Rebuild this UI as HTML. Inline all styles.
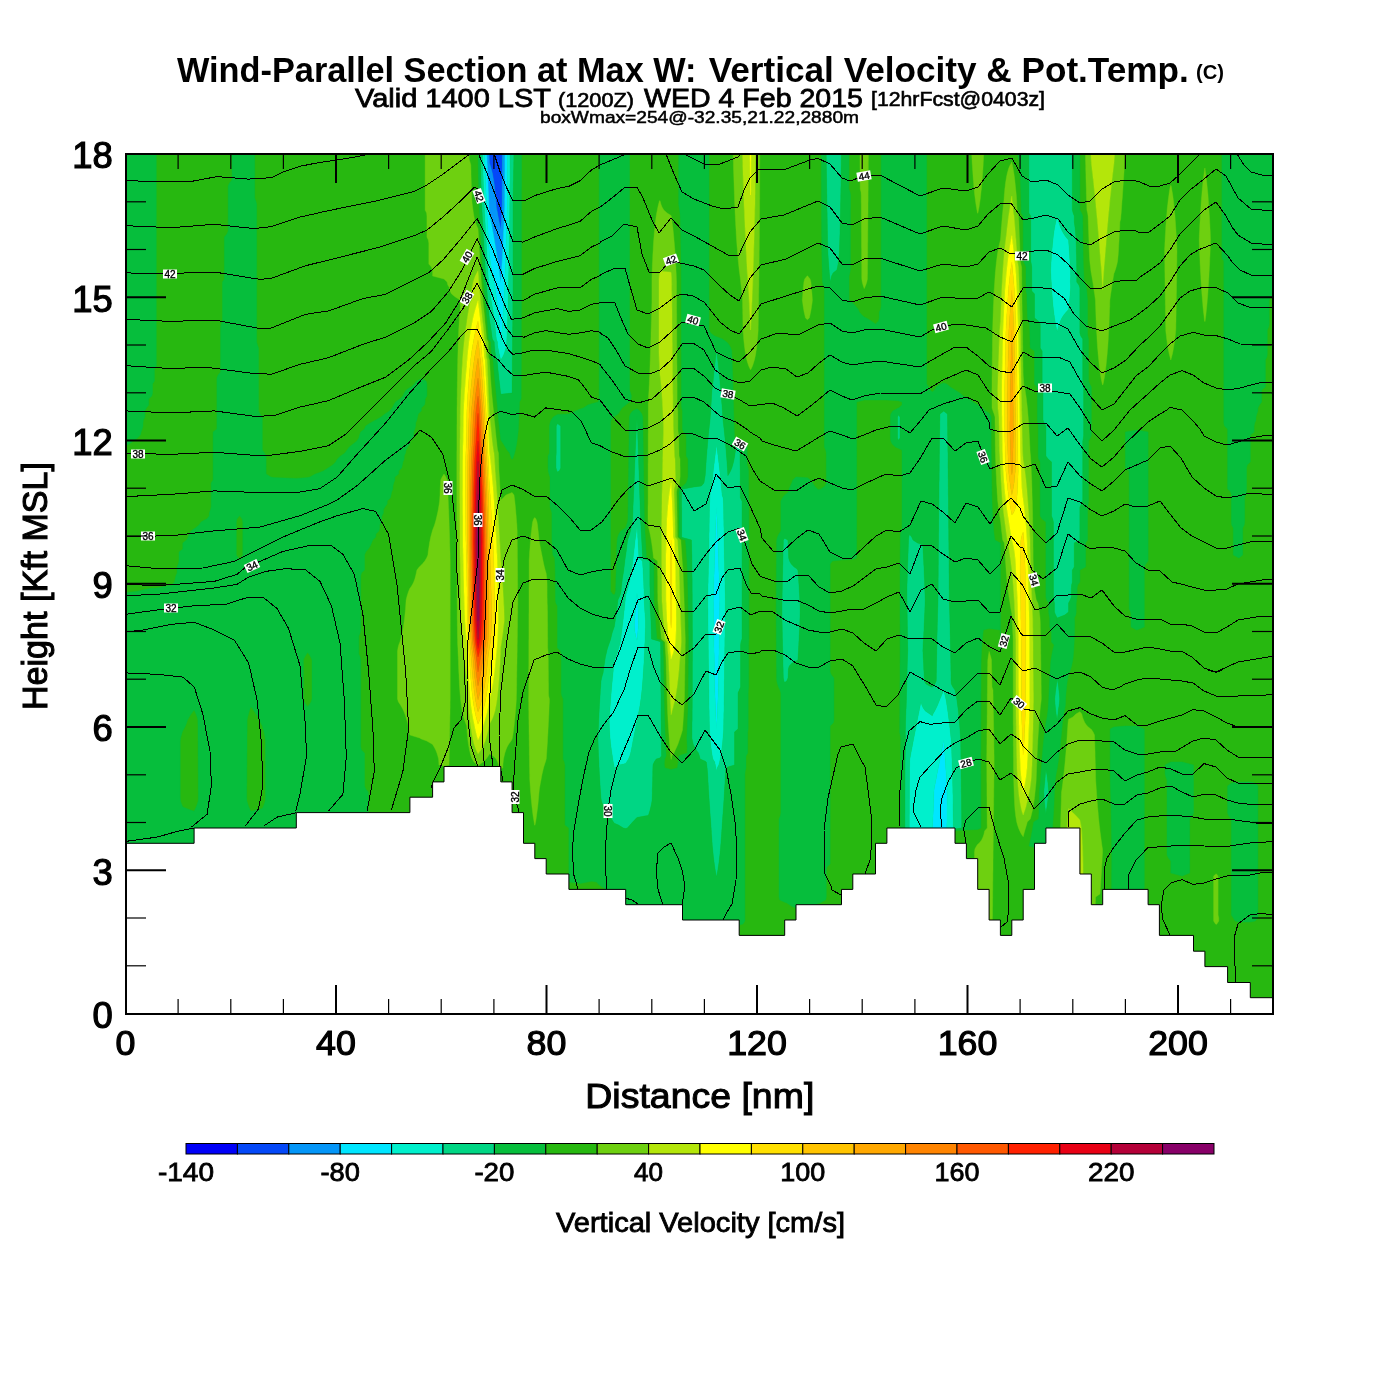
<!DOCTYPE html>
<html><head><meta charset="utf-8"><title>Wind-Parallel Section</title>
<style>html,body{margin:0;padding:0;background:#fff}svg{display:block}text{font-family:"Liberation Sans",sans-serif;fill:#000}</style>
</head><body>
<svg width="1400" height="1400" viewBox="0 0 1400 1400">
<rect width="1400" height="1400" fill="#fff"/>
<rect x="125" y="153" width="1148" height="861" fill="#27b810"/>
<clipPath id="pc"><rect x="125" y="154" width="1148" height="860"/></clipPath>
<g clip-path="url(#pc)">
<path fill="#0448f8" stroke="#0448f8" stroke-width="0.4" fill-rule="evenodd" d="M488.9,150 489.4,150 500.8,150 502.3,150 502.3,153 502.3,156 502.3,159 502.3,162 502.3,165 502.3,168 502.3,171 502.3,174 502.3,177 502.2,180 502.2,183 502.2,186 502.2,189 502.2,192 502.2,195 502.2,198 502.2,201 502.2,204 502.2,207 502,210 501.8,213 501.7,216 501.5,219 501.3,222 501.1,225 500.9,228 500.8,230.2 500.4,228 499.8,225 499.2,222 498.6,219 498,216 497.5,213 496.9,210 496.3,207 496.1,204 495.9,201 495.6,198 495.4,195 495.1,192 494.7,189 494.4,186 494,183 493.5,180 493,177 492.5,174 491.8,171 491,168 490.1,165 489.4,163 489.4,162 489.2,159 489.1,156 489,153 488.9,150Z"/>
<path fill="#0496f8" stroke="#0496f8" stroke-width="0.4" fill-rule="evenodd" d="M486.7,150 488.9,150 489,153 489.1,156 489.2,159 489.4,162 489.4,163 490.1,165 491,168 491.8,171 492.5,174 493,177 493.5,180 494,183 494.4,186 494.7,189 495.1,192 495.4,195 495.6,198 495.9,201 496.1,204 496.3,207 496.9,210 497.5,213 498,216 498.6,219 499.2,222 499.8,225 500.4,228 500.8,230.2 500.9,228 501.1,225 501.3,222 501.5,219 501.7,216 501.8,213 502,210 502.2,207 502.2,204 502.2,201 502.2,198 502.2,195 502.2,192 502.2,189 502.2,186 502.2,183 502.2,180 502.3,177 502.3,174 502.3,171 502.3,168 502.3,165 502.3,162 502.3,159 502.3,156 502.3,153 502.3,150 504.9,150 504.9,153 504.9,156 504.9,159 504.9,162 504.9,165 504.9,168 504.9,171 504.8,174 504.8,177 504.8,180 504.8,183 504.8,186 504.8,189 504.8,192 504.8,195 504.8,198 504.7,201 504.7,204 504.7,207 504.6,210 504.5,213 504.3,216 504.2,219 504.1,222 503.9,225 503.8,228 503.6,231 503.5,234 503.4,237 503.2,240 503.1,243 503,246 502.8,249 502.7,252 502.5,255 502.4,258 502.2,261 502,264 501.8,267 501.6,270 501.5,273 501.3,276 501.1,279 500.8,282 500.8,283.1 500.6,282 500.2,279 499.8,276 499.4,273 499,270 498.5,267 498.1,264 497.7,261 497.2,258 496.7,255 496.3,252 495.8,249 495.3,246 494.8,243 494.3,240 493.8,237 493.3,234 492.7,231 492.2,228 491.6,225 491,222 490.5,219 489.9,216 489.4,213.5 489.4,213 489.2,210 489,207 488.9,204 488.8,201 488.6,198 488.5,195 488.4,192 488.2,189 488.1,186 488,183 487.9,180 487.7,177 487.6,174 487.5,171 487.4,168 487.3,165 487.1,162 487,159 486.9,156 486.8,153 486.7,150Z"/>
<path fill="#00e6ff" stroke="#00e6ff" stroke-width="0.4" fill-rule="evenodd" d="M484.5,150 486.7,150 486.8,153 486.9,156 487,159 487.1,162 487.3,165 487.4,168 487.5,171 487.6,174 487.7,177 487.9,180 488,183 488.1,186 488.2,189 488.4,192 488.5,195 488.6,198 488.8,201 488.9,204 489,207 489.2,210 489.4,213 489.4,213.5 489.9,216 490.5,219 491,222 491.6,225 492.2,228 492.7,231 493.3,234 493.8,237 494.3,240 494.8,243 495.3,246 495.8,249 496.3,252 496.7,255 497.2,258 497.7,261 498.1,264 498.5,267 499,270 499.4,273 499.8,276 500.2,279 500.6,282 500.8,283.1 500.8,282 501.1,279 501.3,276 501.5,273 501.6,270 501.8,267 502,264 502.2,261 502.4,258 502.5,255 502.7,252 502.8,249 503,246 503.1,243 503.2,240 503.4,237 503.5,234 503.6,231 503.8,228 503.9,225 504.1,222 504.2,219 504.3,216 504.5,213 504.6,210 504.7,207 504.7,204 504.7,201 504.8,198 504.8,195 504.8,192 504.8,189 504.8,186 504.8,183 504.8,180 504.8,177 504.8,174 504.9,171 504.9,168 504.9,165 504.9,162 504.9,159 504.9,156 504.9,153 504.9,150 507.6,150 507.5,153 507.5,156 507.5,159 507.5,162 507.5,165 507.5,168 507.4,171 507.4,174 507.4,177 507.4,180 507.4,183 507.4,186 507.4,189 507.3,192 507.3,195 507.3,198 507.3,201 507.3,204 507.3,207 507.2,210 507.1,213 507,216 506.9,219 506.8,222 506.8,225 506.7,228 506.6,231 506.5,234 506.4,237 506.3,240 506.2,243 506.1,246 506,249 505.9,252 505.8,255 505.7,258 505.6,261 505.5,264 505.4,267 505.3,270 505.1,273 505,276 504.9,279 504.7,282 504.6,285 504.5,288 504.3,291 504.2,294 504.1,297 503.9,300 503.7,303 503.6,306 503.4,309 503.2,312 503.1,315 502.9,318 502.7,321 502.5,324 502.2,327 502,330 501.8,333 501.6,336 501.3,339 501,342 500.8,345 500.8,345 500.8,345 500.6,342 500.4,339 500.2,336 499.9,333 499.7,330 499.5,327 499.2,324 499,321 498.7,318 498.4,315 498.1,312 497.8,309 497.4,306 497.1,303 496.7,300 496.3,297 495.9,294 495.4,291 494.9,288 494.4,285 493.8,282 493.2,279 492.7,276 492.2,273 491.7,270 491.2,267 490.7,264 490.2,261 489.7,258 489.4,256.5 489.3,255 489.2,252 489,249 488.8,246 488.6,243 488.5,240 488.3,237 488.1,234 488,231 487.8,228 487.6,225 487.4,222 487.3,219 487.1,216 486.9,213 486.8,210 486.6,207 486.5,204 486.3,201 486.2,198 486.1,195 486,192 485.9,189 485.8,186 485.6,183 485.5,180 485.4,177 485.3,174 485.2,171 485.1,168 485,165 484.9,162 484.8,159 484.7,156 484.6,153 484.5,150ZM716.5,507 716.5,506.5 716.6,507 716.7,510 716.8,513 717,516 717.1,519 717.2,522 717.3,525 717.5,528 717.6,531 717.7,534 717.8,537 717.9,540 718,543 718.1,546 718.2,549 718.3,552 718.4,555 718.5,558 718.6,561 718.7,564 718.8,567 718.9,570 719,573 719.1,576 719.2,579 719.3,582 719.4,585 719.5,588 719.6,591 719.7,594 719.8,597 719.9,600 719.8,603 719.8,606 719.7,609 719.7,612 719.6,615 719.6,618 719.5,621 719.5,624 719.4,627 719.4,630 719.3,633 719.3,636 719.2,639 719.2,642 719.1,645 719.1,648 719,651 719,654 718.9,657 718.9,660 718.8,663 718.8,666 718.7,669 718.7,672 718.6,675 718.5,678 718.5,681 718.4,684 718.4,687 718.3,690 718.2,693 718.1,696 718,699 717.9,702 717.7,705 717.6,708 717.5,711 717.3,714 717.2,717 717,720 716.9,723 716.7,726 716.6,729 716.5,729.4 716.5,729 716.3,726 716.2,723 716,720 715.9,717 715.7,714 715.6,711 715.5,708 715.3,705 715.2,702 715.1,699 715,696 714.9,693 714.7,690 714.7,687 714.6,684 714.6,681 714.5,678 714.5,675 714.4,672 714.4,669 714.3,666 714.3,663 714.2,660 714.2,657 714.1,654 714,651 714,648 713.9,645 713.9,642 713.8,639 713.8,636 713.7,633 713.7,630 713.6,627 713.6,624 713.5,621 713.5,618 713.5,615 713.4,612 713.4,609 713.3,606 713.3,603 713.2,600 713.3,597 713.4,594 713.5,591 713.6,588 713.7,585 713.8,582 713.9,579 714,576 714.1,573 714.2,570 714.3,567 714.4,564 714.5,561 714.6,558 714.7,555 714.8,552 714.9,549 715,546 715.1,543 715.2,540 715.3,537 715.4,534 715.5,531 715.6,528 715.7,525 715.9,522 716,519 716.1,516 716.2,513 716.4,510 716.5,507ZM636.9,594 637,592.9 637.1,594 637.4,597 637.7,600 637.8,603 637.9,606 638,609 638.1,612 638.2,615 638.3,618 638.4,621 638.4,624 638.3,627 638,630 637.8,633 637.5,636 637.2,639 637,640.6 636.5,639 635.7,636 635.1,633 634.7,630 634.4,627 634.3,624 634.5,621 634.8,618 635,615 635.2,612 635.4,609 635.6,606 635.8,603 635.9,600 636.4,597 636.9,594ZM943.5,741 943.7,740.3 943.8,741 944,744 944.3,747 944.5,750 944.8,753 945,756 945.2,759 945.4,762 945.6,765 945.8,768 946,771 946.2,774 946.4,777 946.6,780 946.8,783 946.9,786 947.1,789 947.1,792 947.1,795 947.1,798 947.1,801 947.1,804 947,807 947,810 947,813 947,816 947,819 947,822 946.9,825 946.9,828 943.7,828.4 932.4,828 932.6,825 932.7,822 932.9,819 933,816 933.1,813 933.3,810 933.4,807 933.5,804 933.6,801 933.7,798 933.8,795 933.9,792 934.1,789 934.7,786 935.3,783 935.9,780 936.5,777 937,774 937.6,771 938.2,768 938.8,765 939.4,762 940,759 940.5,756 941.1,753 941.7,750 942.3,747 942.9,744 943.5,741Z"/>
<path fill="#00f0cc" stroke="#00f0cc" stroke-width="0.4" fill-rule="evenodd" d="M482.4,150 484.5,150 484.6,153 484.7,156 484.8,159 484.9,162 485,165 485.1,168 485.2,171 485.3,174 485.4,177 485.5,180 485.6,183 485.8,186 485.9,189 486,192 486.1,195 486.2,198 486.3,201 486.5,204 486.6,207 486.8,210 486.9,213 487.1,216 487.3,219 487.4,222 487.6,225 487.8,228 488,231 488.1,234 488.3,237 488.5,240 488.6,243 488.8,246 489,249 489.2,252 489.3,255 489.4,256.5 489.7,258 490.2,261 490.7,264 491.2,267 491.7,270 492.2,273 492.7,276 493.2,279 493.8,282 494.4,285 494.9,288 495.4,291 495.9,294 496.3,297 496.7,300 497.1,303 497.4,306 497.8,309 498.1,312 498.4,315 498.7,318 499,321 499.2,324 499.5,327 499.7,330 499.9,333 500.2,336 500.4,339 500.6,342 500.8,345 500.8,345 500.8,345 501,342 501.3,339 501.6,336 501.8,333 502,330 502.2,327 502.5,324 502.7,321 502.9,318 503.1,315 503.2,312 503.4,309 503.6,306 503.7,303 503.9,300 504.1,297 504.2,294 504.3,291 504.5,288 504.6,285 504.7,282 504.9,279 505,276 505.1,273 505.3,270 505.4,267 505.5,264 505.6,261 505.7,258 505.8,255 505.9,252 506,249 506.1,246 506.2,243 506.3,240 506.4,237 506.5,234 506.6,231 506.7,228 506.8,225 506.8,222 506.9,219 507,216 507.1,213 507.2,210 507.3,207 507.3,204 507.3,201 507.3,198 507.3,195 507.3,192 507.4,189 507.4,186 507.4,183 507.4,180 507.4,177 507.4,174 507.4,171 507.5,168 507.5,165 507.5,162 507.5,159 507.5,156 507.5,153 507.6,150 510.2,150 510.1,153 510.1,156 510.1,159 510.1,162 510.1,165 510.1,168 510,171 510,174 510,177 510,180 510,183 509.9,186 509.9,189 509.9,192 509.9,195 509.9,198 509.9,201 509.8,204 509.8,207 509.8,210 509.7,213 509.7,216 509.7,219 509.6,222 509.6,225 509.5,228 509.5,231 509.4,234 509.4,237 509.4,240 509.3,243 509.3,246 509.2,249 509.2,252 509.1,255 509.1,258 509,261 509,264 508.9,267 508.9,270 508.8,273 508.7,276 508.7,279 508.6,282 508.6,285 508.5,288 508.4,291 508.4,294 508.3,297 508.2,300 508.1,303 508.1,306 508,309 507.9,312 507.8,315 507.7,318 507.6,321 507.5,324 507.4,327 507.3,330 507.1,333 507,336 506.9,339 506.7,342 506.6,345 506,348 505.1,351 504.1,354 502.7,357 500.8,360 500.8,360 500.8,360 499.9,357 499.2,354 498.6,351 498,348 497.5,345 497.4,342 496.3,339 496,336 495.7,333 495.4,330 495.1,327 494.7,324 494.3,321 493.9,318 493.5,315 493.1,312 492.6,309 492.1,306 491.6,303 491.1,300 490.5,297 489.9,294 489.4,291.8 489.3,291 489.1,288 488.8,285 488.6,282 488.3,279 488.1,276 487.9,273 487.7,270 487.6,267 487.4,264 487.2,261 487.1,258 486.9,255 486.7,252 486.5,249 486.4,246 486.2,243 486,240 485.9,237 485.7,234 485.5,231 485.3,228 485.2,225 485,222 484.8,219 484.7,216 484.5,213 484.4,210 484.2,207 484.1,204 483.9,201 483.8,198 483.7,195 483.6,192 483.5,189 483.4,186 483.3,183 483.2,180 483.1,177 483,174 483,171 482.9,168 482.8,165 482.7,162 482.6,159 482.5,156 482.5,153 482.4,150ZM1057.2,216 1057.2,216 1057.2,216 1058,219 1058.8,222 1059.7,225 1060.8,228 1062.2,231 1063.9,234 1065.9,237 1068.6,240 1068.6,240 1068.8,243 1069,246 1069.2,249 1069.4,252 1069.6,255 1069.8,258 1070,261 1070.2,264 1070.3,267 1070.5,270 1070.6,273 1070.7,276 1070.5,279 1070.4,282 1070.6,285 1070.6,288 1070.4,291 1070.2,294 1069.9,297 1069.6,300 1069.3,303 1069,306 1068.7,309 1068.6,309.5 1066.3,312 1063.8,315 1061.9,318 1060.5,321 1059.4,324 1058.4,327 1057.7,330 1057.2,331.4 1056.7,330 1056.1,327 1055.5,324 1055,321 1054.5,318 1054.1,315 1053.7,312 1053.3,309 1053,306 1052.7,303 1052.5,300 1052.2,297 1052,294 1051.8,291 1051.6,288 1051.4,285 1051.2,282 1051,279 1050.9,276 1050.7,273 1050.6,270 1050.8,267 1050.9,264 1051.1,261 1051.3,258 1051.5,255 1051.7,252 1052,249 1052.3,246 1052.6,243 1052.9,240 1053.2,237 1053.6,234 1054,231 1054.5,228 1055.1,225 1055.7,222 1056.4,219 1057.2,216ZM716.2,447 716.5,445 716.8,447 717.3,450 717.7,453 718.1,456 718.4,459 718.8,462 719.2,465 719.5,468 719.8,471 720.2,474 720.5,477 720.8,480 721.1,483 721.3,486 721.6,489 721.9,492 722.1,495 723.2,498 723.4,501 723.5,504 723.6,507 723.7,510 723.7,513 723.8,516 723.8,519 723.9,522 723.9,525 724,528 724,531 724.1,534 724.1,537 724.1,540 724.2,543 724.2,546 724.3,549 724.3,552 724.4,555 724.4,558 724.5,561 724.6,564 724.6,567 724.7,570 724.8,573 724.9,576 724.9,579 725,582 725.1,585 725.1,588 725.2,591 725.3,594 725.3,597 725.4,600 725.4,603 725.3,606 725.3,609 725.3,612 725.2,615 725.2,618 725.2,621 725.1,624 725.1,627 725.1,630 725,633 725,636 724.9,639 724.9,642 724.9,645 724.8,648 724.8,651 724.8,654 724.7,657 724.7,660 724.7,663 724.6,666 724.6,669 724.5,672 724.5,675 724.5,678 724.4,681 724.4,684 724.3,687 724.3,690 724.3,693 724.2,696 724.2,699 724.1,702 724.1,705 724,708 724,711 723.9,714 723.9,717 723.8,720 723.8,723 723.7,726 723.7,729 723.5,732 723.3,735 723,738 722.8,741 722.5,744 722.1,747 721.8,750 721.3,753 720.8,756 720.3,759 719.6,762 718.8,765 717.2,768 716.5,771 716.5,771 716.5,771 715.9,768 715.3,765 714.7,762 712.8,759 712.2,756 711.7,753 711.3,750 710.9,747 710.6,744 710.3,741 710,738 709.8,735 709.6,732 709.4,729 709.4,726 709.3,723 709.2,720 709.2,717 709.1,714 709.1,711 709,708 709,705 708.9,702 708.9,699 708.9,696 708.8,693 708.8,690 708.7,687 708.7,684 708.6,681 708.6,678 708.6,675 708.5,672 708.5,669 708.5,666 708.4,663 708.4,660 708.3,657 708.3,654 708.3,651 708.2,648 708.2,645 708.2,642 708.1,639 708.1,636 708.1,633 708,630 708,627 707.9,624 707.9,621 707.9,618 707.8,615 707.8,612 707.8,609 707.7,606 707.7,603 707.7,600 707.7,597 707.8,594 707.9,591 707.9,588 708,585 708.1,582 708.1,579 708.2,576 708.3,573 708.3,570 708.4,567 708.5,564 708.6,561 708.6,558 708.7,555 708.8,552 708.8,549 708.9,546 708.9,543 708.9,540 709,537 709,534 709.1,531 709.1,528 709.1,525 709.2,522 709.2,519 709.3,516 709.3,513 709.4,510 709.4,507 709.5,504 709.7,501 709.8,498 710,495 710.2,492 711.5,489 711.7,486 712,483 712.3,480 712.6,477 712.9,474 713.2,471 713.6,468 713.9,465 714.3,462 714.6,459 715,456 715.4,453 715.8,450 716.2,447ZM716.5,506.5 716.5,507 716.4,510 716.2,513 716.1,516 716,519 715.9,522 715.7,525 715.6,528 715.5,531 715.4,534 715.3,537 715.2,540 715.1,543 715,546 714.9,549 714.8,552 714.7,555 714.6,558 714.5,561 714.4,564 714.3,567 714.2,570 714.1,573 714,576 713.9,579 713.8,582 713.7,585 713.6,588 713.5,591 713.4,594 713.3,597 713.2,600 713.3,603 713.3,606 713.4,609 713.4,612 713.5,615 713.5,618 713.5,621 713.6,624 713.6,627 713.7,630 713.7,633 713.8,636 713.8,639 713.9,642 713.9,645 714,648 714,651 714.1,654 714.2,657 714.2,660 714.3,663 714.3,666 714.4,669 714.4,672 714.5,675 714.5,678 714.6,681 714.6,684 714.7,687 714.7,690 714.9,693 715,696 715.1,699 715.2,702 715.3,705 715.5,708 715.6,711 715.7,714 715.9,717 716,720 716.2,723 716.3,726 716.5,729 716.5,729.4 716.6,729 716.7,726 716.9,723 717,720 717.2,717 717.3,714 717.5,711 717.6,708 717.7,705 717.9,702 718,699 718.1,696 718.2,693 718.3,690 718.4,687 718.4,684 718.5,681 718.5,678 718.6,675 718.7,672 718.7,669 718.8,666 718.8,663 718.9,660 718.9,657 719,654 719,651 719.1,648 719.1,645 719.2,642 719.2,639 719.3,636 719.3,633 719.4,630 719.4,627 719.5,624 719.5,621 719.6,618 719.6,615 719.7,612 719.7,609 719.8,606 719.8,603 719.9,600 719.8,597 719.7,594 719.6,591 719.5,588 719.4,585 719.3,582 719.2,579 719.1,576 719,573 718.9,570 718.8,567 718.7,564 718.6,561 718.5,558 718.4,555 718.3,552 718.2,549 718.1,546 718,543 717.9,540 717.8,537 717.7,534 717.6,531 717.5,528 717.3,525 717.2,522 717.1,519 717,516 716.8,513 716.7,510 716.6,507 716.5,506.5ZM636.8,525 637,522 637.2,525 637.4,528 637.5,531 637.7,534 637.8,537 638,540 638.1,543 638.3,546 638.5,549 638.6,552 638.8,555 638.9,558 642.5,561 642.7,564 642.9,567 643.1,570 643.2,573 643.4,576 643.5,579 643.7,582 643.8,585 643.9,588 644.1,591 644.2,594 644.3,597 644.4,600 644.4,603 644.5,606 644.7,609 644.9,612 645.1,615 645.4,618 645.5,621 645.5,624 645.5,627 645.4,630 645.3,633 645.2,636 645.1,639 645,642 644.8,645 644.7,648 644.6,651 644.4,654 644.3,657 644.1,660 644,663 643.8,666 643.6,669 643.4,672 643.2,675 643,678 642.8,681 642.5,684 642.3,687 642,690 641.7,693 641.3,696 641,699 640.5,702 640.1,705 639.6,708 639,711 638.4,714 637.8,717 637,720 637,720 636.5,723 635.9,726 635.4,729 634.8,732 634.2,735 633.6,738 633,741 632.5,744 631.9,747 631.3,750 630.7,753 629.8,756 628.5,759 626.7,762 625.7,763.5 619.5,765 614.3,768 614.3,768 614.3,768 613.8,765 613.2,762 612.7,759 612.3,756 611.8,753 611.4,750 611,747 610.6,744 610.3,741 610,738 609.8,735 609.6,732 609.5,729 609.3,726 609.2,723 609.1,720 609.3,717 609.5,714 609.7,711 609.9,708 610.2,705 610.4,702 610.6,699 610.9,696 611.1,693 611.4,690 611.6,687 611.9,684 612.2,681 612.5,678 612.8,675 613.1,672 613.4,669 613.7,666 614,663 614.3,660 614.3,660 615.8,657 616.9,654 617.8,651 618.7,648 619.5,645 620.2,642 620.7,639 621.1,636 621.5,633 621.9,630 622.2,627 622.6,624 622.9,621 623.3,618 623.6,615 623.9,612 624.3,609 624.6,606 624.9,603 625.2,600 625.5,597 625.7,595.6 626,594 626.9,591 627.8,588 628.5,585 629.3,582 629.9,579 630.5,576 631.1,573 631.7,570 632,567 632.4,564 632.7,561 633.1,558 633.4,555 633.8,552 634.1,549 634.5,546 634.8,543 635.1,540 635.6,537 636,534 636.3,531 636.6,528 636.8,525ZM637,592.9 636.9,594 636.4,597 635.9,600 635.8,603 635.6,606 635.4,609 635.2,612 635,615 634.8,618 634.5,621 634.3,624 634.4,627 634.7,630 635.1,633 635.7,636 636.5,639 637,640.6 637.2,639 637.5,636 637.8,633 638,630 638.3,627 638.4,624 638.4,621 638.3,618 638.2,615 638.1,612 638,609 637.9,606 637.8,603 637.7,600 637.4,597 637.1,594 637,592.9ZM943.7,690 943.7,690 943.7,690 944.5,693 945.2,696 945.9,699 946.5,702 946.9,705 947.4,708 947.8,711 948.2,714 948.6,717 949,720 949.4,723 949.7,726 950.1,729 950.4,732 950.7,735 951,738 951.3,741 951.4,744 951.5,747 951.7,750 951.8,753 951.9,756 952,759 952.1,762 952.2,765 952.3,768 952.4,771 952.5,774 952.6,777 952.7,780 952.7,783 952.8,786 952.9,789 952.9,792 953,795 953,798 953,801 953.1,804 953.1,807 953.1,810 953.2,813 953.2,816 953.3,819 953.3,822 953.3,825 953.4,828 943.7,829.2 932.3,828.9 921,828.7 909.6,828.1 909.2,828 909.2,825 909.2,822 909.2,819 909.2,816 909.3,813 909.3,810 909.3,807 909.3,804 909.3,801 909.4,798 909.4,795 909.4,792 909.4,789 909.4,786 909.4,783 909.5,780 909.5,777 909.5,774 909.5,771 909.5,768 909.6,765 909.6,762 909.6,761.2 909.8,759 910.4,756 910.9,753 911.5,750 912.1,747 912.7,744 913.2,741 913.8,738 914.4,735 915,732 915.6,729 916.2,726 916.7,723 917.3,720 917.9,717 918.5,714 919.1,711 919.7,708 920.3,705 921,702 921,702 921,702 921.9,705 923.2,708 925.4,711 929.8,714 932.3,715.7 932.9,714 934.7,711 936.2,708 937.6,705 938.8,702 940,699 941.3,696 942.5,693 943.7,690ZM943.7,740.3 943.5,741 942.9,744 942.3,747 941.7,750 941.1,753 940.5,756 940,759 939.4,762 938.8,765 938.2,768 937.6,771 937,774 936.5,777 935.9,780 935.3,783 934.7,786 934.1,789 933.9,792 933.8,795 933.7,798 933.6,801 933.5,804 933.4,807 933.3,810 933.1,813 933,816 932.9,819 932.7,822 932.6,825 932.4,828 943.7,828.4 946.9,828 946.9,825 947,822 947,819 947,816 947,813 947,810 947,807 947.1,804 947.1,801 947.1,798 947.1,795 947.1,792 947.1,789 946.9,786 946.8,783 946.6,780 946.4,777 946.2,774 946,771 945.8,768 945.6,765 945.4,762 945.2,759 945,756 944.8,753 944.5,750 944.3,747 944,744 943.8,741 943.7,740.3Z"/>
<path fill="#00d684" stroke="#00d684" stroke-width="0.4" fill-rule="evenodd" d="M480.2,150 482.4,150 482.5,153 482.5,156 482.6,159 482.7,162 482.8,165 482.9,168 483,171 483,174 483.1,177 483.2,180 483.3,183 483.4,186 483.5,189 483.6,192 483.7,195 483.8,198 483.9,201 484.1,204 484.2,207 484.4,210 484.5,213 484.7,216 484.8,219 485,222 485.2,225 485.3,228 485.5,231 485.7,234 485.9,237 486,240 486.2,243 486.4,246 486.5,249 486.7,252 486.9,255 487.1,258 487.2,261 487.4,264 487.6,267 487.7,270 487.9,273 488.1,276 488.3,279 488.6,282 488.8,285 489.1,288 489.3,291 489.4,291.8 489.9,294 490.5,297 491.1,300 491.6,303 492.1,306 492.6,309 493.1,312 493.5,315 493.9,318 494.3,321 494.7,324 495.1,327 495.4,330 495.7,333 496,336 496.3,339 497.4,342 497.5,345 498,348 498.6,351 499.2,354 499.9,357 500.8,360 500.8,360 500.8,360 502.7,357 504.1,354 505.1,351 506,348 506.6,345 506.7,342 506.9,339 507,336 507.1,333 507.3,330 507.4,327 507.5,324 507.6,321 507.7,318 507.8,315 507.9,312 508,309 508.1,306 508.1,303 508.2,300 508.3,297 508.4,294 508.4,291 508.5,288 508.6,285 508.6,282 508.7,279 508.7,276 508.8,273 508.9,270 508.9,267 509,264 509,261 509.1,258 509.1,255 509.2,252 509.2,249 509.3,246 509.3,243 509.4,240 509.4,237 509.4,234 509.5,231 509.5,228 509.6,225 509.6,222 509.7,219 509.7,216 509.7,213 509.8,210 509.8,207 509.8,204 509.9,201 509.9,198 509.9,195 509.9,192 509.9,189 509.9,186 510,183 510,180 510,177 510,174 510,171 510.1,168 510.1,165 510.1,162 510.1,159 510.1,156 510.1,153 510.2,150 512.1,150 514,150 514,153 513.9,156 513.9,159 513.8,162 513.8,165 513.7,168 513.6,171 513.6,174 513.5,177 513.5,180 513.4,183 513.4,186 513.3,189 513.3,192 513.2,195 513.1,198 513.1,201 513,204 513,207 513,210 513,213 513,216 513,219 513,222 513,225 513,228 513,231 513,234 513,237 513,240 513,243 513,246 513,249 513,252 513,255 513,258 513,261 513,264 513,267 513,270 513,273 513,276 513,279 513,282 513,285 513,288 513,291 513,294 513,297 513,300 512.9,303 512.9,306 512.9,309 512.9,312 512.8,315 512.8,318 512.8,321 512.8,324 512.7,327 512.7,330 512.7,333 512.7,336 512.6,339 512.6,342 512.6,345 512.5,348 512.5,351 512.5,354 512.5,357 512.4,360 512.4,363 512.4,366 512.4,369 512.3,372 512.3,375 512.3,378 512.2,381 512.2,384 512.2,387 512.2,390 512.1,393 512.1,393.1 500.8,394.3 500.6,393 500.2,390 499.9,387 499.5,384 499.2,381 498.8,378 498.5,375 498.2,372 497.9,369 497.6,366 497.3,363 497,360 495.7,357 495.3,354 494.9,351 494.6,348 494.3,345 494.2,342 492.3,339 491.9,336 491.5,333 491.1,330 490.6,327 490.2,324 489.7,321 489.4,319.3 489.3,318 489,315 488.8,312 488.5,309 488.2,306 488,303 487.7,300 487.4,297 487.2,294 486.9,291 486.7,288 486.4,285 486.1,282 485.9,279 485.7,276 485.5,273 485.3,270 485.1,267 485,264 484.8,261 484.6,258 484.4,255 484.3,252 484.1,249 483.9,246 483.8,243 483.6,240 483.4,237 483.2,234 483.1,231 482.9,228 482.7,225 482.6,222 482.4,219 482.2,216 482.1,213 481.9,210 481.8,207 481.6,204 481.5,201 481.4,198 481.3,195 481.2,192 481.1,189 481.1,186 481,183 480.9,180 480.8,177 480.8,174 480.7,171 480.6,168 480.6,165 480.5,162 480.4,159 480.3,156 480.3,153 480.2,150ZM826.1,150 830.1,150 841.5,150 841.5,150 841.5,150 841.4,153 841.4,156 841.3,159 841.3,162 841.3,165 841.2,168 841.2,171 841.1,174 841.1,177 841.1,180 841,183 841,186 840.9,189 840.9,192 840.8,195 840.8,198 840.7,201 840.6,204 840.6,207 840.5,210 840.5,213 840.4,216 840.3,219 840.3,222 840.2,225 840.1,228 840,231 840,234 839.9,237 839.8,240 839.7,243 839.6,246 839.5,249 839.4,252 839.1,255 838.8,258 838.5,261 838.1,264 837.6,267 836.9,270 833.1,273 831.6,276 830.9,279 830.1,282 830.1,282 830.1,282 829.8,279 829.6,276 829.3,273 829.1,270 828.8,267 828.6,264 828.4,261 828.2,258 828,255 827.8,252 827.7,249 827.6,246 827.6,243 827.5,240 827.5,237 827.4,234 827.4,231 827.3,228 827.3,225 827.2,222 827.2,219 827.1,216 827.1,213 827,210 827,207 826.9,204 826.9,201 826.8,198 826.8,195 826.7,192 826.7,189 826.6,186 826.6,183 826.6,180 826.5,177 826.5,174 826.4,171 826.4,168 826.3,165 826.3,162 826.3,159 826.2,156 826.2,153 826.1,150ZM1028.8,153 1034.5,151.5 1045.9,151.5 1057.2,151.5 1068.6,151.5 1072.4,153 1072.4,156 1072.4,159 1072.4,162 1072.4,165 1072.4,168 1072.4,171 1072.4,174 1072.4,177 1072.4,180 1072.4,183 1072.4,186 1072.4,189 1072.4,192 1072.4,195 1072.4,198 1072.4,201 1072.4,204 1072.4,207 1072.4,210 1073.1,213 1074.3,216 1074.3,219 1074.3,222 1074.7,225 1075.1,228 1075.4,231 1075.7,234 1075.9,237 1076.2,240 1076.2,243 1076.3,246 1076.4,249 1076.4,252 1076.5,255 1076.6,258 1076.6,261 1076.7,264 1076.7,267 1076.8,270 1076.8,273 1076.9,276 1076.8,279 1076.8,282 1078.9,285 1079.9,288 1079.9,288 1079.9,291 1079.9,294 1079.9,297 1079.9,300 1079.9,303 1079.9,306 1079.9,309 1079.9,312 1079.9,315 1079.9,318 1079.9,321 1079.9,324 1079.9,327 1079.9,330 1079.9,333 1080.8,336 1082.8,339 1082.8,342 1082.8,345 1082.8,348 1082.8,351 1082.8,354 1082.8,357 1082.8,360 1082.8,363 1082.8,366 1082.8,369 1082.8,372 1082.8,375 1082.8,378 1082.8,381 1083.2,384 1083.7,387 1083.7,390 1083.7,393 1083.7,396 1083.7,399 1083.7,402 1083.7,405 1083.7,408 1083.7,411 1083.7,414 1083.7,417 1083.7,420 1083.7,423 1083.7,426 1083.7,429 1083.7,432 1083.7,435 1083.4,438 1082.8,441 1082.8,444 1082.8,447 1082.8,450 1082.8,453 1082.8,456 1082.8,459 1082.8,462 1082.8,465 1082.8,468 1082.8,471 1082.8,474 1082.8,477 1082.8,480 1082.8,483 1082.8,486 1082.8,489 1082.8,492 1082.8,495 1082.8,498 1082.8,501 1081.6,504 1079.9,507 1079.9,510 1079.9,513 1079.9,516 1079.9,519 1079.9,522 1079.9,525 1079.9,528 1079.9,531 1079.9,534 1079.9,537 1079.9,540 1079.9,540 1074.3,543 1074.3,546 1074.3,549 1074.3,552 1074.3,555 1074.3,558 1074.3,561 1074.3,564 1074.3,567 1072.4,570 1072.4,573 1072.4,576 1072.4,579 1072.4,582 1071.6,585 1071.4,588 1071.4,591 1071.4,594 1071.4,597 1070.2,600 1068.6,603 1068.6,606 1068.6,609 1068.6,612 1068.6,612 1064.8,615 1057.2,618 1057.2,621 1057.2,624 1057.2,627 1057.2,627 1057.2,627 1057.2,624 1057.2,621 1057.2,618 1055.6,615 1054.4,612 1054.4,609 1054.4,606 1054.4,603 1053.7,600 1053.4,597 1053.4,594 1053.4,591 1053.4,588 1053.4,585 1053.4,582 1053.4,579 1053.4,576 1053.4,573 1053.4,570 1053.4,567 1053.4,564 1053.4,561 1053.4,558 1053.4,555 1053.4,552 1053.4,549 1053.4,546 1053.4,543 1053.4,540 1053.4,537 1053.4,534 1053.4,531 1053.4,528 1053.4,525 1053.4,522 1052.7,519 1051.5,516 1051.5,513 1051.5,510 1051.5,507 1051.5,504 1051.5,501 1051.5,498 1051.5,495 1051.5,492 1051.5,489 1051.5,486 1051.5,483 1051.5,480 1051.5,477 1051.5,474 1051.5,471 1051.5,468 1051.5,465 1051.5,462 1048.1,459 1045.9,456 1045.9,456 1045.9,453 1045.9,450 1045.9,447 1045.9,444 1045.9,441 1045.9,438 1045.9,435 1045.9,432 1045.9,429 1045.9,426 1044.2,423 1043,420 1043,417 1043,414 1043,411 1043,408 1043,405 1043,402 1043,399 1043,396 1043,393 1043,390 1042.8,387 1042.1,384 1042.1,381 1042.1,378 1042.1,375 1042.1,372 1042.1,369 1042.1,366 1042.1,363 1042.1,360 1042.1,357 1042.1,354 1042.1,351 1040.2,348 1040.2,345 1040.2,342 1040.2,339 1040.2,336 1040.2,333 1040.2,330 1040.2,327 1040.2,324 1038.3,321 1034.5,318 1034.5,318 1034.5,315 1034.5,312 1034.5,309 1034.5,306 1034.5,303 1034.5,300 1034.5,297 1034.5,294 1031.7,291 1031.7,288 1031.7,285 1031.7,282 1031.7,279 1031.7,276 1031.7,273 1031.7,270 1031.7,267 1031.3,264 1030.7,261 1030.7,258 1030.7,255 1030.7,252 1030.7,249 1030.7,246 1030.7,243 1030.7,240 1030.7,237 1030.7,234 1030.7,231 1030.7,228 1030.7,225 1030.7,222 1030.7,219 1030.7,216 1028.8,213 1028.8,210 1028.8,207 1028.8,204 1028.8,201 1028.8,198 1028.8,195 1028.8,192 1028.8,189 1028.8,186 1028.8,183 1028.8,180 1028.8,177 1028.8,174 1028.8,171 1028.8,168 1028.8,165 1028.8,162 1028.8,159 1028.8,156 1028.8,153ZM1057.2,216 1057.2,216 1056.4,219 1055.7,222 1055.1,225 1054.5,228 1054,231 1053.6,234 1053.2,237 1052.9,240 1052.6,243 1052.3,246 1052,249 1051.7,252 1051.5,255 1051.3,258 1051.1,261 1050.9,264 1050.8,267 1050.6,270 1050.7,273 1050.9,276 1051,279 1051.2,282 1051.4,285 1051.6,288 1051.8,291 1052,294 1052.2,297 1052.5,300 1052.7,303 1053,306 1053.3,309 1053.7,312 1054.1,315 1054.5,318 1055,321 1055.5,324 1056.1,327 1056.7,330 1057.2,331.4 1057.7,330 1058.4,327 1059.4,324 1060.5,321 1061.9,318 1063.8,315 1066.3,312 1068.6,309.5 1068.7,309 1069,306 1069.3,303 1069.6,300 1069.9,297 1070.2,294 1070.4,291 1070.6,288 1070.6,285 1070.4,282 1070.5,279 1070.7,276 1070.6,273 1070.5,270 1070.3,267 1070.2,264 1070,261 1069.8,258 1069.6,255 1069.4,252 1069.2,249 1069,246 1068.8,243 1068.6,240 1068.6,240 1065.9,237 1063.9,234 1062.2,231 1060.8,228 1059.7,225 1058.8,222 1058,219 1057.2,216 1057.2,216ZM716.4,351 716.5,350.8 716.7,351 717,354 717.4,357 717.8,360 718.1,363 718.4,366 718.8,369 719.1,372 719.4,375 719.7,378 720,381 720.2,384 720.5,387 720.8,390 721,393 721.3,396 721.5,399 721.7,402 722,405 722.2,408 722.4,411 722.6,414 722.8,417 723,420 723.4,423 723.7,426 724.1,429 724.4,432 724.7,435 725,438 725.3,441 725.5,444 725.8,447 726.1,450 726.3,453 726.5,456 726.8,459 727,462 727.2,465 727.4,468 727.6,471 727.8,474 727.9,475.6 728.9,474 730.5,471 731.8,468 732.7,465 733.5,462 734.1,459 734.7,456 735.1,453 735.5,450 735.8,447 739.2,446.4 740,447 740,450 740,453 740,456 740,459 740,462 740.1,465 740.2,468 740.3,471 740.3,474 740.3,477 740.3,480 740.3,483 740.4,486 740.4,489 740.4,492 740.4,495 740.4,498 742,501 742,504 742,507 742,510 742,513 742,516 742,519 742,522 742,525 742,528 742,531 742,534 742,537 742,540 742,543 742,546 742,549 742,552 742,555 742,558 742,561 742,564 742,567 742,570 742,573 742,576 742,579 742,582 742,585 742,588 742,591 742,594 742,597 742,600 742,603 742,606 742,609 742,612 742,615 742,618 742,621 742,624 742,627 742,630 742,633 742,636 742,639 741,642 740.6,645 740.6,648 740.6,651 740.6,654 740.6,657 740.6,660 740.6,663 740.6,666 740.6,669 740.6,672 740.6,675 740.6,678 740.6,681 740.6,684 740.6,687 739.3,690 739.2,690.3 738,693 738,696 738,699 738,702 738,705 738,708 738,711 738,714 738,717 738,720 738,723 738,726 738,729 734.6,732 734.6,735 734.6,738 734.6,741 734.6,744 734.6,747 734.6,750 734.6,753 734.6,756 734.6,759 734.6,762 734.6,765 727.9,767 726,768 725.6,771 725.5,774 725.3,777 725.1,780 725,783 724.8,786 724.6,789 724.4,792 724.3,795 724.1,798 723.9,801 723.7,804 723.5,807 723.3,810 723.1,813 722.8,816 722.6,819 722.4,822 722.2,825 722,828 721.8,831 721.6,834 721.4,837 721.2,840 721,843 720.7,846 720.5,849 720.2,852 719.9,855 719.5,858 719.2,861 718.8,864 718.3,867 717.9,870 717.3,873 716.7,876 716.5,876.2 716.3,876 715.7,873 715.2,870 714.7,867 714.3,864 713.9,861 713.5,858 713.2,855 712.9,852 712.6,849 712.3,846 712.1,843 711.9,840 711.7,837 711.4,834 711.3,831 711.1,828 710.9,825 710.7,822 710.5,819 710.2,816 710,813 709.8,810 709.6,807 709.4,804 709.2,801 709,798 708.8,795 708.6,792 708.4,789 708.3,786 708.1,783 707.9,780 707.8,777 707.6,774 707.4,771 707.1,768 706.7,765 706.3,762 705.2,761.2 700.1,759 699.4,756 698.4,753 696.2,750 695.1,747 693.8,746.1 693.1,744 692.5,741 691.8,738 691.9,735 691.9,732 691.9,729 692,726 692,723 692.1,720 692.1,717 692.1,714 692.1,711 692.2,708 692.2,705 692.2,702 692.3,699 692.3,696 692.3,693 692.3,690 692.3,687 692.3,684 692.3,681 692.3,678 692.3,675 692.3,672 692.3,669 692.3,666 692.3,663 692.4,660 692.4,657 692.4,654 692.4,651 692.4,648 692.4,645 692.4,642 692.4,639 692.4,636 692.4,633 692.4,630 692.3,627 692.3,624 692.3,621 692.3,618 692.3,615 692.3,612 692.2,609 692.2,606 692.2,603 692.2,600 692.2,597 692.2,594 692.1,591 692.1,588 692.1,585 692.1,582 692.1,579 692,576 692,573 692,570 692,567 691.9,564 691.9,561 691.8,558 691.8,555 691.7,552 691.6,549 691.6,546 691.5,543 691.4,540 682.5,537.6 681.6,537 681.6,534 681.6,531 681.6,528 681.6,525 681.6,522 681.6,519 681.6,516 681.6,513 681.6,510 681.5,507 681.5,504 681.5,501 681.5,498 681.5,495 681.5,492 682.5,489.1 682.8,489 693.8,486.9 701.3,486 703.9,483 704.4,480 704.9,477 705.2,475.6 705.3,474 705.5,471 705.7,468 705.9,465 706.1,462 706.3,459 706.5,456 706.8,453 707,450 707.3,447 707.5,444 707.8,441 708.1,438 708.4,435 708.7,432 709,429 709.3,426 709.7,423 710,420 710.2,417 710.5,414 710.7,411 710.9,408 711,405 711.2,402 711.4,399 711.5,396 711.7,393 711.9,390 712.6,387 712.8,384 713.1,381 713.4,378 713.7,375 714,372 714.3,369 714.6,366 715,363 715.3,360 715.7,357 716,354 716.4,351ZM716.5,445 716.2,447 715.8,450 715.4,453 715,456 714.6,459 714.3,462 713.9,465 713.6,468 713.2,471 712.9,474 712.6,477 712.3,480 712,483 711.7,486 711.5,489 710.2,492 710,495 709.8,498 709.7,501 709.5,504 709.4,507 709.4,510 709.3,513 709.3,516 709.2,519 709.2,522 709.1,525 709.1,528 709.1,531 709,534 709,537 708.9,540 708.9,543 708.9,546 708.8,549 708.8,552 708.7,555 708.6,558 708.6,561 708.5,564 708.4,567 708.3,570 708.3,573 708.2,576 708.1,579 708.1,582 708,585 707.9,588 707.9,591 707.8,594 707.7,597 707.7,600 707.7,603 707.7,606 707.8,609 707.8,612 707.8,615 707.9,618 707.9,621 707.9,624 708,627 708,630 708.1,633 708.1,636 708.1,639 708.2,642 708.2,645 708.2,648 708.3,651 708.3,654 708.3,657 708.4,660 708.4,663 708.5,666 708.5,669 708.5,672 708.6,675 708.6,678 708.6,681 708.7,684 708.7,687 708.8,690 708.8,693 708.9,696 708.9,699 708.9,702 709,705 709,708 709.1,711 709.1,714 709.2,717 709.2,720 709.3,723 709.4,726 709.4,729 709.6,732 709.8,735 710,738 710.3,741 710.6,744 710.9,747 711.3,750 711.7,753 712.2,756 712.8,759 714.7,762 715.3,765 715.9,768 716.5,771 716.5,771 716.5,771 717.2,768 718.8,765 719.6,762 720.3,759 720.8,756 721.3,753 721.8,750 722.1,747 722.5,744 722.8,741 723,738 723.3,735 723.5,732 723.7,729 723.7,726 723.8,723 723.8,720 723.9,717 723.9,714 724,711 724,708 724.1,705 724.1,702 724.2,699 724.2,696 724.3,693 724.3,690 724.3,687 724.4,684 724.4,681 724.5,678 724.5,675 724.5,672 724.6,669 724.6,666 724.7,663 724.7,660 724.7,657 724.8,654 724.8,651 724.8,648 724.9,645 724.9,642 724.9,639 725,636 725,633 725.1,630 725.1,627 725.1,624 725.2,621 725.2,618 725.2,615 725.3,612 725.3,609 725.3,606 725.4,603 725.4,600 725.3,597 725.3,594 725.2,591 725.1,588 725.1,585 725,582 724.9,579 724.9,576 724.8,573 724.7,570 724.6,567 724.6,564 724.5,561 724.4,558 724.4,555 724.3,552 724.3,549 724.2,546 724.2,543 724.1,540 724.1,537 724.1,534 724,531 724,528 723.9,525 723.9,522 723.8,519 723.8,516 723.7,513 723.7,510 723.6,507 723.5,504 723.4,501 723.2,498 722.1,495 721.9,492 721.6,489 721.3,486 721.1,483 720.8,480 720.5,477 720.2,474 719.8,471 719.5,468 719.2,465 718.8,462 718.4,459 718.1,456 717.7,453 717.3,450 716.8,447 716.5,445ZM943.7,411 943.7,411 943.7,411 947.5,414 947.5,417 947.6,420 947.6,423 947.6,426 947.7,429 947.7,432 947.7,435 947.8,438 947.8,441 947.9,444 947.9,447 947.9,450 948,453 948,456 948,459 948.1,462 948.1,465 948.1,468 948.2,471 948.2,474 948.2,477 948.3,480 948.3,483 948.3,486 948.4,489 948.4,492 948.4,495 948.5,498 948.5,501 948.5,504 948.5,507 948.6,510 948.6,513 948.6,516 948.7,519 948.7,522 948.7,525 948.7,528 948.8,531 948.8,534 948.8,537 948.8,540 948.9,543 948.9,546 948.9,549 949,552 949,555 949,558 949,561 949.1,564 949.1,567 949.1,570 949.1,573 949.2,576 949.2,579 949.2,582 949.2,585 949.2,588 949.3,591 949.3,594 949.3,597 949.3,600 949.4,603 949.5,606 949.6,609 949.7,612 949.8,615 949.9,618 949.9,621 950,624 950.1,627 950.2,630 950.2,633 950.3,636 950.4,639 950.4,642 950.5,645 950.5,648 950.6,651 950.7,654 950.7,657 950.8,660 950.8,663 950.9,666 950.9,669 951,672 951,675 951.1,678 951.1,681 951.4,684 952.9,687 955,690 955,690 955.7,693 956.2,696 956.8,699 957.2,702 957.6,705 958,708 958.4,711 958.7,714 959,717 959.3,720 959.5,723 959.8,726 960,729 960.2,732 960.4,735 960.6,738 960.7,741 960.8,744 960.8,747 960.9,750 960.9,753 960.9,756 961,759 961,762 961.1,765 961.1,768 961.1,771 961.2,774 961.2,777 961.3,780 961.3,783 961.3,786 961.4,789 961.4,792 961.5,795 961.5,798 961.5,801 961.6,804 961.6,807 961.6,810 961.7,813 961.7,816 961.7,819 961.8,822 961.8,825 961.8,828 955,829.1 943.7,830 932.3,829.8 921,829.7 909.6,829.4 904.8,828 904.8,825 904.8,822 904.8,819 904.8,816 904.9,813 904.9,810 904.9,807 904.9,804 904.9,801 904.9,798 904.9,795 904.9,792 904.9,789 905,786 905,783 905,780 905,777 905,774 905,771 905,768 905,765 905,762 905.1,759 905.1,756 905.2,753 905.3,750 905.4,747 905.4,744 905.5,741 905.6,738 905.4,735 905.3,732 905.4,729 905.5,726 905.5,723 905.6,720 905.7,717 905.8,714 905.9,711 906.1,708 906.2,705 906.3,702 906.4,699 906.4,696 906.5,693 906.6,690 906.7,687 906.7,684 906.8,681 906.9,678 907,675 907.1,672 907.1,669 907.2,666 907.3,663 907.4,660 907.5,657 907.6,654 907.7,651 907.7,648 907.6,645 907.6,642 907.5,639 907.5,636 907.4,633 907.4,630 907.4,627 907.3,624 907.3,621 907.2,618 907.2,615 907.1,612 907.1,609 907.1,606 907,603 907,600 906.9,597 906.9,594 906.9,591 906.9,588 907,585 907.1,582 907.2,579 907.3,576 907.4,573 907.5,570 907.5,567 907.6,564 907.8,561 907.9,558 908,555 908.1,552 908.2,549 908.3,546 908.4,543 908.5,540 908.7,537 909.6,534.2 911.7,537 913,540 917.6,543 921,544.1 922.9,546 923.1,549 923.2,552 923.4,555 923.5,558 923.7,561 923.8,564 924,567 924.1,570 924.2,573 924.3,576 924.5,579 924.6,582 924.7,585 924.8,588 924.9,591 925,594 925.1,597 925.2,600 925.1,603 925,606 924.9,609 924.8,612 924.6,615 924.5,618 924.4,621 924.2,624 924.1,627 924,630 923.8,633 923.7,636 923.5,639 923.3,642 923.1,645 923,648 922.9,651 923.1,654 923.2,657 923.4,660 923.6,663 923.7,666 923.8,669 924,672 924.1,675 924.3,678 924.4,681 926.1,684 931.7,687 932.3,687.1 932.4,687 934.8,684 936.2,681 936.3,678 936.3,675 936.4,672 936.4,669 936.5,666 936.5,663 936.6,660 936.6,657 936.7,654 936.7,651 936.8,648 936.8,645 936.9,642 937,639 937,636 937.1,633 937.2,630 937.2,627 937.3,624 937.4,621 937.5,618 937.5,615 937.6,612 937.7,609 937.8,606 937.9,603 938,600 938,597 938,594 938.1,591 938.1,588 938.1,585 938.1,582 938.1,579 938.2,576 938.2,573 938.2,570 938.2,567 938.3,564 938.3,561 938.3,558 938.3,555 938.4,552 938.4,549 938.4,546 938.5,543 938.5,540 938.5,537 938.5,534 938.6,531 938.6,528 938.6,525 938.6,522 938.7,519 938.7,516 938.7,513 938.8,510 938.8,507 938.8,504 938.8,501 938.9,498 938.9,495 938.9,492 939,489 939,486 939,483 939.1,480 939.1,477 939.1,474 939.2,471 939.2,468 939.2,465 939.3,462 939.3,459 939.3,456 939.4,453 939.4,450 939.4,447 939.5,444 939.5,441 939.5,438 939.6,435 939.6,432 939.7,429 939.7,426 939.7,423 939.8,420 939.8,417 939.9,414 943.7,411ZM943.7,690 943.7,690 942.5,693 941.3,696 940,699 938.8,702 937.6,705 936.2,708 934.7,711 932.9,714 932.3,715.7 929.8,714 925.4,711 923.2,708 921.9,705 921,702 921,702 921,702 920.3,705 919.7,708 919.1,711 918.5,714 917.9,717 917.3,720 916.7,723 916.2,726 915.6,729 915,732 914.4,735 913.8,738 913.2,741 912.7,744 912.1,747 911.5,750 910.9,753 910.4,756 909.8,759 909.6,761.2 909.6,762 909.6,765 909.5,768 909.5,771 909.5,774 909.5,777 909.5,780 909.4,783 909.4,786 909.4,789 909.4,792 909.4,795 909.4,798 909.3,801 909.3,804 909.3,807 909.3,810 909.3,813 909.2,816 909.2,819 909.2,822 909.2,825 909.2,828 909.6,828.1 921,828.7 932.3,828.9 943.7,829.2 953.4,828 953.3,825 953.3,822 953.3,819 953.2,816 953.2,813 953.1,810 953.1,807 953.1,804 953,801 953,798 953,795 952.9,792 952.9,789 952.8,786 952.7,783 952.7,780 952.6,777 952.5,774 952.4,771 952.3,768 952.2,765 952.1,762 952,759 951.9,756 951.8,753 951.7,750 951.5,747 951.4,744 951.3,741 951,738 950.7,735 950.4,732 950.1,729 949.7,726 949.4,723 949,720 948.6,717 948.2,714 947.8,711 947.4,708 946.9,705 946.5,702 945.9,699 945.2,696 944.5,693 943.7,690 943.7,690ZM637,417 637,416.9 637.1,417 637.2,420 637.3,423 637.5,426 637.6,429 637.7,432 637.8,435 637.9,438 638,441 638.1,444 638.2,447 638.3,450 638.4,453 638.5,456 638.6,459 638.7,462 638.8,465 638.9,468 639,471 639.1,474 639.2,477 639.3,480 639.4,483 639.5,486 639.6,489 639.7,492 639.8,495 639.9,498 640,501 640.1,504 640.2,507 640.3,510 640.4,513 640.5,516 640.6,519 640.7,522 640.9,525 641.1,528 641.2,531 641.4,534 641.5,537 641.7,540 641.9,543 642,546 642.2,549 642.4,552 642.5,555 642.7,558 648.4,560.4 649.9,561 649.9,564 649.9,567 649.9,570 649.9,573 649.9,576 649.9,579 649.9,582 649.9,585 650,588 650,591 650,594 650,597 650,600 650,603 650.1,606 650.3,609 650.5,612 650.7,615 650.9,618 651,621 651.1,624 651.2,627 651.3,630 651.3,633 651.4,636 651.5,639 659.8,641.4 660.6,642 660.6,645 660.7,648 660.7,651 660.7,654 660.8,657 660.8,660 660.8,663 660.8,666 660.8,669 660.8,672 660.9,675 660.9,678 660.9,681 660.9,684 660.9,687 660.9,690 661,693 661,696 661,699 661,702 661,705 661,708 661.1,711 661.1,714 661.1,717 661.1,720 661.2,723 661.2,726 661.2,729 661.3,732 661.3,735 661.3,738 661.4,741 661.4,744 661.4,747 661.5,750 661.5,753 661.6,756 659.8,758.1 656.3,759 654.2,762 653,765 652.9,768 652.8,771 652.8,774 652.7,777 652.7,780 652.6,783 652.5,786 652.4,789 652.4,792 652.3,795 652.2,798 652,801 651.5,804 650.8,807 650.1,810 649.2,813 648.4,815.4 644.8,816 637,817.5 635.6,819 632.7,822 630,825 627.4,828 625.7,828.6 623.3,828 618.4,825 614.3,823.3 613.4,822 611.5,819 609.6,816 607.7,813 605.9,810 604.1,807 603,805 602.5,804 601.4,801 600.9,798 600.7,795 600.5,792 600.3,789 600.1,786 599.9,783 599.7,780 599.6,777 599.4,774 599.2,771 599.1,768 598.9,765 598.8,762 598.7,759 598.5,756 598.4,753 598.3,750 598.2,747 598.1,744 598,741 598,738 598.1,735 598.2,732 598.3,729 598.5,726 598.6,723 598.7,720 598.8,717 599,714 599.1,711 599.3,708 599.4,705 599.6,702 599.8,699 600,696 600.2,693 600.3,690 600.6,687 600.8,684 601,681 601.6,678 602.4,675 603,673.3 603.2,672 603.6,669 604,666 604.5,663 604.9,660 605.4,657 606.1,654 606.8,651 607.6,648 608.6,645 609.7,642 610.7,639 611.4,636 612.1,633 613.1,630 614.2,627 614.3,626.7 614.7,624 615.2,621 615.6,618 616,615 616.4,612 616.8,609 617.2,606 617.6,603 617.9,600 619.3,597 620.4,594 621,591 621.3,588 621.6,585 622,582 622.3,579 622.8,576 623.3,573 623.8,570 624.1,567 624.5,564 624.8,561 625.2,558 625.7,555 625.7,555 626.1,552 626.5,549 626.8,546 627.2,543 627.6,540 628.7,537 629.6,534 630.4,531 631.1,528 631.7,525 632.3,522 632.6,519 632.7,516 632.8,513 632.9,510 633,507 633.1,504 633.3,501 633.4,498 633.5,495 633.6,492 633.8,489 633.9,486 634.1,483 634.2,480 634.3,477 634.4,474 634.5,471 634.6,468 634.7,465 634.8,462 635,459 635.1,456 635.2,453 635.3,450 635.5,447 635.6,444 635.7,441 635.9,438 636,435 636.2,432 636.3,429 636.5,426 636.6,423 636.8,420 637,417ZM637,522 636.8,525 636.6,528 636.3,531 636,534 635.6,537 635.1,540 634.8,543 634.5,546 634.1,549 633.8,552 633.4,555 633.1,558 632.7,561 632.4,564 632,567 631.7,570 631.1,573 630.5,576 629.9,579 629.3,582 628.5,585 627.8,588 626.9,591 626,594 625.7,595.6 625.5,597 625.2,600 624.9,603 624.6,606 624.3,609 623.9,612 623.6,615 623.3,618 622.9,621 622.6,624 622.2,627 621.9,630 621.5,633 621.1,636 620.7,639 620.2,642 619.5,645 618.7,648 617.8,651 616.9,654 615.8,657 614.3,660 614.3,660 614,663 613.7,666 613.4,669 613.1,672 612.8,675 612.5,678 612.2,681 611.9,684 611.6,687 611.4,690 611.1,693 610.9,696 610.6,699 610.4,702 610.2,705 609.9,708 609.7,711 609.5,714 609.3,717 609.1,720 609.2,723 609.3,726 609.5,729 609.6,732 609.8,735 610,738 610.3,741 610.6,744 611,747 611.4,750 611.8,753 612.3,756 612.7,759 613.2,762 613.8,765 614.3,768 614.3,768 614.3,768 619.5,765 625.7,763.5 626.7,762 628.5,759 629.8,756 630.7,753 631.3,750 631.9,747 632.5,744 633,741 633.6,738 634.2,735 634.8,732 635.4,729 635.9,726 636.5,723 637,720 637,720 637.8,717 638.4,714 639,711 639.6,708 640.1,705 640.5,702 641,699 641.3,696 641.7,693 642,690 642.3,687 642.5,684 642.8,681 643,678 643.2,675 643.4,672 643.6,669 643.8,666 644,663 644.1,660 644.3,657 644.4,654 644.6,651 644.7,648 644.8,645 645,642 645.1,639 645.2,636 645.3,633 645.4,630 645.5,627 645.5,624 645.5,621 645.4,618 645.1,615 644.9,612 644.7,609 644.5,606 644.4,603 644.4,600 644.3,597 644.2,594 644.1,591 643.9,588 643.8,585 643.7,582 643.5,579 643.4,576 643.2,573 643.1,570 642.9,567 642.7,564 642.5,561 638.9,558 638.8,555 638.6,552 638.5,549 638.3,546 638.1,543 638,540 637.8,537 637.7,534 637.5,531 637.4,528 637.2,525 637,522ZM897.5,417 898.2,415.1 900.1,417 900.1,420 900.1,423 900.1,426 900.1,429 900.1,432 900.1,435 900.1,438 898.2,440.2 897.5,438 897.5,435 897.5,432 897.5,429 897.5,426 897.5,423 897.5,420 897.5,417ZM556.2,426 557.5,423.4 560.8,426 560.8,429 560.8,432 560.8,435 560.8,438 560.8,441 560.8,444 560.8,447 560.8,450 560.8,453 560.8,456 560.8,459 560.8,462 560.8,465 560.8,468 559.3,471 557.5,471.9 556.8,471 556,468 556,465 556,462 556,459 556,456 556.2,453 556.2,450 556.2,447 556.2,444 556.2,441 556.2,438 556.2,435 556.2,432 556.2,429 556.2,426ZM783.3,540 784.7,538.2 787.9,540 788.1,543 788.2,546 788.3,549 788.5,552 788.6,555 788.7,558 789.6,561 791.3,564 794.2,567 796,568.1 797.9,570 798.2,573 798.4,576 798.6,579 798.8,582 799,585 799.2,588 799.3,591 799.5,594 799.7,597 799.8,600 800,603 800.1,606 800.2,609 800.2,612 800.1,615 800,618 799.9,621 799.8,624 799.6,627 799.5,630 799.4,633 799.2,636 799.1,639 798.9,642 798.8,645 798.6,648 798.5,651 798.3,654 798.1,657 797.9,660 796,661.2 792.2,663 789.3,666 788.4,669 788.3,672 788.2,675 788,678 786.8,681 784.7,682.4 783.9,681 783.3,678 783.2,675 783.1,672 783.1,669 783,666 782.9,663 782.9,660 782.8,657 782.7,654 782.7,651 782.6,648 782.5,645 782.5,642 782.4,639 782.3,636 782.3,633 782.2,630 782.2,627 782.1,624 782,621 782,618 781.9,615 781.9,612 781.9,609 781.9,606 782,603 782,600 782.1,597 782.1,594 782.2,591 782.3,588 782.3,585 782.4,582 782.4,579 782.5,576 782.6,573 782.6,570 782.7,567 782.8,564 782.8,561 782.9,558 783,555 783,552 783.1,549 783.2,546 783.3,543 783.3,540ZM1056.9,681 1057.2,679 1057.6,681 1058.2,684 1058.6,687 1058.9,690 1059.3,693 1059.5,696 1059.7,699 1059.5,702 1059.2,705 1058.7,708 1058.3,711 1058,714 1057.6,717 1057.3,720 1057.2,720.2 1057.2,720 1056.6,717 1056.1,714 1055.7,711 1055.4,708 1055.1,705 1054.9,702 1054.7,699 1055,696 1055.3,693 1055.7,690 1056.1,687 1056.5,684 1056.9,681ZM1045.7,771 1045.9,769.5 1046.2,771 1046.8,774 1047.3,777 1047.6,780 1048,783 1048.2,786 1048.5,789 1048.7,792 1048.4,795 1048.1,798 1047.8,801 1047.4,804 1047,807 1046.5,810 1046.1,813 1045.9,814.1 1045.7,813 1045.3,810 1044.9,807 1044.6,804 1044.3,801 1044.1,798 1043.9,795 1043.7,792 1044,789 1044.3,786 1044.6,783 1044.9,780 1045.1,777 1045.4,774 1045.7,771Z"/>
<path fill="#06be3c" stroke="#06be3c" stroke-width="0.4" fill-rule="evenodd" d="M125,150 137.4,150 148.7,150 156.3,150 156.3,153 156.3,156 156.3,159 156.3,162 156.3,165 156.3,168 156.3,171 156.3,174 156.3,177 156.3,180 156.3,183 156.3,186 156.3,189 156.3,192 156.3,195 156.3,198 156.3,201 156.3,204 156.3,207 156.3,210 156.3,213 156.3,216 156.3,219 156.3,222 156.3,225 156.3,228 156.3,231 156.3,234 156.3,237 156.3,240 156.3,243 156.3,246 156.3,249 156.3,252 156.3,255 156.3,258 156.3,261 156.3,264 156.3,267 156.3,270 156.3,273 156.3,276 156.3,279 156.3,282 156.3,285 156.3,288 156.3,291 156.3,294 156.3,297 156.3,300 156.3,303 156.3,306 156.3,309 156.3,312 156.3,315 156.3,318 156.3,321 156.3,324 156.3,327 156.3,330 156.3,333 156.3,336 156.3,339 156.3,342 156.3,345 156.3,348 156.3,351 156.3,354 156.3,357 156.3,360 156.3,363 156.3,366 154.4,369 154.4,372 154.4,375 154.4,378 154.4,381 152.5,384 152.5,387 152.5,390 152.5,393 151.8,396 148.7,399 148.7,402 148.7,405 148.7,405 146.4,408 144.9,411 144.9,414 144.9,417 143.4,420 143,423 143,426 142.2,429 141.1,432 140.5,435 137.4,438 137.4,438 133.2,441 129.1,444 125,445.5 125,444 125,441 125,438 125,435 125,432 125,429 125,426 125,423 125,420 125,417 125,414 125,411 125,408 125,405 125,402 125,399 125,396 125,393 125,390 125,387 125,384 125,381 125,378 125,375 125,372 125,369 125,366 125,363 125,360 125,357 125,354 125,351 125,348 125,345 125,342 125,339 125,336 125,333 125,330 125,327 125,324 125,321 125,318 125,315 125,312 125,309 125,306 125,303 125,300 125,297 125,294 125,291 125,288 125,285 125,282 125,279 125,276 125,273 125,270 125,267 125,264 125,261 125,258 125,255 125,252 125,249 125,246 125,243 125,240 125,237 125,234 125,231 125,228 125,225 125,222 125,219 125,216 125,213 125,210 125,207 125,204 125,201 125,198 125,195 125,192 125,189 125,186 125,183 125,180 125,177 125,174 125,171 125,168 125,165 125,162 125,159 125,156 125,153 125,150ZM232,150 239.6,150 250.9,150 254.7,150 254.7,153 254.7,156 254.7,159 254.7,162 254.7,165 254.7,168 254.7,171 254.7,174 254.7,177 254.7,180 254.7,183 254.7,186 254.7,189 254.7,192 254.7,195 254.7,198 255.8,201 256.6,204 256.6,207 256.6,210 256.6,213 256.6,216 256.6,219 256.6,222 256.6,225 256.6,228 256.6,231 256.6,234 256.6,237 256.6,240 256.6,243 256.6,246 256.6,249 256.6,252 256.6,255 256.6,258 256.6,261 256.6,264 256.6,267 256.6,270 256.6,273 256.6,276 256.6,279 256.6,282 256.6,285 256.6,288 256.6,291 256.6,294 256.6,297 256.6,300 256.6,303 256.6,306 256.6,309 256.6,312 256.6,315 256.6,318 256.6,321 256.6,324 256.6,327 256.6,330 256.6,333 256.6,336 256.6,339 256.6,342 257.4,345 258.5,348 258.5,351 258.5,354 258.5,357 258.5,360 258.5,363 258.5,366 258.5,369 258.5,372 258.5,375 258.5,378 258.5,381 258.5,384 258.5,387 258.5,390 258.5,393 258.5,396 258.5,399 258.5,402 258.5,405 258.5,408 258.5,411 260,414 262.3,417 262.3,417 262.3,420 262.3,423 262.3,426 262.3,429 262.3,432 262.3,435 262.3,438 262.3,441 262.3,444 262.3,447 262.3,450 264.5,453 266.1,456 266.1,459 266.1,462 266.1,465 266.1,468 266.1,471 266.1,474 270.8,477 273.6,477.6 285,478 296.3,478.4 307.7,477.6 310,477 315.3,474 319.1,472.7 323.4,471 328.1,468 330.4,466.5 332.7,465 335.7,462 337.4,459 340.5,456 341.8,455.2 344.9,453 347.1,450 349.3,447 353.1,444 353.1,444 356.9,441 358.8,438 359.6,435 360.7,432 364.5,429 364.5,429 365.7,426 370.2,423 375.8,420 375.8,420 381.1,417 384.9,414 387.2,412.5 389.5,411 392.1,408 393.7,405 395.5,402 398.6,399.8 399.8,399 402.9,396 404.2,393 406.1,390 409.9,387.6 411.2,387 414.3,384 416.4,381 421.3,378.8 426.1,381 426.9,384 426.9,387 426.9,390 426.9,393 426.9,396 425.1,399 425.1,402 424.4,405 421.3,408 421.3,411 421.3,411 418.2,414 417.5,417 416.9,420 415.6,423 415.6,426 414.8,429 413.7,432 413.7,435 413,438 409.9,441 409.9,444 409.9,444 407.6,447 406.1,450 405.5,453 404.2,456 404.2,459 402.9,462 402.3,465 401.7,468 398.6,471 398.6,474 398.6,474 394.8,477 394.8,480 393.7,483 392.9,486 392.9,489 391.6,492 391,495 390.3,498 387.2,501 387.2,504 387.2,504 384.9,507 383.4,510 383.4,513 381.9,516 381.5,519 381.5,522 379.6,525 379.6,528 378.9,531 375.8,534 375.8,537 375.8,537 372.7,540 371.5,543 370.2,546 368.3,549 365.7,552 364.5,555 364.5,558 364.5,561 364.5,564 364.5,567 364.5,570 364.5,570 361.4,573 360.7,576 360.7,579 360.7,582 360.7,585 360.7,588 360.7,591 360.7,594 360.7,597 360.7,600 360.7,603 360.7,606 360.7,609 360.7,612 360.7,615 360.7,618 360.7,621 360.7,624 360.7,627 360.7,630 360.1,633 358.8,636 358.8,639 358.8,642 358.8,645 358.8,648 358.8,651 358.8,654 360.1,657 360.7,660 360.7,663 360.7,666 360.7,669 360.7,672 360.7,675 360.7,678 360.7,681 360.7,684 360.7,687 360.7,690 360.7,693 360.7,696 360.7,699 360.7,702 360.7,705 360.7,708 360.7,711 360.7,714 360.7,717 360.7,720 360.7,723 360.7,726 360.7,729 360.7,732 360.7,735 360.7,738 360.7,741 360.7,744 360.7,747 361.4,750 364.5,753 364.5,753 364.5,756 364.5,759 364.5,762 364.5,765 364.5,768 364.5,771 364.5,774 364.5,777 364.5,780 364.5,783 364.5,786 365.7,789 368.3,792 368.3,795 368.3,798 368.3,801 368.3,804 368.3,807 368.3,810 368.3,813 368.3,816 368.3,819 368.3,822 368.3,825 368.3,828 368.3,831 368.3,834 368.3,837 368.3,840 368.3,843 368.3,846 368.3,849 368.3,852 368.3,855 364.5,856.3 353.1,857 341.8,857 330.4,857 319.1,857 307.7,857 296.3,857 285,857 273.6,857 262.3,857 250.9,857 239.6,857 228.2,857 216.9,857 205.5,857 194.1,857 182.8,857 171.4,857 160.1,857 148.7,857 137.4,857 125,857 125,855 125,852 125,849 125,846 125,843 125,840 125,837 125,834 125,831 125,828 125,825 125,822 125,819 125,816 125,813 125,810 125,807 125,804 125,801 125,798 125,795 125,792 125,789 125,786 125,783 125,780 125,777 125,774 125,771 125,768 125,765 125,762 125,759 125,756 125,753 125,750 125,747 125,744 125,741 125,738 125,735 125,732 125,729 125,726 125,723 125,720 125,717 125,714 125,711 125,708 125,705 125,702 125,699 125,696 125,693 125,690 125,687 125,684 125,681 125,678 125,675 125,672 125,669 125,666 125,663 125,660 125,657 125,654 125,651 125,648 125,645 125,642 125,639 125,636 125,633 125,630 125,627 125,624 125,621 125,618 125,615 125,612 125,609 125,606 125,603 125,600 125,597 125,594 125,592.8 137.4,591.3 138.6,591 148.7,588.6 156.3,588 160.1,587.6 171.4,585 171.4,585 174.5,582 175.2,579 175.8,576 177.1,573 177.1,570 177.1,567 178.4,564 179,561 179,558 179,555 179,552 182.8,549 182.8,546 182.8,543 182.8,543 186.6,540 188.1,537 189.3,534 191,531 194.1,528.8 195.4,528 199,525 201.1,522 205.5,519.5 206.8,519 209.3,516 209.3,513 210.4,510 211.2,507 211.2,504 211.2,501 211.2,498 211.2,495 211.2,492 211.2,489 211.2,486 211.2,483 213.1,480 213.1,477 213.1,474 213.1,471 213.1,468 213.1,465 213.1,462 213.1,459 213.1,456 213.1,453 213.1,450 213.1,447 213.1,444 213.1,441 213.1,438 213.1,435 213.1,432 216.9,429 216.9,426 216.9,423 216.9,420 216.9,417 216.9,414 216.9,411 216.9,408 216.9,405 216.9,402 216.9,399 216.9,396 216.9,393 216.9,390 216.9,387 216.9,384 216.9,381 216.9,378 216.9,378 218.1,375 220.6,372 220.6,369 220.6,366 220.6,363 220.6,360 220.6,357 220.6,354 220.6,351 220.6,348 220.6,345 220.6,342 220.6,339 220.6,336 220.6,333 220.6,330 220.6,327 221.2,324 222.5,321 222.5,318 222.5,315 222.5,312 222.5,309 222.5,306 222.5,303 222.5,300 222.5,297 222.5,294 222.5,291 222.5,288 222.5,285 222.5,282 224.4,279 224.4,276 224.4,273 224.4,270 224.4,267 224.4,264 224.4,261 224.4,258 224.4,255 224.4,252 224.4,249 224.4,246 224.4,243 224.4,240 224.4,237 226.9,234 228.2,231 228.2,228 228.2,225 228.2,222 228.2,219 228.2,216 228.2,213 228.2,210 228.2,207 228.2,204 228.2,201 228.2,198 228.2,195 228.2,192 228.2,189 228.2,186 228.2,186 229.5,183 232,180 232,177 232,174 232,171 232,168 232,165 232,162 232,159 232,156 232,153 232,150ZM239.6,515.7 239.3,516 236.9,519 236.3,522 236.3,525 236.3,528 236.3,531 236.3,534 236.3,537 236.3,540 236.3,543 236.3,546 236.3,549 236.3,552 236.3,555 238.3,558 239.6,559.3 240.8,558 242.8,555 242.8,552 242.8,549 242.8,546 242.8,543 242.8,540 242.8,537 242.8,534 242.8,531 242.8,528 242.8,525 242.8,522 242.2,519 239.9,516 239.6,515.7ZM250.9,706.7 250.4,708 249.3,711 248.5,714 247.7,717 247.1,720 247.1,723 247.1,726 247.1,729 247.1,732 247,735 247,738 247,741 247,744 247,747 247,750 246.9,753 246.9,756 246.9,759 246.9,762 246.9,765 246.8,768 246.8,771 246.8,774 246.8,777 246.8,780 246.8,783 246.7,786 246.7,789 246.7,792 246.7,795 246.7,798 246.9,801 247.8,804 248.8,807 250.2,810 250.9,811.2 256.6,810 262.3,808.6 263.1,807 264.3,804 265.2,801 265.5,798 265.5,795 265.5,792 265.5,789 265.5,786 265.5,783 265.5,780 265.5,777 265.5,774 265.5,771 265.5,768 265.5,765 265.5,762 265.5,759 265.5,756 265.5,753 265.5,750 265.5,747 265.5,744 265.5,741 265.2,738 264.6,735 264,732 263.2,729 262.4,726 262.3,725.7 260.8,723 259.5,720 257.9,717 256.1,714 254.1,711 252,708 250.9,706.7ZM307.7,652.5 306.5,654 304.7,657 303.4,660 303.4,663 303.4,666 303.4,669 303.4,672 303.4,675 303.4,678 303.4,681 303.4,684 303.4,687 303.4,690 303.4,693 303.4,696 303.4,699 304.3,702 306.2,705 307.7,706.8 309.2,705 311.1,702 312,699 312,696 312,693 312,690 312,687 312,684 312,681 312,678 312,675 312,672 312,669 312,666 312,663 312,660 310.7,657 308.9,654 307.7,652.5ZM194.1,710 193.3,711 191.1,714 189.2,717 187.5,720 186.6,723 185.4,726 183.9,729 182.8,730.8 182.3,732 181.4,735 180.6,738 180.2,741 180.2,744 180.2,747 180.2,750 180.2,753 180.2,756 180.2,759 180.2,762 180.2,765 180.2,768 180.2,771 180.2,774 180.2,777 180.2,780 180.2,783 180.2,786 180.2,789 180.2,792 180.2,795 180.2,798 180.5,801 181.5,804 182.8,806.9 182.9,807 190.4,810 194.1,811.2 194.8,810 196.2,807 197.3,804 198.2,801 198.4,798 198.4,795 198.4,792 198.3,789 198.3,786 198.3,783 198.3,780 198.3,777 198.3,774 198.2,771 198.2,768 198.2,765 198.2,762 198.2,759 198.1,756 198.1,753 198.1,750 198.1,747 198.1,744 198.1,741 198,738 198,735 198,732 198,729 198,726 197.9,723 197.9,720 197.1,717 196,714 194.7,711 194.1,710ZM478,150 478,150 480.2,150 480.3,153 480.3,156 480.4,159 480.5,162 480.6,165 480.6,168 480.7,171 480.8,174 480.8,177 480.9,180 481,183 481.1,186 481.1,189 481.2,192 481.3,195 481.4,198 481.5,201 481.6,204 481.8,207 481.9,210 482.1,213 482.2,216 482.4,219 482.6,222 482.7,225 482.9,228 483.1,231 483.2,234 483.4,237 483.6,240 483.8,243 483.9,246 484.1,249 484.3,252 484.4,255 484.6,258 484.8,261 485,264 485.1,267 485.3,270 485.5,273 485.7,276 485.9,279 486.1,282 486.4,285 486.7,288 486.9,291 487.2,294 487.4,297 487.7,300 488,303 488.2,306 488.5,309 488.8,312 489,315 489.3,318 489.4,319.3 489.7,321 490.2,324 490.6,327 491.1,330 491.5,333 491.9,336 492.3,339 494.2,342 494.3,345 494.6,348 494.9,351 495.3,354 495.7,357 497,360 497.3,363 497.6,366 497.9,369 498.2,372 498.5,375 498.8,378 499.2,381 499.5,384 499.9,387 500.2,390 500.6,393 500.8,394.3 512.1,393.1 512.1,393 512.2,390 512.2,387 512.2,384 512.2,381 512.3,378 512.3,375 512.3,372 512.4,369 512.4,366 512.4,363 512.4,360 512.5,357 512.5,354 512.5,351 512.5,348 512.6,345 512.6,342 512.6,339 512.7,336 512.7,333 512.7,330 512.7,327 512.8,324 512.8,321 512.8,318 512.8,315 512.9,312 512.9,309 512.9,306 512.9,303 513,300 513,297 513,294 513,291 513,288 513,285 513,282 513,279 513,276 513,273 513,270 513,267 513,264 513,261 513,258 513,255 513,252 513,249 513,246 513,243 513,240 513,237 513,234 513,231 513,228 513,225 513,222 513,219 513,216 513,213 513,210 513,207 513,204 513.1,201 513.1,198 513.2,195 513.3,192 513.3,189 513.4,186 513.4,183 513.5,180 513.5,177 513.6,174 513.6,171 513.7,168 513.8,165 513.8,162 513.9,159 513.9,156 514,153 514,150 521.6,150 521.6,153 521.6,156 521.6,159 521.5,162 521.5,165 521.5,168 521.5,171 521.5,174 521.5,177 521.5,180 521.5,183 521.5,186 521.4,189 521.4,192 521.4,195 521.4,198 521.4,201 521.4,204 521.4,207 521.4,210 521.4,213 521.4,216 521.4,219 521.4,222 521.4,225 521.4,228 521.4,231 521.4,234 521.4,237 521.4,240 521.4,243 521.4,246 521.4,249 521.4,252 521.4,255 521.4,258 521.4,261 521.4,264 521.4,267 521.4,270 521.4,273 521.4,276 521.4,279 521.4,282 521.4,285 521.4,288 521.4,291 521.4,294 521.4,297 521.4,300 521.4,303 521.4,306 521.4,309 521.4,312 521.3,315 521.3,318 521.3,321 521.3,324 521.3,327 521.3,330 521.3,333 521.3,336 521.3,339 521.3,342 521.3,345 521.3,348 521.3,351 521.3,354 521.3,357 521.3,360 521.3,363 521.3,366 521.3,369 521.2,372 521.2,375 521.2,378 521.2,381 521.2,384 521.2,387 521.2,390 521.2,393 521.2,396 521.1,399 519.5,402 519.4,405 519.3,408 519.1,411 519,414 518.9,417 518.8,420 518.7,423 518.5,426 518.4,429 518.1,432 517.8,435 517.4,438 517,441 516.6,444 516,447 515.4,450 514.6,453 513.7,456 512.6,459 512.1,459.1 511.7,459 510.6,456 509.6,453 507.1,450 505.3,447 503.5,444 501.5,441 500.8,440 500.5,438 500.2,435 499.9,432 499.6,429 499.3,426 498.9,423 498.6,420 498.4,417 498.1,414 497.8,411 497.6,408 497.3,405 497,402 496.7,399 496.5,396 496.2,393 495.9,390 495.6,387 495.3,384 495,381 494.7,378 494.4,375 494.2,372 493.9,369 493.7,366 493.5,363 493.2,360 491.5,357 491.4,354 491.2,351 491.1,348 491,345 491,342 489.4,340.1 488.8,339 488.5,336 488.3,333 488,330 487.8,327 487.5,324 487.2,321 487,318 486.7,315 486.4,312 486.1,309 485.8,306 485.6,303 485.3,300 485,297 484.8,294 484.5,291 484.2,288 484,285 483.7,282 483.5,279 483.3,276 483.1,273 482.9,270 482.7,267 482.5,264 482.3,261 482.2,258 482,255 481.8,252 481.7,249 481.5,246 481.3,243 481.1,240 481,237 480.8,234 480.6,231 480.5,228 480.3,225 480.1,222 479.9,219 479.8,216 479.6,213 479.5,210 479.3,207 479.2,204 479.1,201 479,198 478.9,195 478.8,192 478.8,189 478.7,186 478.7,183 478.6,180 478.5,177 478.5,174 478.4,171 478.4,168 478.3,165 478.3,162 478.2,159 478.2,156 478.1,153 478,150 478,150ZM599.2,153 603,151 614.3,150 614.3,150 614.3,150 625.7,151 629.5,153 629.5,156 629.5,159 629.5,162 629.5,165 629.5,168 629.5,171 629.5,174 629.5,177 629.5,180 629.5,183 629.5,186 629.5,189 629.5,192 629.5,195 629.5,198 629.5,201 629.5,204 629.5,207 629.5,210 629.5,213 629.5,216 629.5,219 629.5,222 629.5,225 629.5,228 629.5,231 629.5,234 629.5,237 629.5,240 629.5,243 629.5,246 629.5,249 629.5,252 629.5,255 629.5,258 629.5,261 629.5,264 629.5,267 629.5,270 629.5,273 629.5,276 629.5,279 629.5,282 629.5,285 629.5,288 629.5,291 629.5,294 629.5,297 629.5,300 629.5,303 629.5,306 629.5,309 629.5,312 629.5,315 629.5,318 629.5,321 629.5,324 629.5,327 629.5,330 629.5,333 629.5,336 629.5,339 629.5,342 629.5,345 629.5,348 629.5,351 629.5,354 629.5,357 629.5,360 629.5,363 629.5,366 629.5,369 629.5,372 629.5,375 629.5,378 629.5,381 629.5,384 629.5,387 629.5,390 630.6,393 631.4,396 631,399 629.5,402 625.7,405 625.7,405 621.9,408 620,411 618.1,414 614.3,416.5 613.4,417 611,420 610.5,423 610.5,426 610.5,429 610.5,432 610.5,435 610.5,438 610.5,441 610.5,444 610.5,447 610.5,450 610.5,453 610.5,456 610.5,459 610.5,462 610.5,465 610.5,468 610.5,471 610.5,474 610.5,477 610.5,480 610.5,483 610.5,486 610.5,489 610.5,492 610.5,495 610.5,498 610.5,501 610.5,504 610.5,507 610.5,510 610.5,513 610.5,516 610.5,519 610.5,522 610.5,525 610.5,528 610.5,531 610.5,534 610.5,537 610.5,540 610.5,543 610.5,546 610.5,549 610.5,552 610.5,555 610.5,558 610.5,561 610.5,564 610.5,567 610.5,570 610.5,573 610.5,576 610.5,579 610.5,582 610.5,585 610.5,588 610.5,591 612.4,594 614.3,595 614.9,594 615.7,591 615.7,588 615.8,585 615.9,582 615.9,579 616,576 616.1,573 616.2,570 616.3,567 616.4,564 616.4,561 616.5,558 616.6,555 616.7,552 616.8,549 616.9,546 617,543 617.2,540 617.8,537 618.9,534 620.8,531 625.7,528 625.7,528 626.6,525 627.5,522 628,519 628,516 628.1,513 628.1,510 628.1,507 628.2,504 628.2,501 628.2,498 628.3,495 628.3,492 628.4,489 628.4,486 628.5,483 628.5,480 628.6,477 628.6,474 628.6,471 628.7,468 628.7,465 628.7,462 628.8,459 628.8,456 628.9,453 628.9,450 628.9,447 629,444 629,441 629.1,438 629.1,435 629.2,432 629.2,429 629.3,426 629.3,423 629.4,420 629.4,417 630.3,414 632.6,411 637,408.7 639.8,411 641.8,414 642.7,417 642.8,420 642.8,423 642.9,426 642.9,429 643,432 643,435 643.1,438 643.1,441 643.2,444 643.2,447 643.3,450 643.3,453 643.4,456 643.4,459 643.4,462 643.5,465 643.5,468 643.6,471 643.6,474 643.6,477 643.7,480 643.7,483 643.8,486 643.8,489 643.9,492 644,495 644,498 644.1,501 644.1,504 644.1,507 644.2,510 644.2,513 644.3,516 644.3,519 644.4,522 644.6,525 644.8,528 644.9,531 645.1,534 645.3,537 645.4,540 645.6,543 645.8,546 645.9,549 646.1,552 646.2,555 646.4,558 648.4,558.8 653.8,561 653.8,564 653.8,567 653.8,570 653.8,573 653.8,576 653.8,579 653.8,582 653.8,585 653.8,588 653.8,591 653.9,594 653.9,597 653.9,600 654,603 654.2,606 654.4,609 654.7,612 654.9,615 655.2,618 655.5,621 655.7,624 655.9,627 656.1,630 656.4,633 656.6,636 656.9,639 659.8,639.8 662.8,642 662.9,645 663,648 663.1,651 663.2,654 663.3,657 663.4,660 663.4,663 663.5,666 663.5,669 663.6,672 663.6,675 663.7,678 663.7,681 663.8,684 663.8,687 663.9,690 664,693 664,696 664.1,699 664.1,702 664.2,705 664.3,708 664.3,711 664.4,714 664.5,717 664.6,720 664.7,723 664.8,726 664.9,729 665,732 665.1,735 665.3,738 665.4,741 665.5,744 665.7,747 665.8,750 666,753 666.1,756 664.8,759 664.4,762 664.3,765 664.9,768 671.1,769.6 677.3,768 677.9,765 678.4,762 678.7,759 678.9,756 682.5,754.6 687.4,753 687.1,750 687.3,747 687.1,744 687,741 686.8,738 687,735 687.1,732 687.2,729 687.4,726 687.5,723 687.6,720 687.7,717 687.9,714 688,711 688.1,708 688.2,705 688.3,702 688.3,699 688.4,696 688.4,693 688.4,690 688.5,687 688.5,684 688.5,681 688.5,678 688.6,675 688.6,672 688.6,669 688.6,666 688.7,663 688.7,660 688.7,657 688.7,654 688.8,651 688.8,648 688.8,645 688.8,642 688.8,639 688.8,636 688.7,633 688.7,630 688.6,627 688.6,624 688.5,621 688.5,618 688.4,615 688.4,612 688.3,609 688.3,606 688.2,603 688.1,600 688.1,597 688,594 688,591 687.9,588 687.8,585 687.8,582 687.7,579 687.6,576 687.5,573 687.5,570 687.3,567 687.1,564 687,561 686.8,558 686.6,555 686.4,552 686.2,549 686,546 685.7,543 685.5,540 682.5,539.2 679.5,537 679.5,534 679.5,531 679.5,528 679.4,525 679.4,522 679.4,519 679.4,516 679.3,513 679.3,510 679.2,507 679.2,504 679.1,501 679.1,498 679.1,495 679,492 679.7,489 682.5,486.1 683,486 686.3,483 687.3,480 688.1,477 688.1,474 688.1,471 688.1,468 688.1,465 688.1,462 688.1,459 686.3,456 686.3,453 686.3,450 686.3,447 686.3,444 686.3,441 686.3,438 686.3,435 683.7,432 682.5,429 682.5,429 682.5,426 682.5,423 682.5,420 682.5,417 682.5,414 682.5,411 681.7,408 681.4,405 681.4,402 681.4,399 681.4,396 681.4,393 681.4,390 681.4,387 681.4,384 681.4,381 681.4,378 681.4,375 681.4,372 681.4,369 681.4,366 681.4,363 681.4,360 681.4,357 681.4,354 681.3,351 681.3,348 681.3,345 681.3,342 681.3,339 681.3,336 681.3,333 681.3,330 681.3,327 681.3,324 681.3,321 681.3,318 681.3,315 681.3,312 681.3,309 681.3,306 681.3,303 681.3,300 681.3,297 681.3,294 681.3,291 681.3,288 681.3,285 681.3,282 681.3,279 681.2,276 681.2,273 681.2,270 681.1,267 681.1,264 681.1,261 681,258 681,255 681,252 680.9,249 680.9,246 680.8,243 680.8,240 680.7,237 680.7,234 680.6,231 680.5,228 680.5,225 680.4,222 680.3,219 680.2,216 680,213 679.6,210 679.1,207 678.7,204 678.7,201 678.7,198 678.7,195 678.7,192 678.7,189 678.7,186 678.7,183 678.7,180 678.7,177 678.7,174 678.7,171 678.7,168 678.7,165 678.7,162 678.7,159 678.7,156 678.7,153 682.5,151 693.8,150 693.8,150 693.8,150 705.2,151 709,153 709,156 709,159 709,162 709,165 709,168 709,171 709,174 709,177 709,180 709,183 709,186 709,189 709,192 709,195 709,198 709,201 709,204 709,207 709,210 709,213 709,216 709,219 709,222 709,225 709,228 709,231 709,234 709,237 709,240 709,243 709,246 709,249 709,252 709,255 709,258 709,261 709,264 709,267 709,270 709,273 709,276 709,279 709,282 709,285 709,288 709,291 709,294 709,297 709,300 709,303 709,306 709,309 709,312 709,315 709,318 709,321 709,324 709,327 709,330 710.6,333 714.6,336 716.5,336.7 722.4,339 726.6,342 727.9,343.3 729.2,345 730.8,348 731.7,351 731.8,354 732,357 732.1,360 732.2,363 732.3,366 732.4,369 732.5,372 732.6,375 732.7,378 732.8,381 732.9,384 733,387 733.1,390 733.2,393 733.3,396 733.3,399 733.4,402 733.5,405 733.6,408 733.6,411 733.7,414 733.8,417 733.8,420 734,423 734.1,426 734.2,429 734.3,432 734.4,435 734.5,438 736.5,441 739.2,441.9 745.3,444 747.1,447 747.1,450 747.1,453 747.1,456 747.1,459 747.1,462 747.1,465 748.1,468 748.5,471 748.5,474 748.5,477 748.5,480 748.6,483 748.6,486 748.6,489 748.6,492 748.6,495 748.6,498 748.9,501 748.9,504 748.9,507 748.9,510 748.9,513 748.9,516 748.9,519 748.9,522 748.9,525 748.9,528 748.9,531 748.9,534 748.9,537 748.9,540 748.9,543 748.9,546 748.9,549 748.9,552 748.9,555 748.9,558 748.9,561 748.9,564 748.9,567 748.9,570 748.9,573 748.9,576 748.9,579 748.9,582 748.9,585 748.9,588 748.9,591 748.9,594 748.9,597 748.9,600 748.9,603 748.9,606 748.9,609 748.9,612 748.9,615 748.9,618 748.9,621 748.9,624 748.9,627 748.9,630 748.9,633 748.9,636 748.9,639 748.7,642 748.6,645 748.6,648 748.6,651 748.6,654 748.6,657 748.6,660 748.6,663 748.6,666 748.6,669 748.6,672 748.6,675 748.6,678 748.6,681 748.6,684 748.6,687 748.3,690 748.2,693 748.2,696 748.2,699 748.2,702 748.2,705 748.2,708 748.2,711 748.2,714 748.2,717 748.2,720 748.2,723 748.2,726 748.2,729 747.7,732 747.7,735 747.7,738 747.7,741 747.7,744 747.7,747 747.7,750 747.7,753 746,756 746,759 746,762 746,765 746,768 745.2,771 744.9,774 744.9,777 744.9,780 744.9,783 744.9,786 744.9,789 744.9,792 744.9,795 744.9,798 744.9,801 744.9,804 744.9,807 744.9,810 744.9,813 744.9,816 744.9,819 744.9,822 744.9,825 744.9,828 744.9,831 744.9,834 744.9,837 744.9,840 744.9,843 744.9,846 744.9,849 744.9,852 744.9,855 744.9,858 744.9,861 744.9,864 744.9,867 744.9,870 744.9,873 744.9,876 744.9,879 744.9,882 744.9,885 744.9,888 744.9,891 744.9,894 744.9,897 744.9,900 744.9,903 744.9,906 744.9,909 744.9,912 744.9,915 744.9,918 744.9,921 743,924 739.2,925 727.9,925 716.5,925 705.2,925 693.8,925 688.8,924 682.5,922.6 677.2,921 671.1,919.2 666.4,918 659.8,915.9 656.7,915 648.4,912.6 646.1,912 639.3,909 637,908.4 628.8,906 625.7,904.9 621.3,903 619.2,900 615.6,897 614.3,896.5 610,894 607.8,891 604.2,888 603,887.4 599.2,885 596.5,882 591.6,881.2 587.8,882 580.3,883.4 568.9,882 568.9,882 568.9,879 568.9,876 568.9,873 568.9,870 568.9,867 568.9,864 568.9,861 568.9,858 568.9,855 568.9,852 568.9,849 568.9,846 568.9,843 568.9,840 568.9,837 568.9,834 568.9,831 568.9,828 565.1,825 565.1,822 565.1,819 565.1,816 565.1,813 565.1,810 565.1,807 565.1,804 565.1,801 565.1,798 565.1,795 565.1,792 565.1,789 565.1,786 565.1,783 565.1,780 565.1,777 565.1,774 565.1,771 565.1,768 565.1,765 564.5,762 563.2,759 563.2,756 563.2,753 563.2,750 563.2,747 563.2,744 563.2,741 563.2,738 563.2,735 563.2,732 563.2,729 563.2,726 563.2,723 563.2,720 563.2,717 563.2,714 563.2,711 563.2,708 563.2,705 563.2,702 563.2,699 561.9,696 561.3,693 561.3,690 561.3,687 561.3,684 561.3,681 561.3,678 561.3,675 561.3,672 561.3,669 561.3,666 561.3,663 561.3,660 561.3,657 561.3,654 560.6,651 557.5,648 557.5,648 557.5,645 557.5,642 557.5,639 557.5,636 557.5,633 557.5,630 557.5,627 557.5,624 557.5,621 557.5,618 557.5,615 557.5,612 557.5,609 557.5,606 555.9,603 555.5,600 555.5,597 555.5,594 555.5,591 555.5,588 555.4,585 555.4,582 555.4,579 555.3,576 555.3,573 555.2,570 555.1,567 555,564 554.9,561 554.8,558 552.9,555 552.7,552 552.5,549 552.3,546 552.1,543 551.9,540 551.9,537 551.9,534 551.9,531 551.9,528 551.9,525 551.9,522 551.9,519 551.9,516 551.9,513 551.1,510 550,507 550,504 550,501 550,498 550,495 550,492 550,489 550,486 550,483 550,480 550,477 549,474 548.3,471 548.1,468 548.1,465 548.1,462 548.1,459 548.1,456 549.5,453 549.5,450 549.5,447 549.5,444 549.5,441 549.5,438 549.5,435 549.5,432 549.5,429 549.5,426 550,423 551.2,420 553.3,417 557.5,414.4 568.9,414 568.9,414 575.4,411 580.3,409 583.4,408 587.8,405 591.6,403.8 598.1,402 599.2,399 599.2,396 599.2,393 599.2,390 599.2,387 599.2,384 599.2,381 599.2,378 599.2,375 599.2,372 599.2,369 599.2,366 599.2,363 599.2,360 599.2,357 599.2,354 599.2,351 599.2,348 599.2,345 599.2,342 599.2,339 599.2,336 599.2,333 599.2,330 599.2,327 599.2,324 599.2,321 599.2,318 599.2,315 599.2,312 599.2,309 599.2,306 599.2,303 599.2,300 599.2,297 599.2,294 599.2,291 599.2,288 599.2,285 599.2,282 599.2,279 599.2,276 599.2,273 599.2,270 599.2,267 599.2,264 599.2,261 599.2,258 599.2,255 599.2,252 599.2,249 599.2,246 599.2,243 599.2,240 599.2,237 599.2,234 599.2,231 599.2,228 599.2,225 599.2,222 599.2,219 599.2,216 599.2,213 599.2,210 599.2,207 599.2,204 599.2,201 599.2,198 599.2,195 599.2,192 599.2,189 599.2,186 599.2,183 599.2,180 599.2,177 599.2,174 599.2,171 599.2,168 599.2,165 599.2,162 599.2,159 599.2,156 599.2,153ZM637,416.9 637,417 636.8,420 636.6,423 636.5,426 636.3,429 636.2,432 636,435 635.9,438 635.7,441 635.6,444 635.5,447 635.3,450 635.2,453 635.1,456 635,459 634.8,462 634.7,465 634.6,468 634.5,471 634.4,474 634.3,477 634.2,480 634.1,483 633.9,486 633.8,489 633.6,492 633.5,495 633.4,498 633.3,501 633.1,504 633,507 632.9,510 632.8,513 632.7,516 632.6,519 632.3,522 631.7,525 631.1,528 630.4,531 629.6,534 628.7,537 627.6,540 627.2,543 626.8,546 626.5,549 626.1,552 625.7,555 625.7,555 625.2,558 624.8,561 624.5,564 624.1,567 623.8,570 623.3,573 622.8,576 622.3,579 622,582 621.6,585 621.3,588 621,591 620.4,594 619.3,597 617.9,600 617.6,603 617.2,606 616.8,609 616.4,612 616,615 615.6,618 615.2,621 614.7,624 614.3,626.7 614.2,627 613.1,630 612.1,633 611.4,636 610.7,639 609.7,642 608.6,645 607.6,648 606.8,651 606.1,654 605.4,657 604.9,660 604.5,663 604,666 603.6,669 603.2,672 603,673.3 602.4,675 601.6,678 601,681 600.8,684 600.6,687 600.3,690 600.2,693 600,696 599.8,699 599.6,702 599.4,705 599.3,708 599.1,711 599,714 598.8,717 598.7,720 598.6,723 598.5,726 598.3,729 598.2,732 598.1,735 598,738 598,741 598.1,744 598.2,747 598.3,750 598.4,753 598.5,756 598.7,759 598.8,762 598.9,765 599.1,768 599.2,771 599.4,774 599.6,777 599.7,780 599.9,783 600.1,786 600.3,789 600.5,792 600.7,795 600.9,798 601.4,801 602.5,804 603,805 604.1,807 605.9,810 607.7,813 609.6,816 611.5,819 613.4,822 614.3,823.3 618.4,825 623.3,828 625.7,828.6 627.4,828 630,825 632.7,822 635.6,819 637,817.5 644.8,816 648.4,815.4 649.2,813 650.1,810 650.8,807 651.5,804 652,801 652.2,798 652.3,795 652.4,792 652.4,789 652.5,786 652.6,783 652.7,780 652.7,777 652.8,774 652.8,771 652.9,768 653,765 654.2,762 656.3,759 659.8,758.1 661.6,756 661.5,753 661.5,750 661.4,747 661.4,744 661.4,741 661.3,738 661.3,735 661.3,732 661.2,729 661.2,726 661.2,723 661.1,720 661.1,717 661.1,714 661.1,711 661,708 661,705 661,702 661,699 661,696 661,693 660.9,690 660.9,687 660.9,684 660.9,681 660.9,678 660.9,675 660.8,672 660.8,669 660.8,666 660.8,663 660.8,660 660.8,657 660.7,654 660.7,651 660.7,648 660.6,645 660.6,642 659.8,641.4 651.5,639 651.4,636 651.3,633 651.3,630 651.2,627 651.1,624 651,621 650.9,618 650.7,615 650.5,612 650.3,609 650.1,606 650,603 650,600 650,597 650,594 650,591 650,588 649.9,585 649.9,582 649.9,579 649.9,576 649.9,573 649.9,570 649.9,567 649.9,564 649.9,561 648.4,560.4 642.7,558 642.5,555 642.4,552 642.2,549 642,546 641.9,543 641.7,540 641.5,537 641.4,534 641.2,531 641.1,528 640.9,525 640.7,522 640.6,519 640.5,516 640.4,513 640.3,510 640.2,507 640.1,504 640,501 639.9,498 639.8,495 639.7,492 639.6,489 639.5,486 639.4,483 639.3,480 639.2,477 639.1,474 639,471 638.9,468 638.8,465 638.7,462 638.6,459 638.5,456 638.4,453 638.3,450 638.2,447 638.1,444 638,441 637.9,438 637.8,435 637.7,432 637.6,429 637.5,426 637.3,423 637.2,420 637.1,417 637,416.9ZM716.5,350.8 716.4,351 716,354 715.7,357 715.3,360 715,363 714.6,366 714.3,369 714,372 713.7,375 713.4,378 713.1,381 712.8,384 712.6,387 711.9,390 711.7,393 711.5,396 711.4,399 711.2,402 711,405 710.9,408 710.7,411 710.5,414 710.2,417 710,420 709.7,423 709.3,426 709,429 708.7,432 708.4,435 708.1,438 707.8,441 707.5,444 707.3,447 707,450 706.8,453 706.5,456 706.3,459 706.1,462 705.9,465 705.7,468 705.5,471 705.3,474 705.2,475.6 704.9,477 704.4,480 703.9,483 701.3,486 693.8,486.9 682.8,489 682.5,489.1 681.5,492 681.5,495 681.5,498 681.5,501 681.5,504 681.5,507 681.6,510 681.6,513 681.6,516 681.6,519 681.6,522 681.6,525 681.6,528 681.6,531 681.6,534 681.6,537 682.5,537.6 691.4,540 691.5,543 691.6,546 691.6,549 691.7,552 691.8,555 691.8,558 691.9,561 691.9,564 692,567 692,570 692,573 692,576 692.1,579 692.1,582 692.1,585 692.1,588 692.1,591 692.2,594 692.2,597 692.2,600 692.2,603 692.2,606 692.2,609 692.3,612 692.3,615 692.3,618 692.3,621 692.3,624 692.3,627 692.4,630 692.4,633 692.4,636 692.4,639 692.4,642 692.4,645 692.4,648 692.4,651 692.4,654 692.4,657 692.4,660 692.3,663 692.3,666 692.3,669 692.3,672 692.3,675 692.3,678 692.3,681 692.3,684 692.3,687 692.3,690 692.3,693 692.3,696 692.3,699 692.2,702 692.2,705 692.2,708 692.1,711 692.1,714 692.1,717 692.1,720 692,723 692,726 691.9,729 691.9,732 691.9,735 691.8,738 692.5,741 693.1,744 693.8,746.1 695.1,747 696.2,750 698.4,753 699.4,756 700.1,759 705.2,761.2 706.3,762 706.7,765 707.1,768 707.4,771 707.6,774 707.8,777 707.9,780 708.1,783 708.3,786 708.4,789 708.6,792 708.8,795 709,798 709.2,801 709.4,804 709.6,807 709.8,810 710,813 710.2,816 710.5,819 710.7,822 710.9,825 711.1,828 711.3,831 711.4,834 711.7,837 711.9,840 712.1,843 712.3,846 712.6,849 712.9,852 713.2,855 713.5,858 713.9,861 714.3,864 714.7,867 715.2,870 715.7,873 716.3,876 716.5,876.2 716.7,876 717.3,873 717.9,870 718.3,867 718.8,864 719.2,861 719.5,858 719.9,855 720.2,852 720.5,849 720.7,846 721,843 721.2,840 721.4,837 721.6,834 721.8,831 722,828 722.2,825 722.4,822 722.6,819 722.8,816 723.1,813 723.3,810 723.5,807 723.7,804 723.9,801 724.1,798 724.3,795 724.4,792 724.6,789 724.8,786 725,783 725.1,780 725.3,777 725.5,774 725.6,771 726,768 727.9,767 734.6,765 734.6,762 734.6,759 734.6,756 734.6,753 734.6,750 734.6,747 734.6,744 734.6,741 734.6,738 734.6,735 734.6,732 738,729 738,726 738,723 738,720 738,717 738,714 738,711 738,708 738,705 738,702 738,699 738,696 738,693 739.2,690.3 739.3,690 740.6,687 740.6,684 740.6,681 740.6,678 740.6,675 740.6,672 740.6,669 740.6,666 740.6,663 740.6,660 740.6,657 740.6,654 740.6,651 740.6,648 740.6,645 741,642 742,639 742,636 742,633 742,630 742,627 742,624 742,621 742,618 742,615 742,612 742,609 742,606 742,603 742,600 742,597 742,594 742,591 742,588 742,585 742,582 742,579 742,576 742,573 742,570 742,567 742,564 742,561 742,558 742,555 742,552 742,549 742,546 742,543 742,540 742,537 742,534 742,531 742,528 742,525 742,522 742,519 742,516 742,513 742,510 742,507 742,504 742,501 740.4,498 740.4,495 740.4,492 740.4,489 740.4,486 740.3,483 740.3,480 740.3,477 740.3,474 740.3,471 740.2,468 740.1,465 740,462 740,459 740,456 740,453 740,450 740,447 739.2,446.4 735.8,447 735.5,450 735.1,453 734.7,456 734.1,459 733.5,462 732.7,465 731.8,468 730.5,471 728.9,474 727.9,475.6 727.8,474 727.6,471 727.4,468 727.2,465 727,462 726.8,459 726.5,456 726.3,453 726.1,450 725.8,447 725.5,444 725.3,441 725,438 724.7,435 724.4,432 724.1,429 723.7,426 723.4,423 723,420 722.8,417 722.6,414 722.4,411 722.2,408 722,405 721.7,402 721.5,399 721.3,396 721,393 720.8,390 720.5,387 720.2,384 720,381 719.7,378 719.4,375 719.1,372 718.8,369 718.4,366 718.1,363 717.8,360 717.4,357 717,354 716.7,351 716.5,350.8ZM557.5,423.4 556.2,426 556.2,429 556.2,432 556.2,435 556.2,438 556.2,441 556.2,444 556.2,447 556.2,450 556.2,453 556,456 556,459 556,462 556,465 556,468 556.8,471 557.5,471.9 559.3,471 560.8,468 560.8,465 560.8,462 560.8,459 560.8,456 560.8,453 560.8,450 560.8,447 560.8,444 560.8,441 560.8,438 560.8,435 560.8,432 560.8,429 560.8,426 557.5,423.4ZM821.2,150 826.1,150 826.2,153 826.2,156 826.3,159 826.3,162 826.3,165 826.4,168 826.4,171 826.5,174 826.5,177 826.6,180 826.6,183 826.6,186 826.7,189 826.7,192 826.8,195 826.8,198 826.9,201 826.9,204 827,207 827,210 827.1,213 827.1,216 827.2,219 827.2,222 827.3,225 827.3,228 827.4,231 827.4,234 827.5,237 827.5,240 827.6,243 827.6,246 827.7,249 827.8,252 828,255 828.2,258 828.4,261 828.6,264 828.8,267 829.1,270 829.3,273 829.6,276 829.8,279 830.1,282 830.1,282 830.1,282 830.9,279 831.6,276 833.1,273 836.9,270 837.6,267 838.1,264 838.5,261 838.8,258 839.1,255 839.4,252 839.5,249 839.6,246 839.7,243 839.8,240 839.9,237 840,234 840,231 840.1,228 840.2,225 840.3,222 840.3,219 840.4,216 840.5,213 840.5,210 840.6,207 840.6,204 840.7,201 840.8,198 840.8,195 840.9,192 840.9,189 841,186 841,183 841.1,180 841.1,177 841.1,174 841.2,171 841.2,168 841.3,165 841.3,162 841.3,159 841.4,156 841.4,153 841.5,150 841.5,150 850.5,150 849,153 849,156 849,159 849,162 849,165 849,168 849,171 849,174 849,177 849,180 849,183 848.9,186 848.9,189 850,192 850.5,195 850.5,198 850.5,201 850.5,204 850.5,207 850.4,210 850.4,213 850.4,216 850.4,219 850.4,222 850.4,225 850.4,228 850.4,231 850.4,234 850.4,237 850.4,240 850.4,243 850.4,246 850.4,249 850.4,252 850.4,255 850.4,258 850.4,261 850.4,264 850.3,267 850.3,270 849.8,273 849,276 849,279 849,282 849,285 849,288 849,291 849,294 849,297 849,300 852.8,303 852.8,303 855.5,306 858,309 859.3,312 861.9,315 864.2,317 866.4,318 871.3,321 875.5,324 878.6,321 879.3,318 879.3,315 879.3,312 880.8,309 881.2,306 881.2,303 881.2,300 881.2,297 881.2,294 881.2,291 881.2,288 881.2,285 881.2,282 881.2,279 881.2,276 881.2,273 881.2,270 881.2,267 881.2,264 881.2,261 881.2,258 881.2,255 881.2,252 881.2,249 881.2,246 881.2,243 881.2,240 881.2,237 881.2,234 881.2,231 881.2,228 881.2,225 881.2,222 881.2,219 881.2,216 881.2,213 881.2,210 881.2,207 881.2,204 881.2,201 881.2,198 881.2,195 881.2,192 881.2,189 881.2,186 881.2,183 881.2,180 881.2,177 881.2,174 881.2,171 881.2,168 881.2,165 881.2,162 881.2,159 881.2,156 881.2,153 886.9,150 886.9,150 898.2,150 909.6,150 921,150 921,150 926.6,153 926.6,156 926.6,159 926.6,162 926.6,165 926.6,168 926.6,171 926.6,174 926.6,177 926.6,180 926.6,183 926.6,186 926.6,189 926.6,192 926.6,195 926.6,198 926.6,201 926.6,204 926.6,207 926.6,210 926.6,213 926.6,216 926.6,219 926.6,222 926.6,225 926.6,228 926.6,231 926.6,234 926.6,237 926.6,240 926.6,243 926.6,246 926.6,249 926.6,252 926.6,255 926.6,258 926.6,261 926.6,264 926.6,267 926.6,270 926.6,273 926.6,276 926.6,279 926.6,282 926.6,285 926.6,288 926.6,291 926.6,294 926.6,297 926.6,300 926.6,303 926.6,306 926.6,309 926.6,312 926.6,315 926.6,318 926.6,321 926.6,324 926.6,327 926.6,330 926.6,333 926.6,336 926.6,339 926.6,342 926.6,345 926.6,348 926.6,351 926.6,354 926.6,357 926.6,360 926.6,363 926.6,366 926.6,369 926.6,372 926.6,375 926.6,378 926.6,381 926.6,384 928.5,387 930,390 932.3,392 934.6,390 936.1,387 940.6,384 943.7,382.9 946.8,384 950.2,387 955,390 955,390 959.9,393 963.3,396 966.4,397.5 969.5,399 972.9,402 977.7,405 977.7,405 982.6,408 985.3,411 989.1,413 989.7,414 991.1,417 991.1,420 991.1,423 991.1,426 991.1,429 991.1,432 991.1,435 991.1,438 991.1,441 991.1,444 991.1,447 991.2,450 991.2,453 991.2,456 991.3,459 991.3,462 991.3,465 991.4,468 991.4,471 991.5,474 991.5,477 991.6,480 991.6,483 991.7,486 991.7,489 991.8,492 991.8,495 991.9,498 992,501 992.1,504 992.2,507 992.3,510 992.5,513 992.6,516 992.8,519 993,522 993.2,525 993.5,528 993.7,531 994,534 994.4,537 994.8,540 1000.4,543 1000.4,543 1000.4,546 1000.4,549 1000.4,552 1000.4,555 1000.4,558 1000.4,561 1000.4,564 1000.4,567 1000.4,570 1000.4,573 1000.4,576 1000.4,579 1000.4,582 1000.4,585 1000.4,588 1000.4,591 1000.4,594 1000.4,597 1000.4,600 1000.4,603 1000.4,606 1000.4,609 1000.4,612 1000.4,615 1000.4,618 1000.4,621 1000.4,624 1000.4,627 1000.4,630 1000.4,633 1000.4,636 1000.4,639 1000.4,642 1000.4,645 1000.4,648 1000.4,651 1000.4,651 1000.4,651 1000.4,648 1000.4,645 1000.4,642 1000.4,639 1000.4,636 1000.4,633 1000.4,630 989.1,628.5 983.4,630 983,633 982.7,636 982.4,639 982.2,642 981.9,645 981.7,648 981.5,651 981.4,654 981.2,657 981.1,660 981.1,663 981,666 981,669 981,672 981,675 981,678 981,681 981,684 981,687 981,690 980.9,693 980.9,696 980.9,699 980.9,702 980.9,705 980.9,708 980.9,711 980.9,714 980.9,717 980.9,720 980.8,723 980.8,726 980.8,729 980.8,732 980.8,735 980.8,738 980.8,741 980.8,744 980.8,747 980.8,750 980.7,753 980.7,756 980.7,759 980.7,762 980.7,765 980.7,768 980.7,771 980.8,774 980.8,777 980.8,780 980.8,783 980.8,786 980.8,789 980.8,792 980.8,795 980.8,798 980.8,801 980.8,804 980.8,807 980.8,810 980.8,813 980.9,816 980.9,819 980.9,822 980.9,825 980.9,828 977.7,829.4 966.4,830 955,830.6 943.7,830.8 932.3,830.8 921,830.7 909.6,830.7 900.4,828 900.4,825 900.4,822 900.4,819 900.4,816 900.4,813 900.4,810 900.4,807 900.5,804 900.5,801 900.5,798 900.5,795 900.5,792 900.5,789 900.5,786 900.5,783 900.5,780 900.5,777 900.5,774 900.5,771 900.5,768 900.5,765 900.5,762 900.5,759 900.5,756 900.6,753 900.6,750 900.6,747 900.6,744 900.7,741 900.7,738 900.2,735 899.6,732 899.7,729 899.7,726 899.7,723 899.7,720 899.7,717 899.8,714 899.8,711 899.8,708 899.8,705 899.8,702 899.9,699 899.9,696 899.9,693 899.9,690 899.9,687 899.9,684 900,681 900,678 900,675 900,672 900,669 900,666 900.1,663 900.1,660 900.1,657 900.1,654 900.1,651 900.1,648 900.1,645 900.1,642 900.1,639 900.1,636 900.1,633 900.1,630 900.1,627 900.1,624 900,621 900,618 900,615 900,612 900,609 900,606 900,603 900,600 900,597 900,594 900,591 900,588 900,585 900,582 900,579 900,576 900.1,573 900.1,570 900.1,567 900.1,564 900.1,561 900.2,558 900.2,555 900.2,552 900.2,549 900.3,546 900.3,543 900.3,540 900.3,537 900.5,534 901.3,531 902,528 902,525 902,522 902,519 902,516 902,513 902,510 902,507 902,504 902,501 902,498 902,495 902,492 902,489 902,486 902,483 902,480 902,477 902,474 902,471 902,468 902,465 902,462 902,459 902,456 902,453 901.9,450 898.2,448.2 895.4,447 892.2,444 890.8,441 890.4,438 890.4,435 890.4,432 890.4,429 890.4,426 890.4,423 890.4,420 890.4,417 890.8,414 892.8,411 898.2,408.1 898.7,408 902,405 902,402 898.2,400.7 886.9,400 875.5,400 864.2,400 856.6,402 856.6,405 856.6,408 856.6,411 856.6,414 856.6,417 856.6,420 856.6,423 856.6,426 856.6,429 856.6,432 856.6,435 856.6,438 856.6,441 856.6,444 856.6,447 856.6,450 856.6,453 856.6,456 856.6,459 856.6,462 856.6,465 856.6,468 856.6,471 856.6,474 856.6,477 856.6,480 856.6,483 856.6,486 856.6,489 856.6,492 856.6,495 856.6,498 856.6,501 856.6,504 856.6,507 856.6,510 856.6,513 856.6,516 856.6,519 856.6,522 856.6,525 856.6,528 856.6,531 856.6,534 856.6,537 856.6,540 856.6,543 856.6,546 856.6,549 856.6,552 856.6,555 856.6,558 852.8,559.3 841.5,560 832.4,561 830.1,564 830.1,567 830.1,570 830.1,573 830.1,576 830.1,579 830.1,582 830.1,585 830.1,588 830.1,591 830.1,594 830.1,597 830.1,600 830.1,603 830.1,606 830.1,609 830.1,612 830.1,615 830.1,618 830.1,621 830.1,624 830.1,627 830.1,630 830.1,633 830.1,636 830.1,639 830.1,642 830.1,645 830.1,648 830.1,651 830.1,654 830.1,657 830.1,660 830.1,663 830.1,666 830.1,669 830.1,672 831.4,675 833.9,678 833.9,681 833.9,684 833.9,687 833.9,690 833.9,693 833.9,696 833.9,699 833.9,702 833.9,705 833.9,708 833.9,711 833.9,714 833.9,717 833.9,720 833.2,723 830.1,726 830.1,729 830.1,732 830.1,735 830.1,738 830.1,741 830.1,744 830.1,747 830.1,750 830.1,753 830.1,756 830.1,759 830.1,762 830.1,765 830.1,768 830.1,771 830.1,774 830.1,777 830.1,780 830.1,783 830.1,786 830.1,789 830.1,792 830.1,795 830.1,798 830.1,801 830.1,804 830.1,807 830.1,810 830.1,813 830.1,816 830.1,819 830.1,822 830.1,825 830.1,828 830.1,831 830.1,834 830.1,837 830.1,840 830.1,843 830.1,846 830.1,849 830.1,852 830.1,855 830.1,858 830.1,861 830.1,864 830.1,864 827,867 826.3,870 826.3,873 826.3,876 826.3,879 826.3,882 826.3,885 826.3,888 826.3,891 826.3,894 826.3,897 825.7,900 820,903 818.7,903.3 811.8,906 807.4,907.4 796,908 791.2,906 786.9,903 784.7,902.2 779.8,900 779,897 779,894 779,891 779,888 779,885 779,882 779,879 779,876 779,873 779,870 779,867 779,864 779,861 779,858 779,855 779,852 779,849 779,846 779,843 779,840 779,837 779,834 779,831 779,828 779,825 779,822 779,819 780.3,816 780.9,813 780.9,810 780.9,807 780.9,804 780.9,801 780.9,798 780.9,795 780.9,792 780.9,789 780.9,786 780.9,783 780.9,780 780.9,777 780.9,774 780.9,771 780.9,768 780.9,765 780.9,762 780.9,759 780.9,756 780.9,753 780.9,750 780.9,747 780.9,744 780.9,741 780.9,738 780.9,735 780.9,732 780.9,729 780.9,726 780.9,723 780.9,720 780.9,717 780.9,714 780.9,711 780.9,708 780.9,705 780.9,702 780.9,699 780.9,696 780.9,693 780,690 778.5,687 777.5,684 776.8,681 776.6,678 776.6,675 776.6,672 776.6,669 776.5,666 776.5,663 776.5,660 776.5,657 776.5,654 776.4,651 776.4,648 776.4,645 776.4,642 776.3,639 776.3,636 776.3,633 776.3,630 776.3,627 776.2,624 776.2,621 776.2,618 776.2,615 776.2,612 776.2,609 776.2,606 776.2,603 776.2,600 776.2,597 776.3,594 776.3,591 776.3,588 776.3,585 776.3,582 776.4,579 776.4,576 776.4,573 776.4,570 776.4,567 776.5,564 776.5,561 776.5,558 776.5,555 776.6,552 776.6,549 776.6,546 776.6,543 776.7,540 777.5,537 778.9,534 780.9,531 780.9,528 780.9,525 780.9,522 780.9,519 780.9,516 780.9,513 780.9,510 780.9,507 780.9,504 780.9,501 782.4,498 784.7,495 784.7,495 788.5,492 789,489 790.4,486 791.7,483 792.9,480 796,477 796,477 796,477 807.4,477.8 810.5,480 812.7,483 814.4,486 817.5,489 818.7,489.8 821,489 825.1,486 826.3,483 826.3,480 826.3,477 826.3,474 826.3,471 826.3,468 826.3,465 826.3,462 826.3,459 826.3,456 826.3,453 825.7,450 824.4,447 824.4,444 824.4,441 824.4,438 824.4,435 824.4,432 824.4,429 824.4,426 824.4,423 824.4,420 824.4,417 824.4,414 824.4,411 824.4,408 824.4,405 824.4,402 824.4,399 824.4,396 824.4,393 824.4,390 824.4,387 824.4,384 824.4,381 824.4,378 824.4,375 824.4,372 824.4,369 824.4,366 824.4,363 824.4,360 824.4,357 824.4,354 824.4,351 824.4,348 824.4,345 824.4,342 824.4,339 824.4,336 824.4,333 824.4,330 824.4,327 824.4,324 824.4,321 824.4,318 824.4,315 824.4,312 824.4,309 824.4,306 824.4,303 824.4,300 824.4,297 824.4,294 824.4,291 824.4,288 823.3,285 822.5,282 822.4,279 822.3,276 822.3,273 822.2,270 822.1,267 822,264 822,261 821.9,258 821.8,255 821.8,252 821.7,249 821.7,246 821.7,243 821.7,240 821.7,237 821.6,234 821.6,231 821.6,228 821.6,225 821.6,222 821.5,219 821.5,216 821.5,213 821.5,210 821.5,207 821.5,204 821.5,201 821.4,198 821.4,195 821.4,192 821.4,189 821.4,186 821.4,183 821.3,180 821.3,177 821.3,174 821.3,171 821.3,168 821.3,165 821.3,162 821.3,159 821.2,156 821.2,153 821.2,150ZM943.7,411 943.7,411 939.9,414 939.8,417 939.8,420 939.7,423 939.7,426 939.7,429 939.6,432 939.6,435 939.5,438 939.5,441 939.5,444 939.4,447 939.4,450 939.4,453 939.3,456 939.3,459 939.3,462 939.2,465 939.2,468 939.2,471 939.1,474 939.1,477 939.1,480 939,483 939,486 939,489 938.9,492 938.9,495 938.9,498 938.8,501 938.8,504 938.8,507 938.8,510 938.7,513 938.7,516 938.7,519 938.6,522 938.6,525 938.6,528 938.6,531 938.5,534 938.5,537 938.5,540 938.5,543 938.4,546 938.4,549 938.4,552 938.3,555 938.3,558 938.3,561 938.3,564 938.2,567 938.2,570 938.2,573 938.2,576 938.1,579 938.1,582 938.1,585 938.1,588 938.1,591 938,594 938,597 938,600 937.9,603 937.8,606 937.7,609 937.6,612 937.5,615 937.5,618 937.4,621 937.3,624 937.2,627 937.2,630 937.1,633 937,636 937,639 936.9,642 936.8,645 936.8,648 936.7,651 936.7,654 936.6,657 936.6,660 936.5,663 936.5,666 936.4,669 936.4,672 936.3,675 936.3,678 936.2,681 934.8,684 932.4,687 932.3,687.1 931.7,687 926.1,684 924.4,681 924.3,678 924.1,675 924,672 923.8,669 923.7,666 923.6,663 923.4,660 923.2,657 923.1,654 922.9,651 923,648 923.1,645 923.3,642 923.5,639 923.7,636 923.8,633 924,630 924.1,627 924.2,624 924.4,621 924.5,618 924.6,615 924.8,612 924.9,609 925,606 925.1,603 925.2,600 925.1,597 925,594 924.9,591 924.8,588 924.7,585 924.6,582 924.5,579 924.3,576 924.2,573 924.1,570 924,567 923.8,564 923.7,561 923.5,558 923.4,555 923.2,552 923.1,549 922.9,546 921,544.1 917.6,543 913,540 911.7,537 909.6,534.2 908.7,537 908.5,540 908.4,543 908.3,546 908.2,549 908.1,552 908,555 907.9,558 907.8,561 907.6,564 907.5,567 907.5,570 907.4,573 907.3,576 907.2,579 907.1,582 907,585 906.9,588 906.9,591 906.9,594 906.9,597 907,600 907,603 907.1,606 907.1,609 907.1,612 907.2,615 907.2,618 907.3,621 907.3,624 907.4,627 907.4,630 907.4,633 907.5,636 907.5,639 907.6,642 907.6,645 907.7,648 907.7,651 907.6,654 907.5,657 907.4,660 907.3,663 907.2,666 907.1,669 907.1,672 907,675 906.9,678 906.8,681 906.7,684 906.7,687 906.6,690 906.5,693 906.4,696 906.4,699 906.3,702 906.2,705 906.1,708 905.9,711 905.8,714 905.7,717 905.6,720 905.5,723 905.5,726 905.4,729 905.3,732 905.4,735 905.6,738 905.5,741 905.4,744 905.4,747 905.3,750 905.2,753 905.1,756 905.1,759 905,762 905,765 905,768 905,771 905,774 905,777 905,780 905,783 905,786 904.9,789 904.9,792 904.9,795 904.9,798 904.9,801 904.9,804 904.9,807 904.9,810 904.9,813 904.8,816 904.8,819 904.8,822 904.8,825 904.8,828 909.6,829.4 921,829.7 932.3,829.8 943.7,830 955,829.1 961.8,828 961.8,825 961.8,822 961.7,819 961.7,816 961.7,813 961.6,810 961.6,807 961.6,804 961.5,801 961.5,798 961.5,795 961.4,792 961.4,789 961.3,786 961.3,783 961.3,780 961.2,777 961.2,774 961.1,771 961.1,768 961.1,765 961,762 961,759 960.9,756 960.9,753 960.9,750 960.8,747 960.8,744 960.7,741 960.6,738 960.4,735 960.2,732 960,729 959.8,726 959.5,723 959.3,720 959,717 958.7,714 958.4,711 958,708 957.6,705 957.2,702 956.8,699 956.2,696 955.7,693 955,690 955,690 952.9,687 951.4,684 951.1,681 951.1,678 951,675 951,672 950.9,669 950.9,666 950.8,663 950.8,660 950.7,657 950.7,654 950.6,651 950.5,648 950.5,645 950.4,642 950.4,639 950.3,636 950.2,633 950.2,630 950.1,627 950,624 949.9,621 949.9,618 949.8,615 949.7,612 949.6,609 949.5,606 949.4,603 949.3,600 949.3,597 949.3,594 949.3,591 949.2,588 949.2,585 949.2,582 949.2,579 949.2,576 949.1,573 949.1,570 949.1,567 949.1,564 949,561 949,558 949,555 949,552 948.9,549 948.9,546 948.9,543 948.8,540 948.8,537 948.8,534 948.8,531 948.7,528 948.7,525 948.7,522 948.7,519 948.6,516 948.6,513 948.6,510 948.5,507 948.5,504 948.5,501 948.5,498 948.4,495 948.4,492 948.4,489 948.3,486 948.3,483 948.3,480 948.2,477 948.2,474 948.2,471 948.1,468 948.1,465 948.1,462 948,459 948,456 948,453 947.9,450 947.9,447 947.9,444 947.8,441 947.8,438 947.7,435 947.7,432 947.7,429 947.6,426 947.6,423 947.6,420 947.5,417 947.5,414 943.7,411 943.7,411ZM898.2,415.1 897.5,417 897.5,420 897.5,423 897.5,426 897.5,429 897.5,432 897.5,435 897.5,438 898.2,440.2 900.1,438 900.1,435 900.1,432 900.1,429 900.1,426 900.1,423 900.1,420 900.1,417 898.2,415.1ZM784.7,538.2 783.3,540 783.3,543 783.2,546 783.1,549 783,552 783,555 782.9,558 782.8,561 782.8,564 782.7,567 782.6,570 782.6,573 782.5,576 782.4,579 782.4,582 782.3,585 782.3,588 782.2,591 782.1,594 782.1,597 782,600 782,603 781.9,606 781.9,609 781.9,612 781.9,615 782,618 782,621 782.1,624 782.2,627 782.2,630 782.3,633 782.3,636 782.4,639 782.5,642 782.5,645 782.6,648 782.7,651 782.7,654 782.8,657 782.9,660 782.9,663 783,666 783.1,669 783.1,672 783.2,675 783.3,678 783.9,681 784.7,682.4 786.8,681 788,678 788.2,675 788.3,672 788.4,669 789.3,666 792.2,663 796,661.2 797.9,660 798.1,657 798.3,654 798.5,651 798.6,648 798.8,645 798.9,642 799.1,639 799.2,636 799.4,633 799.5,630 799.6,627 799.8,624 799.9,621 800,618 800.1,615 800.2,612 800.2,609 800.1,606 800,603 799.8,600 799.7,597 799.5,594 799.3,591 799.2,588 799,585 798.8,582 798.6,579 798.4,576 798.2,573 797.9,570 796,568.1 794.2,567 791.3,564 789.6,561 788.7,558 788.6,555 788.5,552 788.3,549 788.2,546 788.1,543 787.9,540 784.7,538.2ZM1023.2,150 1023.2,150 1034.5,150 1045.9,150 1057.2,150 1068.6,150 1076.2,150 1079.9,153 1079.9,153 1079.9,156 1079.9,159 1079.9,162 1079.9,165 1079.9,168 1079.9,171 1079.9,174 1079.9,177 1079.9,180 1079.9,183 1079.9,186 1079.9,189 1079.9,192 1079.9,195 1079.9,198 1079.9,201 1079.9,204 1079.9,207 1079.9,210 1081.5,213 1082.7,216 1082.7,219 1082.7,222 1082.8,225 1082.8,228 1082.8,231 1082.9,234 1082.9,237 1082.9,240 1083,243 1083,246 1083,249 1083.1,252 1083.1,255 1083.2,258 1083.2,261 1083.3,264 1083.4,267 1083.6,270 1083.7,273 1083.9,276 1084,279 1084.2,282 1085.9,285 1086.5,288 1086.7,291 1087,294 1087.2,297 1087.5,300 1087.5,303 1087.5,306 1087.5,309 1087.5,312 1087.5,315 1087.5,318 1087.5,321 1087.5,324 1087.5,327 1087.5,330 1087.5,333 1087.8,336 1088.5,339 1088.5,342 1088.5,345 1088.5,348 1088.5,351 1088.5,354 1088.5,357 1088.5,360 1088.5,363 1088.5,366 1088.5,369 1088.5,372 1088.5,375 1088.5,378 1088.5,381 1089.7,384 1091.3,387 1091.3,387 1091.3,390 1091.3,393 1091.3,396 1091.3,399 1091.3,402 1091.3,405 1091.3,408 1091.3,411 1091.3,414 1091.3,417 1091.3,420 1091.3,423 1091.3,426 1091.3,429 1091.3,432 1091.3,435 1091.3,435 1090.4,438 1088.5,441 1088.5,444 1088.5,447 1088.5,450 1088.5,453 1088.5,456 1088.5,459 1088.5,462 1088.5,465 1088.5,468 1088.5,471 1088.5,474 1088.5,477 1088.5,480 1088.5,483 1088.5,486 1088.5,489 1088.5,492 1088.5,495 1088.5,498 1088.5,501 1088.1,504 1087.5,507 1087.5,510 1087.5,513 1087.5,516 1087.5,519 1087.5,522 1087.5,525 1087.5,528 1087.5,531 1087.5,534 1087.5,537 1087.5,540 1085.6,543 1085.6,546 1085.6,549 1085.6,552 1085.6,555 1085.6,558 1085.6,561 1085.6,564 1085.6,567 1079.9,570 1079.9,573 1079.9,576 1079.9,579 1079.9,582 1079.9,582 1077.7,585 1077.1,588 1077.1,591 1077.1,594 1077.1,597 1076.7,600 1076.2,603 1076.2,606 1076.2,609 1076.2,612 1075.8,615 1074.3,618 1074.6,621 1074.6,624 1074.6,627 1074.5,630 1074.5,633 1074.4,636 1074.3,639 1074.2,642 1074,645 1073.9,648 1073.7,651 1073.4,654 1073.2,657 1072.8,660 1072.2,663 1071.6,666 1070.7,669 1069.7,672 1068.6,674.7 1068.5,675 1067.9,678 1067.3,681 1066.9,684 1066.6,687 1066.3,690 1066,693 1065.8,696 1065.6,699 1065.5,702 1065.4,705 1064.9,708 1064.3,711 1063.8,714 1063.3,717 1062.8,720 1062.4,723 1062.2,726 1061.9,729 1061.6,732 1061.3,735 1061,738 1060.7,741 1060.4,744 1060.1,747 1059.7,750 1059.3,753 1059,756 1058.6,759 1058.2,762 1057.7,765 1057.3,768 1057.2,768.5 1056.7,771 1056.1,774 1055.7,777 1055.3,780 1055,783 1054.8,786 1054.6,789 1054.4,792 1054.3,795 1054.2,798 1054.1,801 1054,804 1053.8,807 1053.7,810 1053.5,813 1053.3,816 1053.1,819 1052.9,822 1052.7,825 1052.4,828 1052.2,831 1051.8,834 1051.5,837 1051.1,840 1050.6,843 1050.1,846 1045.9,847.1 1034.5,847.6 1029,846 1029.8,843 1030.4,840 1031.1,837 1031.6,834 1032.2,831 1032.7,828 1033.2,825 1033.7,822 1034.5,821.4 1038.7,819 1038.8,816 1039,813 1039,810 1039.1,807 1039.2,804 1039.2,801 1039.3,798 1039.4,795 1039.4,792 1039.7,789 1040,786 1040.3,783 1040.6,780 1040.7,777 1040.9,774 1041.1,771 1041.3,768 1041.5,765 1041.8,762 1042,759 1042.2,756 1042.5,753 1042.8,750 1043,747 1043.3,744 1043.6,741 1044,738 1044.3,735 1044.7,732 1045,729 1045.4,726 1045.9,723 1045.9,722.9 1046.5,720 1047.1,717 1047.5,714 1047.9,711 1048.2,708 1048.4,705 1048.6,702 1048.8,699 1048.9,696 1049,693 1049.1,690 1049.3,687 1049.4,684 1049.6,681 1049.7,678 1049.9,675 1050.1,672 1050.3,669 1050.5,666 1050.7,663 1051,660 1051.5,657 1052,654 1052.6,651 1053.3,648 1054.1,645 1051.5,642 1051.5,639 1051.5,636 1051.5,633 1050.9,630 1049.7,627 1049.7,624 1049.7,621 1049.7,618 1049.1,615 1048.7,612 1048.7,609 1048.7,606 1048.7,603 1046.7,600 1045.9,597 1045.9,597 1045.9,594 1045.9,591 1045.9,588 1045.9,585 1045.9,582 1045.9,579 1045.9,576 1045.9,573 1045.9,570 1045.9,567 1045.9,564 1045.9,561 1045.9,558 1045.9,555 1045.9,552 1045.9,549 1045.9,546 1045.9,543 1045.9,540 1045.9,537 1045.9,534 1045.9,531 1045.9,528 1045.9,525 1045.9,522 1042.1,519 1040.2,516 1040.2,513 1040.2,510 1040.2,507 1040.2,504 1040.2,501 1040.2,498 1040.2,495 1040.2,492 1040.2,489 1040.2,486 1040.2,483 1040.2,480 1040.2,477 1040.2,474 1040.2,471 1040.2,468 1040.2,465 1040.2,462 1038.6,459 1038.3,456 1038.3,453 1038.3,450 1038.3,447 1038.3,444 1038.3,441 1038.3,438 1038.3,435 1038.3,432 1038.3,429 1038.3,426 1037.8,423 1037.4,420 1037.4,417 1037.4,414 1037.4,411 1037.4,408 1037.4,405 1037.4,402 1037.4,399 1037.4,396 1037.4,393 1037.4,390 1036.8,387 1034.5,384 1034.5,384 1034.5,381 1034.5,378 1034.5,375 1034.5,372 1034.5,369 1034.5,366 1034.5,363 1034.5,360 1034.5,357 1034.5,354 1034.5,351 1030.2,348 1030.1,345 1030.1,342 1030,339 1029.9,336 1029.9,333 1029.8,330 1029.7,327 1029.6,324 1028.4,321 1027.5,318 1027.4,315 1027.3,312 1027.2,309 1027.1,306 1027,303 1026.9,300 1026.9,297 1026.9,294 1026,291 1026,288 1026,285 1026,282 1026,279 1026,276 1026,273 1026,270 1026,267 1024.8,264 1023.2,261 1023.2,261 1023.2,258 1023.2,255 1023.2,252 1023.2,249 1023.2,246 1023.2,243 1023.2,240 1023.2,237 1023.2,234 1023.2,231 1023.2,228 1023.2,225 1023.2,222 1023.2,219 1023.2,216 1021.2,213 1021.2,210 1021.1,207 1021.1,204 1021,201 1020.9,198 1020.9,195 1020.8,192 1020.7,189 1020.6,186 1020.5,183 1020.4,180 1020.2,177 1020.1,174 1019.9,171 1019.8,168 1019.6,165 1019.4,162 1018.7,159 1017.9,156 1017.5,153 1023.2,150ZM1034.5,151.5 1028.8,153 1028.8,156 1028.8,159 1028.8,162 1028.8,165 1028.8,168 1028.8,171 1028.8,174 1028.8,177 1028.8,180 1028.8,183 1028.8,186 1028.8,189 1028.8,192 1028.8,195 1028.8,198 1028.8,201 1028.8,204 1028.8,207 1028.8,210 1028.8,213 1030.7,216 1030.7,219 1030.7,222 1030.7,225 1030.7,228 1030.7,231 1030.7,234 1030.7,237 1030.7,240 1030.7,243 1030.7,246 1030.7,249 1030.7,252 1030.7,255 1030.7,258 1030.7,261 1031.3,264 1031.7,267 1031.7,270 1031.7,273 1031.7,276 1031.7,279 1031.7,282 1031.7,285 1031.7,288 1031.7,291 1034.5,294 1034.5,297 1034.5,300 1034.5,303 1034.5,306 1034.5,309 1034.5,312 1034.5,315 1034.5,318 1034.5,318 1038.3,321 1040.2,324 1040.2,327 1040.2,330 1040.2,333 1040.2,336 1040.2,339 1040.2,342 1040.2,345 1040.2,348 1042.1,351 1042.1,354 1042.1,357 1042.1,360 1042.1,363 1042.1,366 1042.1,369 1042.1,372 1042.1,375 1042.1,378 1042.1,381 1042.1,384 1042.8,387 1043,390 1043,393 1043,396 1043,399 1043,402 1043,405 1043,408 1043,411 1043,414 1043,417 1043,420 1044.2,423 1045.9,426 1045.9,429 1045.9,432 1045.9,435 1045.9,438 1045.9,441 1045.9,444 1045.9,447 1045.9,450 1045.9,453 1045.9,456 1045.9,456 1048.1,459 1051.5,462 1051.5,465 1051.5,468 1051.5,471 1051.5,474 1051.5,477 1051.5,480 1051.5,483 1051.5,486 1051.5,489 1051.5,492 1051.5,495 1051.5,498 1051.5,501 1051.5,504 1051.5,507 1051.5,510 1051.5,513 1051.5,516 1052.7,519 1053.4,522 1053.4,525 1053.4,528 1053.4,531 1053.4,534 1053.4,537 1053.4,540 1053.4,543 1053.4,546 1053.4,549 1053.4,552 1053.4,555 1053.4,558 1053.4,561 1053.4,564 1053.4,567 1053.4,570 1053.4,573 1053.4,576 1053.4,579 1053.4,582 1053.4,585 1053.4,588 1053.4,591 1053.4,594 1053.4,597 1053.7,600 1054.4,603 1054.4,606 1054.4,609 1054.4,612 1055.6,615 1057.2,618 1057.2,621 1057.2,624 1057.2,627 1057.2,627 1057.2,627 1057.2,624 1057.2,621 1057.2,618 1064.8,615 1068.6,612 1068.6,612 1068.6,609 1068.6,606 1068.6,603 1070.2,600 1071.4,597 1071.4,594 1071.4,591 1071.4,588 1071.6,585 1072.4,582 1072.4,579 1072.4,576 1072.4,573 1072.4,570 1074.3,567 1074.3,564 1074.3,561 1074.3,558 1074.3,555 1074.3,552 1074.3,549 1074.3,546 1074.3,543 1079.9,540 1079.9,540 1079.9,537 1079.9,534 1079.9,531 1079.9,528 1079.9,525 1079.9,522 1079.9,519 1079.9,516 1079.9,513 1079.9,510 1079.9,507 1081.6,504 1082.8,501 1082.8,498 1082.8,495 1082.8,492 1082.8,489 1082.8,486 1082.8,483 1082.8,480 1082.8,477 1082.8,474 1082.8,471 1082.8,468 1082.8,465 1082.8,462 1082.8,459 1082.8,456 1082.8,453 1082.8,450 1082.8,447 1082.8,444 1082.8,441 1083.4,438 1083.7,435 1083.7,432 1083.7,429 1083.7,426 1083.7,423 1083.7,420 1083.7,417 1083.7,414 1083.7,411 1083.7,408 1083.7,405 1083.7,402 1083.7,399 1083.7,396 1083.7,393 1083.7,390 1083.7,387 1083.2,384 1082.8,381 1082.8,378 1082.8,375 1082.8,372 1082.8,369 1082.8,366 1082.8,363 1082.8,360 1082.8,357 1082.8,354 1082.8,351 1082.8,348 1082.8,345 1082.8,342 1082.8,339 1080.8,336 1079.9,333 1079.9,330 1079.9,327 1079.9,324 1079.9,321 1079.9,318 1079.9,315 1079.9,312 1079.9,309 1079.9,306 1079.9,303 1079.9,300 1079.9,297 1079.9,294 1079.9,291 1079.9,288 1079.9,288 1078.9,285 1076.8,282 1076.8,279 1076.9,276 1076.8,273 1076.8,270 1076.7,267 1076.7,264 1076.6,261 1076.6,258 1076.5,255 1076.4,252 1076.4,249 1076.3,246 1076.2,243 1076.2,240 1075.9,237 1075.7,234 1075.4,231 1075.1,228 1074.7,225 1074.3,222 1074.3,219 1074.3,216 1073.1,213 1072.4,210 1072.4,207 1072.4,204 1072.4,201 1072.4,198 1072.4,195 1072.4,192 1072.4,189 1072.4,186 1072.4,183 1072.4,180 1072.4,177 1072.4,174 1072.4,171 1072.4,168 1072.4,165 1072.4,162 1072.4,159 1072.4,156 1072.4,153 1068.6,151.5 1057.2,151.5 1045.9,151.5 1034.5,151.5ZM1045.9,769.5 1045.7,771 1045.4,774 1045.1,777 1044.9,780 1044.6,783 1044.3,786 1044,789 1043.7,792 1043.9,795 1044.1,798 1044.3,801 1044.6,804 1044.9,807 1045.3,810 1045.7,813 1045.9,814.1 1046.1,813 1046.5,810 1047,807 1047.4,804 1047.8,801 1048.1,798 1048.4,795 1048.7,792 1048.5,789 1048.2,786 1048,783 1047.6,780 1047.3,777 1046.8,774 1046.2,771 1045.9,769.5ZM1057.2,679 1056.9,681 1056.5,684 1056.1,687 1055.7,690 1055.3,693 1055,696 1054.7,699 1054.9,702 1055.1,705 1055.4,708 1055.7,711 1056.1,714 1056.6,717 1057.2,720 1057.2,720.2 1057.3,720 1057.6,717 1058,714 1058.3,711 1058.7,708 1059.2,705 1059.5,702 1059.7,699 1059.5,696 1059.3,693 1058.9,690 1058.6,687 1058.2,684 1057.6,681 1057.2,679ZM1227.6,150 1227.6,150 1238.9,150 1250.3,150 1261.6,150 1261.6,150 1273,151 1273,153 1273,156 1273,159 1273,162 1273,165 1273,168 1273,171 1273,174 1273,177 1273,180 1273,183 1273,186 1273,189 1273,192 1273,195 1273,198 1273,201 1273,204 1273,207 1273,210 1273,213 1273,216 1273,219 1273,222 1273,225 1273,228 1273,231 1273,234 1273,237 1273,240 1273,243 1273,246 1273,249 1273,252 1273,255 1273,258 1273,261 1273,264 1273,267 1273,270 1273,273 1273,276 1273,279 1273,282 1273,285 1273,288 1273,291 1273,294 1273,294 1270.7,297 1269.2,300 1269.2,303 1269.2,306 1269.2,309 1269.2,312 1269.2,315 1269.2,318 1269.2,321 1269.2,324 1268.6,327 1267.3,330 1267.3,333 1267.3,336 1267.3,339 1267.3,342 1267.3,345 1267.3,348 1267.3,351 1267.3,354 1266.9,357 1265.4,360 1265.4,363 1265.4,366 1265.4,369 1265.4,372 1265.4,375 1265.4,378 1265.4,381 1265.4,384 1265.4,387 1261.6,390 1261.6,393 1261.6,396 1261.6,399 1261.6,402 1261.6,402 1259.4,405 1257.9,408 1257.9,411 1256.8,414 1256,417 1256,420 1254.7,423 1254.1,426 1254.1,429 1254.1,432 1250.3,435 1250.3,438 1250.3,441 1250.3,444 1250.3,447 1250.3,450 1250.3,453 1250.3,456 1250.3,459 1250.3,462 1250.3,462 1247.2,465 1246.5,468 1246.5,471 1246.5,474 1246.5,477 1246.5,480 1246.5,483 1246.5,486 1246.5,489 1246.5,492 1245.4,495 1244.6,498 1244.6,501 1244.6,504 1244.6,507 1244.6,510 1244.6,513 1244.6,516 1244.6,519 1244.6,522 1244.2,525 1242.7,528 1242.7,531 1242.7,534 1242.7,537 1242.7,540 1242.7,543 1242.7,546 1242.7,549 1242.7,552 1242.7,555 1238.9,558 1238.9,558 1238.9,558 1233.3,555 1233.3,552 1233.3,549 1233.3,546 1233.3,543 1233.3,540 1233.3,537 1233.3,534 1233.3,531 1233.3,528 1231.7,525 1231.4,522 1231.4,519 1231.4,516 1231.4,513 1231.4,510 1231.4,507 1231.4,504 1231.4,501 1231.4,498 1231.4,495 1230.7,492 1227.6,489 1227.6,489 1227.6,486 1227.6,483 1227.6,480 1227.6,477 1227.6,474 1227.6,471 1227.6,468 1227.6,465 1227.6,462 1227.6,459 1227.6,456 1227.6,453 1227.6,450 1227.6,447 1227.6,444 1227.6,441 1227.6,438 1227.6,435 1227.6,432 1227.6,429 1224.5,426 1223.8,423 1223.8,420 1223.8,417 1223.8,414 1223.8,411 1223.8,408 1223.8,405 1223.8,402 1223.8,399 1223.8,396 1223.8,393 1223.8,390 1223.8,387 1223.8,384 1223.8,381 1223.8,378 1223.8,375 1223.8,372 1223.8,369 1223.8,366 1223.8,363 1223.8,360 1223.8,357 1223.8,354 1223.8,351 1223.8,348 1223.8,345 1223.8,342 1223.8,339 1223.8,336 1223.8,333 1223.8,330 1223.8,327 1223.8,324 1223.8,321 1223.8,318 1223.8,315 1223.8,312 1223.8,309 1223.8,306 1223.8,303 1223.8,300 1223.8,297 1223.8,294 1223.8,291 1223.8,288 1223.8,285 1223.8,282 1223.8,279 1223.8,276 1223.8,273 1223.8,270 1223.8,267 1223.8,264 1223.8,261 1221.9,258 1221.9,255 1221.9,252 1221.9,249 1221.9,246 1221.9,243 1221.9,240 1221.9,237 1221.9,234 1221.9,231 1221.9,228 1221.9,225 1221.9,222 1221.9,219 1221.9,216 1221.9,213 1221.9,210 1221.9,207 1221.9,204 1221.9,201 1221.9,198 1221.9,195 1221.9,192 1221.9,189 1221.9,186 1221.9,183 1221.9,180 1221.9,177 1221.9,174 1221.9,171 1221.9,168 1221.9,165 1221.9,162 1221.9,159 1221.9,156 1221.9,153 1227.6,150ZM1125.4,432 1125.4,432 1136.7,430 1148.1,432 1148.1,432 1148.1,435 1148.1,438 1148.1,441 1148.1,444 1148.1,447 1148.1,450 1148.1,453 1148.1,456 1148.1,459 1148.1,462 1148.1,465 1148.1,468 1148.1,471 1148.1,474 1148.1,477 1148.1,480 1148.1,483 1148.1,486 1148.1,489 1148.1,492 1148.1,495 1148.1,498 1148.1,501 1148.1,504 1148.1,507 1148.1,510 1148.1,513 1148.1,516 1148.1,519 1148.1,522 1148.1,525 1148.1,528 1148.1,531 1148.1,534 1148.1,537 1148.1,540 1148.1,543 1148.1,546 1148.1,549 1148.1,552 1148.1,555 1148.1,558 1148.1,561 1148.1,561 1145.8,564 1144.3,567 1144.3,570 1144.3,573 1144.3,576 1144.3,579 1144.3,582 1144.3,585 1144.3,588 1144.3,591 1144.3,594 1144.3,597 1144.3,600 1144.3,603 1144.3,606 1144.3,609 1144.3,612 1144.3,615 1144.3,618 1144.3,621 1144.3,624 1144.3,627 1136.7,630 1136.7,630 1136.7,630 1131,627 1131,624 1131,621 1131,618 1131,615 1130.7,612 1129.2,609 1129.2,606 1129.2,603 1129.2,600 1129.2,597 1129.2,594 1129.2,591 1129.2,588 1129.2,585 1129.2,582 1129.2,579 1129.2,576 1129.2,573 1129.2,570 1129.2,567 1129.2,564 1129.2,561 1129.2,558 1129.2,555 1129.2,552 1129.2,549 1129.2,546 1129.2,543 1129.2,540 1129.2,537 1129.2,534 1129.2,531 1129.2,528 1129.2,525 1129.2,522 1129.2,519 1129.2,516 1129.2,513 1129.2,510 1129.2,507 1129.2,504 1129.2,501 1129.2,498 1129.2,495 1129.2,492 1129.2,489 1129.2,486 1129.2,483 1129.2,480 1129.2,477 1129.2,474 1129.2,471 1125.4,468 1125.4,468 1125.4,465 1125.4,462 1125.4,459 1125.4,456 1125.4,453 1125.4,450 1125.4,447 1125.4,444 1125.4,441 1125.4,438 1125.4,435 1125.4,432ZM1125.4,726 1125.4,726 1136.7,726 1136.7,726 1144.3,729 1144.3,732 1144.3,735 1144.3,738 1144.3,741 1144.3,744 1144.3,747 1144.3,750 1144.3,753 1144.3,756 1144.3,759 1144.3,762 1144.3,765 1144.3,768 1144.3,771 1144.3,774 1144.3,777 1144.3,780 1144.3,783 1144.3,786 1144.3,789 1144.3,792 1144.3,795 1144.3,798 1144.3,801 1144.3,804 1144.3,807 1144.3,810 1144.3,813 1144.3,816 1144.3,819 1144.3,822 1144.3,825 1144.3,828 1144.3,831 1144.3,834 1144.3,837 1144.3,840 1144.3,843 1144.3,846 1144.3,849 1144.3,852 1144.3,855 1144.3,858 1144.3,861 1144.3,864 1144.3,867 1144.3,870 1144.3,873 1144.3,876 1144.3,879 1144.3,882 1144.3,885 1144.3,888 1141.8,891 1136.7,892 1125.4,892 1114,891.3 1113.3,891 1111.6,888 1111.6,885 1111.6,882 1111.6,879 1111.6,876 1111.6,873 1111.7,870 1111.7,867 1111.7,864 1111.7,861 1111.7,858 1111.7,855 1111.7,852 1111.7,849 1111.7,846 1111.6,843 1111.6,840 1111.6,837 1111.5,834 1111.5,831 1111.4,828 1111.4,825 1111.3,822 1111.2,819 1111.2,816 1111.1,813 1111.1,810 1111,807 1110.9,804 1110.9,801 1110.8,798 1110.7,795 1110.6,792 1110.5,789 1110.4,786 1110.3,783 1110.2,780 1110.2,777 1110.2,774 1110.2,771 1110.2,768 1110.2,765 1110.2,762 1110.2,759 1110.2,756 1110.2,753 1110.2,750 1110.2,747 1110.2,744 1110.2,741 1110.2,738 1110.2,735 1110.2,732 1110.2,729 1114,727 1125.4,726ZM1170.8,762 1170.8,762 1182.1,762 1182.1,762 1193.5,765 1193.5,765 1193.5,768 1193.5,771 1193.5,774 1193.5,777 1193.5,780 1193.5,783 1193.5,786 1193.5,789 1193.5,792 1193.5,795 1193.5,798 1193.5,801 1193.5,804 1193.5,807 1193.5,810 1193.5,813 1193.5,813 1192.2,816 1189.7,819 1189.7,822 1189.7,825 1189.7,828 1189.7,831 1189.7,834 1189.7,837 1189.7,840 1189.7,843 1189.7,846 1189.7,849 1189.7,852 1189.7,855 1189.7,858 1189.7,861 1189.7,864 1189.7,867 1189.7,870 1189.7,873 1182.1,876 1182.1,876 1182.1,876 1170.8,873 1170.8,873 1170.8,870 1170.8,867 1170.8,864 1170.8,861 1168.5,858 1167,855 1167,852 1167,849 1167,846 1167,843 1167,840 1167,837 1167,834 1167,831 1167,828 1167,825 1167,822 1167,819 1167,816 1167,813 1167,810 1167,807 1167,804 1167,801 1167,798 1167,795 1167,792 1167,789 1167,786 1167,783 1167,780 1165.9,777 1165.1,774 1165.1,771 1165.1,768 1165.1,765 1170.8,762ZM1231.4,783 1238.9,782 1250.3,782 1255.3,783 1257.9,786 1257.9,789 1257.9,792 1257.9,795 1257.9,798 1257.9,801 1257.9,804 1257.9,807 1257.9,810 1257.9,813 1257.9,816 1257.9,819 1257.9,822 1257.9,825 1257.9,828 1257.9,831 1257.9,834 1257.9,837 1257.9,840 1257.9,843 1257.9,846 1257.9,849 1257.9,852 1257.9,855 1257.9,858 1257.9,861 1257.9,864 1257.9,867 1257.9,870 1257.9,873 1257.9,876 1257.9,879 1257.9,882 1257.9,885 1257.9,888 1257.9,891 1257.9,894 1257.9,897 1257.9,900 1257.9,903 1257.9,906 1257.9,909 1257.9,912 1257.9,915 1257.9,918 1255.3,921 1250.3,922 1238.9,922 1235.1,921 1233.3,918 1231.4,915 1231.4,912 1231.4,909 1231.4,906 1231.4,903 1231.4,900 1231.4,897 1231.4,894 1231.4,891 1231.4,888 1231.4,885 1231.4,882 1231.4,879 1231.4,876 1231.4,873 1231.4,870 1231.4,867 1231.4,864 1231.4,861 1231.4,858 1231.4,855 1231.4,852 1231.4,849 1231.4,846 1231.4,843 1231.4,840 1231.4,837 1231.4,834 1231.4,831 1231.4,828 1231.4,825 1231.4,822 1231.4,819 1228.8,816 1227.6,813 1227.6,813 1227.6,810 1227.6,807 1227.6,804 1227.6,801 1227.6,798 1227.6,795 1227.6,792 1227.6,789 1227.6,786 1227.6,786 1231.4,783Z"/>
<path fill="#6ed010" stroke="#6ed010" stroke-width="0.4" fill-rule="evenodd" d="M425.1,153 432.6,150 444,150 455.3,150 466.7,151 469,153 469.1,156 469.1,159 470,162 470.8,165 470.9,168 471,171 471,174 471.1,177 471.2,180 471.3,183 471.4,186 471.5,189 471.6,192 471.7,195 471.8,198 471.9,201 472.2,204 472.6,207 473,210 473.4,213 473.9,216 474.5,219 475.4,222 476.4,225 477.7,228 478,228.6 478.2,231 478.4,234 478.5,237 478.7,240 478.9,243 479.1,246 479.2,249 479.4,252 479.6,255 479.7,258 479.9,261 480.1,264 480.3,267 480.4,270 480.6,273 480.9,276 481.1,279 481.3,282 481.6,285 481.8,288 482.1,291 482.3,294 482.6,297 482.8,300 483.1,303 483.4,306 483.8,309 484.1,312 484.4,315 484.7,318 484.9,321 485.2,324 485.5,327 485.8,330 486.1,333 486.3,336 486.6,339 488.2,342 488.2,345 488.3,348 488.3,351 488.3,354 488.4,357 489.4,359.9 489.5,360 489.6,363 489.8,366 490,369 490.2,372 490.3,375 490.5,378 490.8,381 491,384 491.2,387 491.5,390 491.7,393 492,396 492.3,399 492.6,402 492.9,405 493.2,408 493.5,411 493.8,414 494.1,417 494.3,420 494.7,423 495,426 495.3,429 495.6,432 495.9,435 496.2,438 496.6,441 496.9,444 497.2,447 497.6,450 498.5,453 498.6,456 498.7,459 498.7,462 498.8,465 498.9,468 499,471 499.2,474 499.4,477 499.6,480 499.7,483 499.9,486 500.1,489 500.3,492 500.5,495 500.6,498 500.8,500 503.1,498 505.9,495 512.1,492.5 514,495 514.4,498 514.8,501 515.1,504 515.4,507 515.7,510 515.9,513 516.2,516 516.4,519 516.6,522 516.9,525 517,528 517.2,531 517.2,534 517.2,537 517.3,540 517.3,543 517.3,546 517.4,549 517.4,552 517.4,555 517.4,558 517.5,561 517.5,564 517.5,567 517.5,570 517.6,573 517.6,576 517.6,579 517.6,582 517.7,585 517.7,588 517.7,591 517.7,594 517.8,597 517.8,600 517.8,603 517.7,606 517.7,609 517.7,612 517.6,615 517.6,618 517.5,621 517.5,624 517.5,627 517.4,630 517.4,633 517.4,636 517.3,639 517.3,642 517.2,645 517.2,648 517.2,651 517.1,654 517.1,657 517,660 517,663 516.9,666 516.9,669 516.8,672 516.8,675 516.7,678 516.7,681 516.7,684 516.6,687 516.6,690 516.5,693 516.4,696 516.4,699 516.2,702 516,705 515.8,708 515.6,711 515.3,714 515,717 514.7,720 514.4,723 514.1,726 513.7,729 513.3,732 512.9,735 512.4,738 512.1,739.1 511.1,741 508.8,744 507.1,747 505.9,750 504.9,753 504.2,756 503.5,759 503.2,762 502.9,765 502.7,768 500.8,768.5 498.9,768 498.5,765 497.7,762 496.2,759 493.3,756 489.4,753.9 488.3,756 486.1,759 483,762 479,765 478,765.7 477.2,765 474,762 472.1,759 471,756 470.2,753 469.5,750 468.9,747 468.4,744 468,741 467.7,738 467.4,735 467.1,732 466.9,729 466.7,726 466.7,725.9 465.6,723 464.5,720 463.6,717 462.9,714 462.3,711 461.7,708 461.3,705 460.9,702 460.5,699 460.3,696 460,693 459.8,690 459.6,687 459.4,684 459.3,681 459.1,678 459,675 458.8,672 458.7,669 458.6,666 458.5,663 458.4,660 458.3,657 458.1,654 458,651 457.9,648 457.7,645 457.6,642 457.6,639 457.5,636 457.4,633 457.4,630 457.4,627 457.3,624 457.3,621 457.2,618 457.2,615 457.2,612 457.2,609 457.2,606 457.1,603 457.1,600 457.1,597 457.1,594 457.1,591 457.1,588 457,585 457,582 457,579 457,576 457,573 457,570 457,567 456.9,564 456.9,561 456.9,558 456.9,555 456.9,552 456.9,549 456.9,546 456.9,543 456.8,540 456.8,537 456.8,534 456.8,531 456.8,528 456.8,525 456.8,522 456.8,519 456.8,516 456.8,513 456.8,510 456.8,507 456.8,504 456.8,501 456.8,498 456.8,495 456.8,492 456.8,489 456.8,486 456.8,483 456.8,480 456.8,477 456.8,474 456.8,471 456.8,468 456.8,465 456.8,462 456.8,459 456.8,456 456.8,453 456.9,450 456.9,447 456.9,444 456.9,441 456.9,438 456.9,435 456.9,432 456.9,429 456.9,426 457,423 457,420 457,417 457,414 457,411 457,408 457.1,405 457.1,402 457.1,399 457.2,396 457.2,393 457.2,390 457.3,387 457.3,384 457.4,381 457.4,378 457.5,375 457.5,372 457.6,369 457.6,366 457.7,363 457.7,360 457.8,357 457.9,354 458,351 458.1,348 458.1,345 458.3,342 458.4,339 458.5,336 458.6,333 458.7,330 458.9,327 459.1,324 459.2,321 459.4,318 459.6,315 459.9,312 460.1,309 460.4,306 460,303 460.2,300 455.3,297 455.3,297 451.6,294 450,291 449.7,288 447.8,285 447.1,282 444,279 444,279 432.6,276 432.6,273 432.6,270 432.6,270 431.4,267 428.8,264 428.8,261 428.8,258 428.8,255 428.8,252 428.8,249 428.8,246 428.8,243 428.3,240 426.9,237 426.9,234 426.9,231 426.9,228 426.9,225 426.9,222 426.9,219 426.9,216 426.6,213 425.1,210 425.1,207 425.1,204 425.1,201 425.1,198 425.1,195 425.1,192 425.1,189 425.1,186 425.1,183 425.1,180 425.1,177 425.1,174 425.1,171 425.1,168 425.1,165 425.1,162 425.1,159 425.1,156 425.1,153ZM478,270.8 476.7,273 475.2,276 474.1,279 473.2,282 472.6,285 472,288 471.6,291 471.2,294 471.7,297 471.7,300 470,303 469.4,306 468.8,309 468.3,312 467.8,315 467.3,318 466.9,321 466.7,322.8 466.5,324 466,327 465.6,330 465.1,333 464.8,336 464.4,339 464.1,342 463.8,345 463.5,348 463.2,351 463,354 462.7,357 462.5,360 462.4,363 462.2,366 462,369 461.9,372 461.7,375 461.6,378 461.4,381 461.3,384 461.2,387 461,390 460.9,393 460.8,396 460.7,399 460.6,402 460.5,405 460.4,408 460.3,411 460.3,414 460.2,417 460.2,420 460.2,423 460.2,426 460.1,429 460.1,432 460.1,435 460.1,438 460,441 460,444 459.9,447 459.9,450 459.9,453 459.8,456 459.8,459 459.8,462 459.8,465 459.8,468 459.8,471 459.7,474 459.7,477 459.7,480 459.7,483 459.7,486 459.7,489 459.7,492 459.7,495 459.7,498 459.7,501 459.8,504 459.8,507 459.8,510 459.8,513 459.8,516 459.8,519 459.8,522 459.8,525 459.8,528 459.8,531 459.8,534 459.8,537 459.9,540 459.9,543 459.9,546 460,549 460,552 460,555 460.1,558 460.1,561 460.2,564 460.2,567 460.2,570 460.3,573 460.3,576 460.4,579 460.4,582 460.4,585 460.5,588 460.5,591 460.6,594 460.6,597 460.7,600 460.7,603 460.8,606 460.9,609 460.9,612 461,615 461,618 461.1,621 461.2,624 461.4,627 461.5,630 461.7,633 461.8,636 462,639 462.3,642 462.6,645 462.9,648 463.3,651 463.7,654 464.2,657 464.5,660 464.8,663 465.1,666 465.4,669 465.8,672 466.2,675 466.6,678 466.7,678.5 466.8,681 466.9,684 467.1,687 467.2,690 467.4,693 467.6,696 467.7,699 467.9,702 468.2,705 468.5,708 468.7,711 469.1,714 469.4,717 469.8,720 470.2,723 470.6,726 471.1,729 471.5,732 472,735 472.6,738 473.2,741 474,744 475,747 476.1,750 477.5,753 478,753.9 478.8,753 480.9,750 482.6,747 484,744 485.3,741 486.2,738 487,735 487.8,732 488.4,729 489,726 489.4,724.2 490.1,723 491.8,720 493.1,717 494.1,714 495,711 495.6,708 496.2,705 496.7,702 497.1,699 497.5,696 497.8,693 498.1,690 498.4,687 498.7,684 498.9,681 499.2,678 499.4,675 499.6,672 499.7,669 499.9,666 500.1,663 500.2,660 500.3,657 500.5,654 500.6,651 500.7,648 500.8,646.7 501.1,645 501.6,642 502,639 502.5,636 502.9,633 503.2,630 503.6,627 503.9,624 504.3,621 504.3,618 504.2,615 504.1,612 504,609 503.9,606 503.7,603 503.6,600 503.4,597 503.2,594 503,591 502.9,588 502.7,585 502.4,582 502.2,579 502,576 501.8,573 501.6,570 501.3,567 501.1,564 500.8,561 500.8,560.7 500.6,558 500.5,555 500.3,552 500.1,549 500,546 499.8,543 499.6,540 499.5,537 499.3,534 499.1,531 499,528 498.8,525 498.6,522 498.4,519 498.3,516 498.1,513 497.9,510 497.7,507 497.6,504 497.4,501 497.2,498 497,495 496.8,492 496.6,489 496.4,486 496.2,483 495.9,480 495.7,477 495.5,474 495.2,471 495,468 494.9,465 494.7,462 494.5,459 494.3,456 494,453 493.4,450 493,447 492.6,444 492.2,441 491.9,438 491.6,435 491.3,432 491,429 490.7,426 490.4,423 490.1,420 489.8,417 489.5,414 489.4,413.5 489.3,411 489.2,408 489.1,405 488.9,402 488.8,399 488.7,396 488.5,393 488.4,390 488.3,387 488.2,384 488.1,381 488,378 487.8,375 487.7,372 487.6,369 487.5,366 487.3,363 487.2,360 486.3,357 486.2,354 486.1,351 486,348 485.8,345 485.7,342 484.4,339 484.2,336 483.9,333 483.6,330 483.3,327 483,324 482.6,321 482.3,318 482,315 481.7,312 481.4,309 481,306 480.7,303 480.4,300 480.2,297 479.9,294 479.7,291 479.4,288 479.2,285 478.9,282 478.7,279 478.5,276 478.2,273 478,270.8ZM733.1,150 739.2,150 742.3,150 742.4,153 742.5,156 742.6,159 742.7,162 742.7,165 742.8,168 742.9,171 743,174 743.1,177 743.2,180 743.3,183 743.4,186 743.4,189 743.5,192 743.6,195 743.7,198 743.9,201 744,204 744.1,207 744.3,210 744.4,213 744.5,216 744.6,219 744.8,222 744.9,225 745.1,228 745.2,231 745.3,234 745.5,237 745.6,240 745.8,243 745.9,246 746,249 746.2,252 746.3,255 746.5,258 746.6,261 746.8,264 747,267 747.1,270 747.3,273 747.6,276 747.8,279 748,282 748.2,285 748.4,288 748.6,291 748.8,294 749,297 749.1,300 749.3,303 749.4,306 749.5,309 749.7,312 749.8,315 750,318 750.1,321 750.3,324 750.4,327 750.6,330 750.8,327 750.9,324 751.1,321 751.2,318 751.4,315 751.5,312 751.7,309 751.8,306 751.9,303 752.1,300 752.2,297 752.3,294 752.4,291 752.6,288 752.7,285 752.8,282 752.9,279 753,276 753.1,273 753.2,270 753.3,267 753.4,264 753.5,261 753.6,258 753.7,255 753.8,252 753.8,249 753.9,246 754,243 754.1,240 754.2,237 754.3,234 754.3,231 754.4,228 754.5,225 754.6,222 754.6,219 754.7,216 754.8,213 754.8,210 754.9,207 755,204 755,201 755.1,198 755.1,195 755.2,192 755.2,189 755.2,186 755.2,183 755.2,180 755.3,177 755.3,174 755.3,171 755.3,168 755.3,165 755.3,162 755.4,159 755.4,156 755.4,153 755.4,150 759.8,150 759.8,153 759.8,156 759.8,159 759.8,162 759.7,165 759.7,168 759.7,171 759.7,174 759.7,177 759.7,180 759.7,183 759.7,186 759.7,189 759.7,192 759.7,195 759.7,198 759.6,201 759.6,204 759.6,207 759.6,210 759.6,213 759.5,216 759.5,219 759.5,222 759.5,225 759.4,228 759.4,231 759.4,234 759.4,237 759.3,240 759.3,243 759.3,246 759.3,249 759.2,252 759.2,255 759.2,258 759.1,261 759.1,264 759.1,267 759,270 759,273 759,276 758.9,279 758.9,282 758.9,285 758.8,288 758.8,291 758.7,294 758.7,297 758.7,300 758.6,303 758.6,306 758.5,309 758.5,312 758.4,315 758.4,318 758.3,321 758.3,324 758.2,327 758.2,330 758,333 757.8,336 757.5,339 757.2,342 756.9,345 756.6,348 756.1,351 755.7,354 755.1,357 754.4,360 753.5,363 752.5,366 751.1,369 750.6,369.8 750.1,369 748.7,366 747.7,363 746.8,360 746.1,357 745.6,354 745.1,351 744.7,348 744.3,345 744,342 743.7,339 743.5,336 743.2,333 743,330 743,327 742.9,324 742.9,321 742.8,318 742.8,315 742.7,312 742.7,309 742.6,306 742.6,303 742.5,300 742.3,297 742,294 741.7,291 741.4,288 741,285 740.7,282 740.4,279 740,276 739.6,273 739.2,270 739.2,270 738.9,267 738.6,264 738.3,261 738,258 737.8,255 737.5,252 737.3,249 737,246 736.8,243 736.6,240 736.4,237 736.2,234 736.1,231 735.9,228 735.7,225 735.6,222 735.4,219 735.3,216 735.1,213 735,210 734.9,207 734.7,204 734.6,201 734.5,198 734.4,195 734.3,192 734.2,189 734.1,186 734,183 733.9,180 733.8,177 733.7,174 733.6,171 733.5,168 733.4,165 733.4,162 733.3,159 733.2,156 733.1,153 733.1,150ZM860.9,150 864.2,150 867.4,150 868.4,153 868.4,156 868.4,159 868.3,162 868.3,165 868.3,168 868.3,171 868.3,174 868.2,177 868.2,180 868.2,183 868.2,186 868.2,189 868.1,192 868.1,195 868.1,198 868.1,201 868,204 868,207 868,210 868,213 867.9,216 867.9,219 867.9,222 867.9,225 867.9,228 867.8,231 867.8,234 867.8,237 867.8,240 867.7,243 867.7,246 867.7,249 867.7,252 867.6,255 867.6,258 867.6,261 867.6,264 867.5,267 867.5,270 867.5,273 867.4,276 867.4,279 866.8,282 865.8,285 864.5,288 864.2,288.6 864,288 863,285 862.2,282 861.8,279 861.7,276 861.7,273 861.7,270 861.7,267 861.7,264 861.6,261 861.6,258 861.6,255 861.6,252 861.6,249 861.5,246 861.5,243 861.5,240 861.5,237 861.5,234 861.4,231 861.4,228 861.4,225 861.4,222 861.4,219 861.3,216 861.3,213 861.3,210 861.3,207 861.3,204 861.2,201 861.2,198 861.2,195 861,192 860.2,189 860.2,186 860.1,183 860.1,180 860.1,177 860.1,174 860.1,171 860,168 860,165 860,162 860,159 860,156 859.9,153 860.9,150ZM971.5,150 977.7,150 983.9,150 983.8,153 983.6,156 983.5,159 983.3,162 983.2,165 983,168 982.8,171 982.6,174 982.4,177 982.2,180 981.9,183 981.6,186 981.4,189 981,192 980.7,195 980.4,198 980,201 979.5,204 979.1,207 978.5,210 977.9,213 977.7,213.3 977.5,213 976.9,210 976.4,207 975.9,204 975.5,201 975.1,198 974.7,195 974.4,192 974.1,189 973.8,186 973.6,183 973.3,180 973.1,177 972.9,174 972.7,171 972.5,168 972.3,165 972.1,162 972,159 971.8,156 971.7,153 971.5,150ZM1084.5,150 1090.7,150 1090.9,153 1091,156 1091.1,159 1091.3,162 1091.3,162.9 1091.5,165 1091.9,168 1092.2,171 1092.6,174 1092.9,177 1093.3,180 1093.6,183 1093.9,186 1094.2,189 1094.5,192 1094.9,195 1095.2,198 1095.5,201 1095.8,204 1096,207 1096.3,210 1096.6,213 1096.9,216 1097.2,219 1097.4,222 1097.7,225 1098,228 1098.2,231 1098.5,234 1098.7,237 1099,240 1099.2,243 1099.5,246 1099.7,249 1099.9,252 1100.2,255 1100.4,258 1100.6,261 1100.9,264 1101.2,267 1101.4,270 1101.6,273 1101.8,276 1102,279 1102.2,282 1102.4,285 1102.6,288 1102.7,289.6 1102.8,288 1102.9,285 1103.1,282 1103.3,279 1103.5,276 1103.7,273 1103.9,270 1104.1,267 1104.4,264 1104.7,261 1104.9,258 1105.1,255 1105.4,252 1105.6,249 1105.9,246 1106.1,243 1106.3,240 1106.6,237 1106.8,234 1107.1,231 1107.3,228 1107.6,225 1107.9,222 1108.1,219 1108.4,216 1108.7,213 1109,210 1109.3,207 1109.6,204 1109.8,201 1110.1,198 1110.5,195 1110.8,192 1111.1,189 1111.4,186 1111.7,183 1112,180 1112.4,177 1112.7,174 1113.1,171 1113.4,168 1113.8,165 1114,162.9 1114.1,162 1114.3,159 1114.6,156 1114.8,153 1115,150 1125.4,150 1125.2,153 1125,156 1124.8,159 1124.6,162 1124.5,165 1124.3,168 1124.1,171 1123.9,174 1123.7,177 1123.5,180 1123.3,183 1123.1,186 1122.9,189 1122.7,192 1122.5,195 1122.3,198 1122,201 1121.8,204 1121.6,207 1121.4,210 1121.2,213 1120.9,216 1120.7,219 1119.9,222 1119.8,225 1119.7,228 1119.5,231 1119.4,234 1119.2,237 1119.1,240 1118.9,243 1118.7,246 1118.6,249 1118.4,252 1118.2,255 1117.9,258 1117.6,261 1117,264 1116.2,267 1115.3,270 1114.2,273 1114,273.3 1113.5,276 1113,279 1112.5,282 1112,285 1111.6,288 1111.2,291 1110.7,294 1110.3,297 1109.9,300 1109.8,303 1109.8,306 1109.6,309 1109.5,312 1109.4,315 1109.3,318 1109.2,321 1109.1,324 1108.9,327 1108.8,330 1108.6,333 1108.4,336 1108.3,339 1108.1,342 1107.9,345 1107.7,348 1107.4,351 1107.2,354 1106.9,357 1106.6,360 1106.3,363 1106,366 1105.6,369 1105.2,372 1104.8,375 1104.3,378 1103.7,381 1103.1,384 1102.7,385.1 1102.3,384 1101.6,381 1101,378 1100.5,375 1100.1,372 1099.7,369 1099.3,366 1099,363 1098.7,360 1098.4,357 1098.1,354 1097.9,351 1097.6,348 1097.4,345 1097.2,342 1097,339 1096.9,336 1096.7,333 1096.5,330 1096.4,327 1096.3,324 1096.1,321 1096,318 1095.9,315 1095.8,312 1095.7,309 1095.6,306 1095.5,303 1095.4,300 1095,297 1094.6,294 1094.1,291 1093.7,288 1093.3,285 1092.8,282 1092.3,279 1091.8,276 1091.3,273.3 1091.2,273 1090.8,270 1090.5,267 1090.1,264 1089.8,261 1089.6,258 1089.5,255 1089.3,252 1089.2,249 1089.1,246 1089,243 1088.9,240 1088.8,237 1088.7,234 1088.6,231 1088.5,228 1088.4,225 1088.3,222 1088.2,219 1088.1,216 1087.6,213 1086.9,210 1086.8,207 1086.7,204 1086.6,201 1086.5,198 1086.4,195 1086.3,192 1086.3,189 1086.2,186 1086.1,183 1086,180 1085.9,177 1085.9,174 1085.8,171 1085.7,168 1085.7,165 1085.6,162 1085.5,159 1085.5,156 1085.4,153 1084.5,150ZM1010.1,165 1011.8,162 1012.4,165 1013,168 1013.5,171 1014,174 1014.4,177 1014.8,180 1015.1,183 1015.4,186 1015.7,189 1016,192 1016.3,195 1016.5,198 1016.7,201 1016.8,204 1017,207 1017.2,210 1017.3,213 1018.6,216 1018.7,219 1018.9,222 1019,225 1019.1,228 1019.2,231 1019.3,234 1019.4,237 1019.6,240 1019.7,243 1019.8,246 1019.9,249 1020,252 1020.1,255 1020.2,258 1020.3,261 1020.9,264 1021.6,267 1021.7,270 1021.7,273 1021.7,276 1021.8,279 1021.8,282 1021.8,285 1021.9,288 1021.9,291 1021.9,294 1021.9,297 1022,300 1022,303 1022.1,306 1022.1,309 1022.2,312 1022.3,315 1022.3,318 1022.4,321 1022.4,324 1022.5,327 1022.5,330 1022.6,333 1022.6,336 1022.6,339 1022.7,342 1022.7,345 1022.8,348 1022.8,351 1022.9,354 1022.9,357 1022.9,360 1023,363 1023,366 1023.1,369 1023.1,372 1023.2,375 1023.2,375 1023.4,378 1023.6,381 1023.8,384 1024.4,387 1025.1,390 1025.5,393 1026,396 1026.4,399 1026.7,402 1027.1,405 1027.4,408 1027.7,411 1027.9,414 1028.2,417 1028.4,420 1028.6,423 1028.8,426 1029,429 1029.1,432 1029.3,435 1029.4,438 1029.6,441 1029.7,444 1029.9,447 1030,450 1030.2,453 1030.5,456 1030.7,459 1030.9,462 1031,465 1031.2,468 1031.3,471 1031.4,474 1031.6,477 1031.7,480 1031.8,483 1031.9,486 1032,489 1032,492 1032.1,495 1032.2,498 1032.3,501 1032.4,504 1032.4,507 1032.5,510 1032.6,513 1032.6,516 1032.7,519 1032.7,522 1032.8,525 1032.8,528 1032.9,531 1032.9,534 1033,537 1033,540 1033,543 1033,546 1033.1,549 1033.1,552 1033.1,555 1033.1,558 1033.2,561 1033.3,564 1033.4,567 1033.6,570 1033.7,573 1033.8,576 1034,579 1034.1,582 1034.3,585 1034.4,588 1034.5,590 1034.7,591 1035.2,594 1035.7,597 1036.3,600 1037.9,603 1038.5,606 1038.9,609 1039.3,612 1039.7,615 1040,618 1040.2,621 1040.3,624 1040.3,627 1040.4,630 1040.4,633 1040.5,636 1040.5,639 1040.6,642 1040.6,645 1040.6,648 1040.7,651 1040.7,654 1040.8,657 1040.8,660 1040.9,663 1040.9,666 1040.9,669 1041,672 1041,675 1041.1,678 1041.1,681 1041.1,684 1041.2,687 1041.2,690 1041.2,693 1041.3,696 1041.3,699 1041,702 1040.6,705 1040.3,708 1040,711 1039.7,714 1039.5,717 1039.2,720 1039,723 1038.8,726 1038.6,729 1038.4,732 1038.2,735 1038,738 1037.8,741 1037.7,744 1037.5,747 1037.4,750 1037.2,753 1037.1,756 1037,759 1036.9,762 1036.7,765 1036.6,768 1036.5,771 1036.4,774 1036.3,777 1036.2,780 1036,783 1035.7,786 1035.4,789 1035.1,792 1034.8,795 1034.5,797.8 1034.5,798 1034,801 1033.5,804 1033,807 1032.5,810 1031.8,813 1031.1,816 1030.3,819 1027.3,822 1026.5,825 1025.6,828 1024.7,831 1023.9,834 1023.2,836.7 1021.3,834 1019.8,831 1018.5,828 1017.5,825 1016.7,822 1016.2,819 1015.7,816 1015.4,813 1015,810 1014.8,807 1014.6,804 1014.5,801 1014.3,798 1014.2,795 1014.1,792 1014,789 1013.9,786 1013.8,783 1013.7,780 1013.7,777 1013.6,774 1013.6,771 1013.5,768 1013.5,765 1013.5,762 1013.5,759 1013.4,756 1013.4,753 1013.4,750 1013.4,747 1013.3,744 1013.3,741 1013.3,738 1013.3,735 1013.3,732 1013.3,729 1013.3,726 1013.2,723 1013.2,720 1013.2,717 1013.2,714 1013.2,711 1013.2,708 1013.2,705 1013.2,702 1013.2,699 1013.2,696 1013.2,693 1013.2,690 1013.2,687 1013.2,684 1013.2,681 1013.2,678 1013.2,675 1013.2,672 1013.2,669 1013.2,666 1013.2,663 1013.2,660 1013.1,657 1013.1,654 1013.1,651 1013.1,648 1013.1,645 1013.1,642 1013.1,639 1013,636 1012.8,633 1012.7,630 1012.5,627 1012.4,624 1012.2,621 1012.1,618 1011.9,615 1011.8,613.3 1011.5,612 1010.9,609 1010.4,606 1010,603 1009.5,600 1009,597 1008.6,594 1008.1,591 1007.8,588 1007.4,585 1007.1,582 1006.8,579 1006.6,576 1006.3,573 1006.1,570 1005.9,567 1005.7,564 1005.5,561 1005.3,558 1005.1,555 1004.9,552 1004.7,549 1004.5,546 1004.4,543 1002.7,540 1002.3,537 1002,534 1001.6,531 1001.3,528 1001,525 1000.7,522 1000.4,520 1000.3,519 999.7,516 999.3,513 998.8,510 998.4,507 998.1,504 997.7,501 997.5,498 997.3,495 997.1,492 997,489 996.8,486 996.6,483 996.5,480 996.4,477 996.2,474 996.1,471 996,468 995.8,465 995.7,462 995.6,459 995.5,456 995.4,453 995.3,450 995.3,447 995.2,444 995.2,441 995.2,438 995.1,435 995.1,432 995.1,429 995.1,426 995,423 995,420 995,417 994.1,414 993,411 992,408 992,405 992,402 992,399 992,396 991.9,393 991.9,390 992,387 992,384 992,381 992,378 992.1,375 992.1,372 992.1,369 992.2,366 992.2,363 992.2,360 992.3,357 992.3,354 992.4,351 992.4,348 992.4,345 992.5,342 992.5,339 992.6,336 992.6,333 992.6,330 992.7,327 992.8,324 992.9,321 993,318 993.1,315 993.2,312 993.3,309 993.4,306 993.6,303 993.7,300 993.8,297 994,294 994.1,291 994.3,288 994.5,285 994.7,282 994.9,279 995.1,276 995.3,273 995.6,270 995.9,267 996.2,264 996.5,261 996.9,258 997.3,255 997.8,252 998.4,249 999,246 999.7,243 1000.4,240 1000.4,240 1000.7,237 1000.9,234 1001.1,231 1001.3,228 1001.6,225 1001.8,222 1002.1,219 1002.3,216 1002.6,213 1002.9,210 1003.2,207 1003.5,204 1003.9,201 1004.1,198 1004.3,195 1004.6,192 1004.8,189 1005.2,186 1005.5,183 1006,180 1006.5,177 1007.1,174 1007.9,171 1008.8,168 1010.1,165ZM1011.8,196.1 1011.4,198 1010.9,201 1010.4,204 1010,207 1009.5,210 1009.1,213 1008.6,216 1008.2,219 1007.9,222 1007.5,225 1007.1,228 1006.8,231 1006.5,234 1006.1,237 1005.7,240 1005.3,243 1005,246 1004.7,249 1004.4,252 1004.1,255 1003.8,258 1003.5,261 1003.3,264 1003.1,267 1002.9,270 1002.7,273 1002.5,276 1002.3,279 1002.2,282 1002,285 1001.8,288 1001.7,291 1001.6,294 1001.4,297 1001.3,300 1001.2,303 1001.1,306 1000.9,309 1000.8,312 1000.7,315 1000.6,318 1000.5,321 1000.4,321.8 1000.2,324 1000,327 999.7,330 999.6,333 999.5,336 999.4,339 999.2,342 999.1,345 999,348 998.9,351 998.8,354 998.7,357 998.6,360 998.4,363 998.3,366 998.2,369 998.2,372 998.1,375 998,378 997.9,381 997.8,384 997.7,387 997.6,390 997.7,393 997.7,396 997.8,399 997.8,402 997.9,405 997.9,408 998.3,411 998.6,414 998.9,417 999,420 999,423 999.1,426 999.1,429 999.1,432 999.2,435 999.2,438 999.3,441 999.3,444 999.4,447 999.4,450 999.6,453 999.8,456 999.9,459 1000.1,462 1000.3,465 1000.4,466.7 1000.5,468 1000.6,471 1000.7,474 1000.9,477 1001,480 1001.2,483 1001.3,486 1001.5,489 1001.7,492 1001.9,495 1002.1,498 1002.3,501 1002.6,504 1002.9,507 1003.3,510 1003.6,513 1004,516 1004.4,519 1004.8,522 1005.2,525 1005.6,528 1006,531 1006.4,534 1006.8,537 1007.3,540 1008.3,543 1008.6,546 1009,549 1009.4,552 1009.8,555 1010.2,558 1010.7,561 1011,564 1011.4,567 1011.8,570 1011.8,570 1012.1,573 1012.4,576 1012.7,579 1012.9,582 1013.2,585 1013.4,588 1013.6,591 1013.8,594 1014,597 1014.2,600 1014.4,603 1014.5,606 1014.6,609 1014.8,612 1014.9,615 1015,618 1015.1,621 1015.3,624 1015.4,627 1015.5,630 1015.6,633 1015.7,636 1015.8,639 1015.8,642 1015.8,645 1015.8,648 1015.8,651 1015.8,654 1015.8,657 1015.9,660 1015.9,663 1015.9,666 1015.9,669 1015.9,672 1015.9,675 1015.9,678 1015.9,681 1015.9,684 1015.9,687 1015.9,690 1015.9,693 1015.9,696 1015.9,699 1015.9,702 1015.9,705 1016,708 1016,711 1016,714 1016,717 1016.1,720 1016.1,723 1016.2,726 1016.2,729 1016.2,732 1016.3,735 1016.3,738 1016.4,741 1016.4,744 1016.5,747 1016.6,750 1016.6,753 1016.7,756 1016.8,759 1016.8,762 1016.9,765 1017,768 1017.1,771 1017.3,774 1017.4,777 1017.6,780 1017.8,783 1018,786 1018.3,789 1018.6,792 1018.9,795 1019.3,798 1019.8,801 1020.3,804 1020.9,807 1021.5,810 1022.4,813 1023.2,815 1023.9,813 1025,810 1025.9,807 1026.6,804 1027.4,801 1028,798 1028.7,795 1029.3,792 1029.8,789 1030.3,786 1030.7,783 1031.1,780 1031.4,777 1031.5,774 1031.7,771 1031.8,768 1032,765 1032.1,762 1032.2,759 1032.2,756 1032.3,753 1032.4,750 1032.5,747 1032.6,744 1032.7,741 1032.8,738 1032.8,735 1032.9,732 1033,729 1033,726 1033.1,723 1033.2,720 1033.2,717 1033.3,714 1033.3,711 1033.4,708 1033.4,705 1033.5,702 1033.5,699 1033.5,696 1033.5,693 1033.4,690 1033.4,687 1033.4,684 1033.3,681 1033.3,678 1033.3,675 1033.2,672 1033.2,669 1033.2,666 1033.2,663 1033.1,660 1033.1,657 1033.1,654 1033.1,651 1033,648 1033,645 1033,642 1032.9,639 1032.9,636 1032.9,633 1032.9,630 1032.8,627 1032.8,624 1032.8,621 1032.7,618 1032.5,615 1032.4,612 1032.3,609 1032.1,606 1032,603 1031.9,600 1031.8,597 1031.6,594 1031.5,591 1031.4,588 1031.3,585 1031.2,582 1031.1,579 1031,576 1030.9,573 1030.8,570 1030.7,567 1030.5,564 1030.4,561 1030.3,558 1030.3,555 1030.2,552 1030.1,549 1030.1,546 1030,543 1030,540 1029.9,537 1029.7,534 1029.6,531 1029.5,528 1029.3,525 1029.2,522 1029,519 1028.8,516 1028.7,513 1028.5,510 1028.2,507 1028,504 1027.8,501 1027.6,498 1027.3,495 1027.1,492 1026.9,489 1026.6,486 1026.3,483 1026,480 1025.7,477 1025.3,474 1024.9,471 1024.5,468 1024,465 1023.5,462 1023.2,460 1023.1,459 1022.9,456 1022.7,453 1022.6,450 1022.5,447 1022.4,444 1022.4,441 1022.3,438 1022.2,435 1022.2,432 1022.1,429 1022.1,426 1022,423 1021.9,420 1021.9,417 1021.8,414 1021.7,411 1021.7,408 1021.6,405 1021.5,402 1021.5,399 1021.4,396 1021.3,393 1021.3,390 1021.2,387 1021.2,384 1021.2,381 1021.1,378 1021.1,375 1021,372 1021,369 1020.9,366 1020.9,363 1020.8,360 1020.8,357 1020.8,354 1020.7,351 1020.7,348 1020.6,345 1020.6,342 1020.5,339 1020.5,336 1020.4,333 1020.4,330 1020.3,327 1020.2,324 1020.2,321 1020.1,318 1020,315 1019.9,312 1019.8,309 1019.7,306 1019.7,303 1019.6,300 1019.5,297 1019.5,294 1019.4,291 1019.3,288 1019.2,285 1019.1,282 1019,279 1018.9,276 1018.8,273 1018.7,270 1018.5,267 1018,264 1017.4,261 1017.3,258 1017.1,255 1016.9,252 1016.7,249 1016.4,246 1016.2,243 1016,240 1015.7,237 1015.5,234 1015.3,231 1015,228 1014.8,225 1014.6,222 1014.3,219 1014.1,216 1013.5,213 1013.2,210 1012.9,207 1012.6,204 1012.3,201 1012,198 1011.8,196.1ZM1204.4,171 1204.9,168 1205.3,171 1205.7,174 1206.1,177 1206.5,180 1206.8,183 1207.1,186 1207.4,189 1207.7,192 1208,195 1208.2,198 1208.4,201 1208.6,204 1208.9,207 1209,210 1209.2,213 1209.4,216 1209.6,219 1209.7,222 1209.9,225 1210,228 1210.2,231 1210.3,234 1210.4,237 1210.5,240 1210.4,243 1210.3,246 1210.2,249 1210.1,252 1210,255 1209.8,258 1209.7,261 1209.6,264 1209.4,267 1209.3,270 1209.1,273 1209,276 1208.8,279 1208.6,282 1208.4,285 1208.2,288 1208,291 1207.8,294 1207.6,297 1207.3,300 1207.1,303 1206.8,306 1206.5,309 1206.2,312 1205.9,315 1205.5,318 1205.1,321 1204.9,321.6 1204.6,321 1204.2,318 1203.9,315 1203.5,312 1203.2,309 1202.9,306 1202.7,303 1202.4,300 1202.2,297 1201.9,294 1201.7,291 1201.5,288 1201.3,285 1201.1,282 1200.9,279 1200.8,276 1200.6,273 1200.4,270 1200.3,267 1200.1,264 1200,261 1199.9,258 1199.7,255 1199.6,252 1199.5,249 1199.4,246 1199.3,243 1199.2,240 1199.3,237 1199.4,234 1199.6,231 1199.7,228 1199.8,225 1200,222 1200.2,219 1200.3,216 1200.5,213 1200.7,210 1200.9,207 1201.1,204 1201.3,201 1201.5,198 1201.8,195 1202,192 1202.3,189 1202.6,186 1202.9,183 1203.2,180 1203.6,177 1204,174 1204.4,171ZM1170.4,186 1170.8,185.3 1171.2,186 1171.7,189 1172.2,192 1172.7,195 1173.1,198 1173.5,201 1173.8,204 1174.1,207 1174.4,210 1174.7,213 1175,216 1175.2,219 1175.4,222 1175.6,225 1175.8,228 1176,231 1176.2,234 1176.4,237 1176.5,240 1176.7,243 1176.8,246 1176.9,249 1177,252 1176.9,255 1176.9,258 1176.9,261 1176.8,264 1176.8,267 1176.7,270 1176.7,273 1176.7,276 1176.6,279 1176.6,282 1176.5,285 1176.5,288 1176.5,291 1176.4,294 1176.4,297 1176.3,300 1176.3,303 1176.2,306 1176.2,309 1176.1,312 1176.1,315 1176,318 1176,321 1175.9,324 1175.9,327 1175.8,330 1175.5,333 1175.2,336 1174.9,339 1174.5,342 1174,345 1173.5,348 1173,351 1172.4,354 1171.6,357 1170.8,360 1170,357 1169.2,354 1168.6,351 1168,348 1167.5,345 1167.1,342 1166.7,339 1166.4,336 1166,333 1165.7,330 1165.7,327 1165.6,324 1165.6,321 1165.5,318 1165.5,315 1165.4,312 1165.4,309 1165.4,306 1165.3,303 1165.3,300 1165.2,297 1165.2,294 1165.1,291 1165.1,288 1165,285 1165,282 1165,279 1164.9,276 1164.9,273 1164.8,270 1164.8,267 1164.8,264 1164.7,261 1164.7,258 1164.7,255 1164.6,252 1164.6,249 1164.8,246 1164.9,243 1165.1,240 1165.2,237 1165.4,234 1165.6,231 1165.7,228 1165.9,225 1166.2,222 1166.4,219 1166.6,216 1166.9,213 1167.1,210 1167.4,207 1167.8,204 1168.1,201 1168.5,198 1168.9,195 1169.3,192 1169.8,189 1170.4,186ZM659.4,201 659.8,200.6 660.1,201 660.9,204 662,207 663.8,210 667.1,213 671.1,215.6 671.3,216 671.7,219 672.1,222 672.5,225 672.9,228 673.2,231 673.5,234 673.8,237 674,240 674.3,243 674.5,246 674.8,249 675,252 675.2,255 675.4,258 675.6,261 675.7,264 675.9,267 676,270 676.2,273 676.3,276 676.4,279 676.5,282 676.5,285 676.5,288 676.5,291 676.5,294 676.6,297 676.6,300 676.6,303 676.6,306 676.6,309 676.6,312 676.7,315 676.7,318 676.7,321 676.7,324 676.7,327 676.8,330 676.8,333 676.8,336 676.8,339 676.8,342 676.8,345 676.9,348 676.9,351 676.9,354 676.9,357 676.9,360 676.9,363 677,366 677,369 677,372 677,375 677,378 677,381 677.1,384 677.1,387 677.1,390 677.1,393 677.1,396 677.1,399 677.2,402 677.2,405 677.3,408 677.8,411 677.8,414 677.9,417 677.9,420 677.9,423 677.9,426 677.9,429 678.1,432 678.8,435 678.8,438 678.8,441 678.9,444 678.9,447 679,450 679,453 679.1,456 680,459 680,462 680,465 680.1,468 680.1,471 680.1,474 680.1,477 679.7,480 679.4,483 678.9,486 677,489 676.5,492 676.6,495 676.7,498 676.8,501 676.9,504 676.9,507 677,510 677.1,513 677.1,516 677.2,519 677.2,522 677.3,525 677.3,528 677.3,531 677.4,534 677.4,537 680.8,540 681,543 681.2,546 681.4,549 681.6,552 681.8,555 682,558 682.2,561 682.4,564 682.5,565 682.7,567 682.9,570 683,573 683.2,576 683.3,579 683.4,582 683.5,585 683.7,588 683.8,591 683.9,594 684,597 684.1,600 684.2,603 684.3,606 684.4,609 684.5,612 684.6,615 684.7,618 684.8,621 684.9,624 684.9,627 685,630 685.1,633 685.2,636 685.3,639 685.3,642 685.2,645 685.2,648 685.2,651 685.1,654 685.1,657 685,660 685,663 684.9,666 684.9,669 684.9,672 684.8,675 684.8,678 684.7,681 684.7,684 684.6,687 684.6,690 684.5,693 684.5,696 684.4,699 684.3,702 684.1,705 684,708 683.8,711 683.6,714 683.4,717 683.2,720 683,723 682.8,726 682.5,729 682.5,730 681.9,732 681,735 680,738 679,741 678,744 676.7,747 675.3,750 674,753 671.7,756 671.3,759 671.1,759.5 671,759 670.7,756 670.4,753 670.1,750 669.9,747 669.6,744 669.4,741 669.2,738 669,735 668.8,732 668.6,729 668.4,726 668.2,723 668,720 667.9,717 667.7,714 667.6,711 667.5,708 667.4,705 667.3,702 667.2,699 667.1,696 667,693 666.9,690 666.8,687 666.7,684 666.6,681 666.5,678 666.4,675 666.3,672 666.2,669 666.2,666 666.1,663 666,660 665.9,657 665.7,654 665.5,651 665.3,648 665.1,645 665,642 661.4,639 661.1,636 660.9,633 660.6,630 660.4,627 660.1,624 659.8,621 659.8,620 659.5,618 659.2,615 658.9,612 658.6,609 658.3,606 658,603 657.8,600 657.8,597 657.8,594 657.7,591 657.7,588 657.7,585 657.7,582 657.7,579 657.7,576 657.6,573 657.6,570 657.6,567 657.6,564 657.6,561 653.5,558 653.2,555 652.9,552 652.5,549 652.1,546 651.7,543 651.2,540 650.7,537 650.1,534 649.5,531 648.7,528 648.4,526.7 648.3,525 648.1,522 648,519 648,516 648,513 648,510 648,507 648.1,504 648.1,501 648.1,498 648.1,495 648.1,492 648.1,489 648.1,486 648.1,483 648.1,480 648.1,477 648.1,474 648.1,471 648.1,468 648.1,465 648.2,462 648.2,459 648.2,456 648.2,453 648.2,450 648.2,447 648.2,444 648.2,441 648.2,438 648.2,435 648.3,432 648.3,429 648.3,426 648.3,423 648.3,420 648.3,417 648.3,414 648.3,411 648.3,408 648.3,405 648.4,402 648.4,401.2 648.5,399 648.6,396 648.8,393 649,390 649.1,387 649.3,384 649.4,381 649.5,378 649.7,375 649.8,372 649.9,369 650,366 650.1,363 650.2,360 650.3,357 650.4,354 650.5,351 650.6,348 650.7,345 650.8,342 650.9,339 651,336 651,333 651.1,330 651.2,327 651.3,324 651.4,321 651.5,318 651.6,315 651.6,312 651.7,309 651.8,306 651.9,303 651.9,300 651.9,297 651.9,294 651.9,291 651.9,288 651.9,285 651.9,282 651.9,279 652,276 652.1,273 652.2,270 652.3,267 652.4,264 652.6,261 652.7,258 652.8,255 653,252 653.2,249 653.3,246 653.5,243 653.7,240 654,237 654.2,234 654.5,231 654.7,228 655.1,225 655.4,222 655.8,219 656.2,216 656.7,213 657.3,210 657.9,207 658.6,204 659.4,201ZM659.8,270.9 659.5,273 659.2,276 659,279 659,282 659,285 659,288 659,291 659,294 659,297 659,300 659,303 659,306 659,309 659,312 659,315 659,318 659,321 659,324 659,327 659,330 659,333 659,336 658.9,339 658.9,342 658.9,345 658.9,348 658.9,351 659,354 659.1,357 659.2,360 659.4,363 659.5,366 659.6,369 659.7,372 659.8,372.9 660,375 660.4,378 660.7,381 661,384 661.3,387 661.6,390 661.8,393 662,396 662.2,399 662.4,402 662.5,405 662.7,408 662.8,411 663,414 663.1,417 663.2,420 663.3,423 663.4,426 663.5,429 663.5,432 663.4,435 663.3,438 663.2,441 663.1,444 663,447 662.9,450 662.9,453 662.8,456 662.7,459 662.7,462 662.6,465 662.6,468 662.5,471 662.5,474 662.4,477 662.4,480 662.4,483 662.2,486 662.2,489 662.1,492 662,495 662,498 661.9,501 661.9,504 661.8,507 661.8,510 661.7,513 661.7,516 661.7,519 661.6,522 661.6,525 661.6,528 661.6,531 661.6,534 661.6,537 661.6,540 661.6,543 661.6,546 661.6,549 661.6,552 661.6,555 661.6,558 661.6,561 661.6,564 661.7,567 661.7,570 661.7,573 661.7,576 661.7,579 661.8,582 661.8,585 661.8,588 661.8,591 661.8,594 661.9,597 661.9,600 662.1,603 662.4,606 662.6,609 662.8,612 663,615 663.2,618 663.4,621 663.7,624 663.9,627 664.2,630 664.4,633 664.6,636 664.9,639 667.2,642 667.3,645 667.6,648 667.8,651 668.1,654 668.4,657 668.6,660 668.7,663 668.8,666 668.9,669 669.1,672 669.2,675 669.3,678 669.4,681 669.6,684 669.7,687 669.8,690 670,693 670.1,696 670.3,699 670.4,702 670.6,705 670.7,708 670.9,711 671.1,714 671.1,714.8 671.4,714 672.1,711 672.9,708 673.6,705 674.4,702 675.1,699 675.7,696 676.2,693 676.6,690 677.1,687 677.5,684 677.8,681 678.2,678 678.5,675 678.8,672 679.1,669 679.3,666 679.5,663 679.8,660 680,657 680.4,654 680.7,651 680.9,648 681.1,645 681.3,642 681.3,639 681.2,636 681.1,633 681,630 680.9,627 680.8,624 680.7,621 680.6,618 680.5,615 680.4,612 680.3,609 680.2,606 680.1,603 680,600 679.9,597 679.8,594 679.7,591 679.6,588 679.6,585 679.5,582 679.4,579 679.3,576 679.2,573 679.2,570 679,567 678.9,564 678.7,561 678.6,558 678.4,555 678.2,552 678.1,549 677.9,546 677.8,543 677.6,540 675.3,537 675.2,534 675.2,531 675.2,528 675.1,525 675.1,522 675,519 674.9,516 674.8,513 674.7,510 674.6,507 674.5,504 674.4,501 674.3,498 674.2,495 674.1,492 674.2,489 675.1,486 675.2,483 675.4,480 675.5,477 675.4,474 675.3,471 675.2,468 675.2,465 675.1,462 675,459 674.5,456 674.4,453 674.3,450 674.2,447 674.1,444 674,441 673.9,438 673.8,435 673.5,432 673.4,429 673.3,426 673.3,423 673.3,420 673.3,417 673.2,414 673.2,411 673,408 672.9,405 672.9,402 672.9,399 672.9,396 672.8,393 672.8,390 672.8,387 672.7,384 672.7,381 672.7,378 672.7,375 672.6,372 672.6,369 672.6,366 672.5,363 672.5,360 672.5,357 672.4,354 672.4,351 672.4,348 672.4,345 672.3,342 672.3,339 672.3,336 672.2,333 672.2,330 672.2,327 672.1,324 672.1,321 672.1,318 672,315 672,312 672,309 671.9,306 671.9,303 671.9,300 671.8,297 671.8,294 671.7,291 671.7,288 671.7,285 671.6,282 671.6,279 671.4,276 671.2,273 671.1,272.3 659.8,270.9ZM807.1,276 807.4,275.7 807.7,276 810.1,279 810.9,282 811.2,285 811.5,288 811.7,291 812,294 812.2,297 812.4,300 812.1,303 811.6,306 811.2,309 810.6,312 810,315 809.3,318 807.4,319.7 805.5,318 804.8,315 804.1,312 803.6,309 803.1,306 802.7,303 802.3,300 802.6,297 802.8,294 803,291 803.3,288 803.6,285 803.9,282 804.7,279 807.1,276ZM442.1,477 444,474 445.9,477 447.2,480 447.4,483 447.6,486 447.7,489 447.9,492 448,495 448.1,498 448.3,501 448.4,504 448.5,507 448.7,510 448.8,513 448.9,516 449,519 449.1,522 449.2,525 449.3,528 449.4,531 449.5,534 449.6,537 449.7,540 449.7,543 449.8,546 449.9,549 450,552 450.1,555 450.1,558 450.2,561 450.2,564 450.2,567 450.2,570 450.2,573 450.2,576 450.2,579 450.2,582 450.2,585 450.2,588 450.2,591 450.2,594 450.2,597 450.2,600 450.2,603 450.2,606 450.2,609 450.2,612 450.2,615 450.2,618 450.2,621 450.2,624 450.2,627 450.2,630 450.2,633 450.2,636 450.2,639 450.2,642 450.2,645 450.2,648 450.2,651 450.2,654 450.2,657 450.2,660 450.2,663 450.2,666 450.2,669 450.2,672 450.2,675 450.2,678 450.2,681 450.2,684 450.2,687 450.2,690 450.2,693 450.2,696 450.2,699 450.1,702 450.1,705 450.1,708 450,711 450,714 449.9,717 449.9,720 449.8,723 449.8,726 449.7,729 449.7,732 449.6,735 449.6,738 449.5,741 449.5,744 449.4,747 449.4,750 449.3,753 449.2,756 449.2,759 449.1,762 449,765 444,766.3 438.9,765 438.8,762 438.6,759 437.8,756 436.9,753 435.7,750 434.1,747 432.6,744.5 431.9,744 426.8,741 421.3,739 419.6,738 409.9,735 409.9,735 409.3,732 408.7,729 408.2,726 407.7,723 406.8,720 405.9,717 404.9,714 403.7,711 402.2,708 400.5,705 398.6,702.2 398.4,702 397.5,699 397.5,696 397.5,693 397.5,690 397.5,687 397.5,684 397.5,681 397.5,678 397.5,675 397.5,672 397.5,669 397.5,666 397.5,663 397.5,660 397.5,657 397.5,654 397.5,651 398,648 398.6,645.5 398.7,645 399.9,642 400.8,639 401.6,636 402.3,633 402.8,630 403.4,627 403.8,624 404.2,621 404.6,618 404.9,615 405.2,612 405.5,609 405.7,606 405.9,603 406.1,600 406.8,597 407.7,594 408.7,591 409.9,588.3 410.2,588 412.2,585 413.7,582 414.8,579 415.6,576 416.3,573 416.9,570 419.2,567 421.3,565 422.3,564 424.8,561 426.6,558 427.9,555 428.2,552 428.6,549 429.1,546 429.5,543 430.1,540 430.7,537 431.5,534 432.3,531 432.6,530.1 433.4,528 434.5,525 435.4,522 436.2,519 436.9,516 437.6,513 438.2,510 438.7,507 439.2,504 439.6,501 439.8,498 440,495 440.1,492 440.2,489 440.4,486 440.6,483 440.7,480 442.1,477ZM533.6,519 534.8,517.5 536,519 537,522 537.5,525 537.8,528 538.2,531 538.5,534 538.8,537 539.1,540 539.6,543 540.1,546 540.7,549 541.3,552 541.9,555 542.5,558 543.1,561 543.7,564 544.4,567 545.2,570 546.1,573 546.2,573.3 546.5,576 546.9,579 547,582 547.1,585 547.1,588 547.1,591 547.1,594 547.1,597 547.2,600 547.2,603 547.4,606 547.4,609 547.5,612 547.5,615 547.5,618 547.5,621 547.6,624 547.6,627 547.6,630 547.6,633 547.6,636 547.7,639 547.7,642 547.7,645 547.7,648 548,651 548.2,654 548.2,657 548.3,660 548.3,663 548.3,666 548.3,669 548.4,672 548.4,675 548.4,678 548.4,681 548.5,684 548.5,687 548.5,690 548.5,693 548.7,696 549.4,699 549.4,702 549.2,705 549.1,708 549,711 548.9,714 548.7,717 548.6,720 548.4,723 548.3,726 548.1,729 548,732 547.8,735 547.6,738 547.5,741 547.3,744 547.1,747 546.9,750 546.7,753 546.5,756 546.3,759 546.2,759.3 545.4,762 544.4,765 543.5,768 542.8,771 542.1,774 541.5,777 541,780 540.4,783 539.9,786 539.4,789 539.1,792 538.8,795 538.6,798 538.3,801 538,804 537.7,807 537.3,810 536.9,813 536.5,816 536.1,819 535.6,822 535,825 534.8,825.3 534.6,825 534.1,822 533.6,819 533.1,816 532.7,813 532.4,810 532,807 531.7,804 531.4,801 531.1,798 530.9,795 530.6,792 530.4,789 530.2,786 530,783 529.8,780 529.7,777 529.7,774 529.6,771 529.6,768 529.5,765 529.5,762 529.4,759 529.4,756 529.3,753 529.3,750 529.3,747 529.2,744 529.2,741 529.1,738 529.1,735 529,732 529,729 529,726 528.9,723 528.9,720 528.8,717 528.8,714 528.8,711 528.7,708 528.7,705 528.7,702 528.6,699 528.7,696 528.7,693 528.7,690 528.7,687 528.7,684 528.7,681 528.7,678 528.7,675 528.7,672 528.7,669 528.8,666 528.8,663 528.8,660 528.8,657 528.8,654 528.8,651 528.8,648 528.8,645 528.8,642 528.9,639 528.9,636 528.9,633 528.9,630 528.9,627 528.9,624 528.9,621 528.9,618 528.9,615 529,612 529,609 529,606 529,603 529,600 529,597 529,594 529,591 529,588 529.1,585 529.1,582 529.1,579 529.1,576 529.1,573 529.1,570 529.1,567 529.1,564 529.1,561 529.3,558 529.5,555 529.6,552 529.9,549 530.1,546 530.3,543 530.6,540 530.8,537 531.1,534 531.5,531 531.8,528 532.2,525 532.6,522 533.6,519ZM988.7,654 989.1,651.4 989.9,654 990.8,657 991.5,660 991.5,663 991.6,666 991.6,669 991.7,672 991.8,675 991.8,678 991.9,681 991.9,684 992,687 993,690 993,693 993.1,696 993.1,699 993.2,702 993.3,705 993.3,708 993.4,711 993.4,714 993.5,717 993.5,720 993.6,723 993.6,726 993.7,729 993.7,732 993.8,735 993.8,738 993.9,741 993.9,744 993.9,747 994,750 994,753 994.1,756 994.1,759 994.1,762 994.1,765 994.1,768 994,771 994,774 994,777 993.9,780 993.9,783 993.9,786 993.8,789 993.8,792 993.8,795 993.7,798 993.7,801 993.7,804 993.6,807 993.6,810 993.6,813 993.5,816 993.5,819 993.4,822 993.4,825 993.4,828 993.3,831 993.3,834 993.3,837 993.3,840 993.2,843 993.2,846 993.2,849 993.1,852 993.1,855 993.1,858 993,861 993,864 993,867 993,870 992.9,873 992.9,876 992.9,879 992.8,882 992.8,885 992.8,888 992.7,891 992.7,894 992.7,897 992.6,900 992.6,903 992.6,906 992.5,909 992.5,912 992.5,915 992.4,918 992.4,921 992.3,924 989.1,924.9 985.8,924 985.8,921 985.8,918 985.7,915 985.7,912 985.7,909 985.6,906 985.6,903 985.6,900 985.5,897 977.7,894.9 974.5,894 974.5,891 974.5,888 974.5,885 974.5,882 974.5,879 974.5,876 974.5,873 974.5,870 974.5,867 974.5,864 974.5,861 974.5,858 974.5,855 974.5,852 974.9,849 976.5,846 977.7,844.3 979.3,843 981.6,840 983,837 984,834 984.6,831 987.2,828 987.2,825 987.1,822 987.1,819 987.1,816 987.1,813 987,810 987,807 987,804 987,801 987,798 986.9,795 986.9,792 986.9,789 986.9,786 986.9,783 986.8,780 986.8,777 986.8,774 986.8,771 986.8,768 986.7,765 986.7,762 986.7,759 986.7,756 986.8,753 986.8,750 986.8,747 986.9,744 986.9,741 986.9,738 986.9,735 987,732 987,729 987,726 987.1,723 987.1,720 987.1,717 987.2,714 987.2,711 987.2,708 987.2,705 987.3,702 987.3,699 987.3,696 987.4,693 987.4,690 987.4,687 987.5,684 987.5,681 987.5,678 987.6,675 987.6,672 987.6,669 987.7,666 987.7,663 987.8,660 988.2,657 988.7,654ZM1075.9,714 1079.9,711.7 1081.8,714 1082.5,717 1083.6,720 1085,723 1087.2,726 1090.8,729 1091.3,729.3 1093.1,732 1094.5,735 1094.6,738 1094.7,741 1094.8,744 1094.9,747 1095,750 1095.1,753 1095.1,756 1095.2,759 1095.3,762 1095.4,765 1095.4,768 1095.5,771 1095.6,774 1095.6,777 1095.7,780 1095.9,783 1096.1,786 1096.3,789 1096.5,792 1096.7,795 1096.9,798 1097.1,801 1097.4,804 1097.6,807 1097.9,810 1098.2,813 1098.4,816 1098.7,819 1099,822 1099.3,825 1099.7,828 1100,831 1100.4,834 1100.8,837 1101.2,840 1101.6,843 1102,846 1102.5,849 1102.6,852 1102.4,855 1102.2,858 1102.1,861 1101.9,864 1101.7,867 1101.6,870 1101.4,873 1101.2,876 1101,879 1100.8,882 1100.6,885 1100.4,888 1100.2,891 1100,894 1095.6,897 1095.5,900 1095.4,903 1095.2,906 1095.1,909 1091.3,910 1087.5,909 1087.3,906 1087.2,903 1087.1,900 1087,897 1086.9,894 1086.8,891 1086.7,888 1086.6,885 1086.5,882 1079.9,881.1 1071.8,879 1071.9,876 1071.9,873 1071.9,870 1071.9,867 1071.9,864 1071.9,861 1072,858 1072,855 1072,852 1072,849 1072,846 1072,843 1072.1,840 1072.1,837 1072.1,834 1072.1,831 1068.6,830.1 1060.5,828 1060.6,825 1060.7,822 1060.7,819 1060.8,816 1060.9,813 1061,810 1061.1,807 1061.2,804 1061.3,801 1061.3,798 1061.4,795 1061.5,792 1062,789 1062.4,786 1062.8,783 1063.1,780 1063.5,777 1063.8,774 1064.2,771 1064.5,768 1064.8,765 1065.1,762 1065.3,759 1065.6,756 1065.9,753 1066.1,750 1066.3,747 1066.6,744 1066.8,741 1067,738 1067.2,735 1067.4,732 1067.6,729 1067.8,726 1068,723 1068.4,720 1068.6,719.2 1072.9,717 1075.9,714ZM1068.6,808.6 1068.5,810 1068.2,813 1068,816 1067.7,819 1067.5,822 1067.3,825 1067.1,828 1068.6,828.4 1079.2,831 1079.2,834 1079.1,837 1079,840 1079,843 1078.9,846 1078.9,849 1078.8,852 1078.8,855 1078.7,858 1078.6,861 1078.6,864 1078.5,867 1078.5,870 1078.4,873 1078.4,876 1078.3,879 1079.9,879.4 1083.2,879 1083.1,876 1083.1,873 1083.1,870 1083,867 1083,864 1082.9,861 1082.9,858 1082.8,855 1082.7,852 1082.6,849 1082.5,846 1082.3,843 1082.2,840 1082,837 1081.9,834 1081.7,831 1081.4,828 1080.9,825 1080.3,822 1079.9,820 1079.1,819 1076.4,816 1073.4,813 1070.2,810 1068.6,808.6ZM1213.6,876 1216.2,873.7 1218.1,876 1218.1,879 1218.1,882 1218.1,885 1218.1,888 1218.1,891 1218.1,894 1218.1,897 1218.1,900 1218.1,903 1218.1,906 1218.1,909 1218.1,912 1218.1,915 1218.8,918 1218.8,921 1216.9,924 1216.2,924.5 1215.5,924 1213.6,921 1213.6,918 1213.6,915 1213.6,912 1213.6,909 1213.6,906 1213.6,903 1213.6,900 1213.6,897 1213.6,894 1213.6,891 1213.6,888 1213.6,885 1213.6,882 1213.6,879 1213.6,876Z"/>
<path fill="#b4e60a" stroke="#b4e60a" stroke-width="0.4" fill-rule="evenodd" d="M742.3,150 749.8,150 749.9,153 750,156 750,159 750.1,162 750.1,165 750.2,168 750.2,171 750.3,174 750.3,177 750.4,180 750.4,183 750.5,186 750.5,189 750.6,192 750.6,195 750.6,192 750.7,189 750.7,186 750.7,183 750.8,180 750.8,177 750.8,174 750.8,171 750.9,168 750.9,165 750.9,162 751,159 751,156 751,153 751,150 755.4,150 755.4,153 755.4,156 755.4,159 755.3,162 755.3,165 755.3,168 755.3,171 755.3,174 755.3,177 755.2,180 755.2,183 755.2,186 755.2,189 755.2,192 755.1,195 755.1,198 755,201 755,204 754.9,207 754.8,210 754.8,213 754.7,216 754.6,219 754.6,222 754.5,225 754.4,228 754.3,231 754.3,234 754.2,237 754.1,240 754,243 753.9,246 753.8,249 753.8,252 753.7,255 753.6,258 753.5,261 753.4,264 753.3,267 753.2,270 753.1,273 753,276 752.9,279 752.8,282 752.7,285 752.6,288 752.4,291 752.3,294 752.2,297 752.1,300 751.9,303 751.8,306 751.7,309 751.5,312 751.4,315 751.2,318 751.1,321 750.9,324 750.8,327 750.6,330 750.4,327 750.3,324 750.1,321 750,318 749.8,315 749.7,312 749.5,309 749.4,306 749.3,303 749.1,300 749,297 748.8,294 748.6,291 748.4,288 748.2,285 748,282 747.8,279 747.6,276 747.3,273 747.1,270 747,267 746.8,264 746.6,261 746.5,258 746.3,255 746.2,252 746,249 745.9,246 745.8,243 745.6,240 745.5,237 745.3,234 745.2,231 745.1,228 744.9,225 744.8,222 744.6,219 744.5,216 744.4,213 744.3,210 744.1,207 744,204 743.9,201 743.7,198 743.6,195 743.5,192 743.4,189 743.4,186 743.3,183 743.2,180 743.1,177 743,174 742.9,171 742.8,168 742.7,165 742.7,162 742.6,159 742.5,156 742.4,153 742.3,150ZM1090.7,150 1091.3,150 1102.7,150 1114,150 1115,150 1114.8,153 1114.6,156 1114.3,159 1114.1,162 1114,162.9 1113.8,165 1113.4,168 1113.1,171 1112.7,174 1112.4,177 1112,180 1111.7,183 1111.4,186 1111.1,189 1110.8,192 1110.5,195 1110.1,198 1109.8,201 1109.6,204 1109.3,207 1109,210 1108.7,213 1108.4,216 1108.1,219 1107.9,222 1107.6,225 1107.3,228 1107.1,231 1106.8,234 1106.6,237 1106.3,240 1106.1,243 1105.9,246 1105.6,249 1105.4,252 1105.1,255 1104.9,258 1104.7,261 1104.4,264 1104.1,267 1103.9,270 1103.7,273 1103.5,276 1103.3,279 1103.1,282 1102.9,285 1102.8,288 1102.7,289.6 1102.6,288 1102.4,285 1102.2,282 1102,279 1101.8,276 1101.6,273 1101.4,270 1101.2,267 1100.9,264 1100.6,261 1100.4,258 1100.2,255 1099.9,252 1099.7,249 1099.5,246 1099.2,243 1099,240 1098.7,237 1098.5,234 1098.2,231 1098,228 1097.7,225 1097.4,222 1097.2,219 1096.9,216 1096.6,213 1096.3,210 1096,207 1095.8,204 1095.5,201 1095.2,198 1094.9,195 1094.5,192 1094.2,189 1093.9,186 1093.6,183 1093.3,180 1092.9,177 1092.6,174 1092.2,171 1091.9,168 1091.5,165 1091.3,162.9 1091.3,162 1091.1,159 1091,156 1090.9,153 1090.7,150ZM1011.4,198 1011.8,196.1 1012,198 1012.3,201 1012.6,204 1012.9,207 1013.2,210 1013.5,213 1014.1,216 1014.3,219 1014.6,222 1014.8,225 1015,228 1015.3,231 1015.5,234 1015.7,237 1016,240 1016.2,243 1016.4,246 1016.7,249 1016.9,252 1017.1,255 1017.3,258 1017.4,261 1018,264 1018.5,267 1018.7,270 1018.8,273 1018.9,276 1019,279 1019.1,282 1019.2,285 1019.3,288 1019.4,291 1019.5,294 1019.5,297 1019.6,300 1019.7,303 1019.7,306 1019.8,309 1019.9,312 1020,315 1020.1,318 1020.2,321 1020.2,324 1020.3,327 1020.4,330 1020.4,333 1020.5,336 1020.5,339 1020.6,342 1020.6,345 1020.7,348 1020.7,351 1020.8,354 1020.8,357 1020.8,360 1020.9,363 1020.9,366 1021,369 1021,372 1021.1,375 1021.1,378 1021.2,381 1021.2,384 1021.2,387 1021.3,390 1021.3,393 1021.4,396 1021.5,399 1021.5,402 1021.6,405 1021.7,408 1021.7,411 1021.8,414 1021.9,417 1021.9,420 1022,423 1022.1,426 1022.1,429 1022.2,432 1022.2,435 1022.3,438 1022.4,441 1022.4,444 1022.5,447 1022.6,450 1022.7,453 1022.9,456 1023.1,459 1023.2,460 1023.5,462 1024,465 1024.5,468 1024.9,471 1025.3,474 1025.7,477 1026,480 1026.3,483 1026.6,486 1026.9,489 1027.1,492 1027.3,495 1027.6,498 1027.8,501 1028,504 1028.2,507 1028.5,510 1028.7,513 1028.8,516 1029,519 1029.2,522 1029.3,525 1029.5,528 1029.6,531 1029.7,534 1029.9,537 1030,540 1030,543 1030.1,546 1030.1,549 1030.2,552 1030.3,555 1030.3,558 1030.4,561 1030.5,564 1030.7,567 1030.8,570 1030.9,573 1031,576 1031.1,579 1031.2,582 1031.3,585 1031.4,588 1031.5,591 1031.6,594 1031.8,597 1031.9,600 1032,603 1032.1,606 1032.3,609 1032.4,612 1032.5,615 1032.7,618 1032.8,621 1032.8,624 1032.8,627 1032.9,630 1032.9,633 1032.9,636 1032.9,639 1033,642 1033,645 1033,648 1033.1,651 1033.1,654 1033.1,657 1033.1,660 1033.2,663 1033.2,666 1033.2,669 1033.2,672 1033.3,675 1033.3,678 1033.3,681 1033.4,684 1033.4,687 1033.4,690 1033.5,693 1033.5,696 1033.5,699 1033.5,702 1033.4,705 1033.4,708 1033.3,711 1033.3,714 1033.2,717 1033.2,720 1033.1,723 1033,726 1033,729 1032.9,732 1032.8,735 1032.8,738 1032.7,741 1032.6,744 1032.5,747 1032.4,750 1032.3,753 1032.2,756 1032.2,759 1032.1,762 1032,765 1031.8,768 1031.7,771 1031.5,774 1031.4,777 1031.1,780 1030.7,783 1030.3,786 1029.8,789 1029.3,792 1028.7,795 1028,798 1027.4,801 1026.6,804 1025.9,807 1025,810 1023.9,813 1023.2,815 1022.4,813 1021.5,810 1020.9,807 1020.3,804 1019.8,801 1019.3,798 1018.9,795 1018.6,792 1018.3,789 1018,786 1017.8,783 1017.6,780 1017.4,777 1017.3,774 1017.1,771 1017,768 1016.9,765 1016.8,762 1016.8,759 1016.7,756 1016.6,753 1016.6,750 1016.5,747 1016.4,744 1016.4,741 1016.3,738 1016.3,735 1016.2,732 1016.2,729 1016.2,726 1016.1,723 1016.1,720 1016,717 1016,714 1016,711 1016,708 1015.9,705 1015.9,702 1015.9,699 1015.9,696 1015.9,693 1015.9,690 1015.9,687 1015.9,684 1015.9,681 1015.9,678 1015.9,675 1015.9,672 1015.9,669 1015.9,666 1015.9,663 1015.9,660 1015.8,657 1015.8,654 1015.8,651 1015.8,648 1015.8,645 1015.8,642 1015.8,639 1015.7,636 1015.6,633 1015.5,630 1015.4,627 1015.3,624 1015.1,621 1015,618 1014.9,615 1014.8,612 1014.6,609 1014.5,606 1014.4,603 1014.2,600 1014,597 1013.8,594 1013.6,591 1013.4,588 1013.2,585 1012.9,582 1012.7,579 1012.4,576 1012.1,573 1011.8,570 1011.8,570 1011.4,567 1011,564 1010.7,561 1010.2,558 1009.8,555 1009.4,552 1009,549 1008.6,546 1008.3,543 1007.3,540 1006.8,537 1006.4,534 1006,531 1005.6,528 1005.2,525 1004.8,522 1004.4,519 1004,516 1003.6,513 1003.3,510 1002.9,507 1002.6,504 1002.3,501 1002.1,498 1001.9,495 1001.7,492 1001.5,489 1001.3,486 1001.2,483 1001,480 1000.9,477 1000.7,474 1000.6,471 1000.5,468 1000.4,466.7 1000.3,465 1000.1,462 999.9,459 999.8,456 999.6,453 999.4,450 999.4,447 999.3,444 999.3,441 999.2,438 999.2,435 999.1,432 999.1,429 999.1,426 999,423 999,420 998.9,417 998.6,414 998.3,411 997.9,408 997.9,405 997.8,402 997.8,399 997.7,396 997.7,393 997.6,390 997.7,387 997.8,384 997.9,381 998,378 998.1,375 998.2,372 998.2,369 998.3,366 998.4,363 998.6,360 998.7,357 998.8,354 998.9,351 999,348 999.1,345 999.2,342 999.4,339 999.5,336 999.6,333 999.7,330 1000,327 1000.2,324 1000.4,321.8 1000.5,321 1000.6,318 1000.7,315 1000.8,312 1000.9,309 1001.1,306 1001.2,303 1001.3,300 1001.4,297 1001.6,294 1001.7,291 1001.8,288 1002,285 1002.2,282 1002.3,279 1002.5,276 1002.7,273 1002.9,270 1003.1,267 1003.3,264 1003.5,261 1003.8,258 1004.1,255 1004.4,252 1004.7,249 1005,246 1005.3,243 1005.7,240 1006.1,237 1006.5,234 1006.8,231 1007.1,228 1007.5,225 1007.9,222 1008.2,219 1008.6,216 1009.1,213 1009.5,210 1010,207 1010.4,204 1010.9,201 1011.4,198ZM1011.8,235.7 1011.6,237 1011,240 1010.4,243 1009.9,246 1009.4,249 1009,252 1008.5,255 1008.1,258 1007.8,261 1007.4,264 1007.1,267 1006.8,270 1006.5,273 1006.2,276 1006,279 1005.7,282 1005.5,285 1005.2,288 1005,291 1004.9,294 1004.7,297 1004.5,300 1004.4,303 1004.2,306 1004.1,309 1003.9,312 1003.8,315 1003.6,318 1003.5,321 1003.3,324 1003.2,327 1003.1,330 1003,333 1002.9,336 1002.9,339 1002.8,342 1002.7,345 1002.7,348 1002.6,351 1002.6,354 1002.5,357 1002.4,360 1002.4,363 1002.3,366 1002.2,369 1002.2,372 1002.1,375 1002.1,378 1002,381 1002,384 1001.9,387 1001.8,390 1001.9,393 1001.9,396 1001.9,399 1001.9,402 1002,405 1002,408 1002,411 1002,414 1002.1,417 1002.1,420 1002.1,423 1002.1,426 1002.2,429 1002.2,432 1002.2,435 1002.3,438 1002.3,441 1002.4,444 1002.4,447 1002.4,450 1002.6,453 1002.7,456 1002.8,459 1002.9,462 1003,465 1003.1,468 1003.3,471 1003.5,474 1003.7,477 1003.9,480 1004.1,483 1004.4,486 1004.6,489 1004.9,492 1005.2,495 1005.5,498 1005.8,501 1006.2,504 1006.6,507 1007.1,510 1007.5,513 1008,516 1008.5,519 1009,522 1009.4,525 1009.9,528 1010.3,531 1010.8,534 1011.3,537 1011.8,540 1011.8,540 1012.7,543 1013.4,546 1014,549 1014.5,552 1014.9,555 1015.2,558 1015.5,561 1015.7,564 1015.8,567 1015.9,570 1016.1,573 1016.3,576 1016.5,579 1016.6,582 1016.8,585 1016.9,588 1017.1,591 1017.2,594 1017.4,597 1017.5,600 1017.6,603 1017.7,606 1017.7,609 1017.8,612 1017.9,615 1018,618 1018.1,621 1018.1,624 1018.2,627 1018.3,630 1018.3,633 1018.4,636 1018.5,639 1018.5,642 1018.5,645 1018.5,648 1018.5,651 1018.5,654 1018.5,657 1018.6,660 1018.6,663 1018.6,666 1018.6,669 1018.6,672 1018.6,675 1018.6,678 1018.6,681 1018.6,684 1018.6,687 1018.7,690 1018.7,693 1018.7,696 1018.7,699 1018.7,702 1018.7,705 1018.7,708 1018.7,711 1018.8,714 1018.9,717 1018.9,720 1019,723 1019.1,726 1019.1,729 1019.2,732 1019.3,735 1019.3,738 1019.4,741 1019.5,744 1019.6,747 1019.7,750 1019.8,753 1020,756 1020.1,759 1020.2,762 1020.3,765 1020.4,768 1020.6,771 1020.9,774 1021.2,777 1021.5,780 1021.8,783 1022.2,786 1022.6,789 1023.1,792 1023.2,792.4 1023.2,792 1023.9,789 1024.5,786 1025,783 1025.5,780 1026,777 1026.4,774 1026.7,771 1027,768 1027.2,765 1027.3,762 1027.5,759 1027.7,756 1027.8,753 1028,750 1028.1,747 1028.3,744 1028.4,741 1028.5,738 1028.6,735 1028.7,732 1028.8,729 1028.9,726 1029,723 1029.1,720 1029.2,717 1029.3,714 1029.4,711 1029.5,708 1029.5,705 1029.5,702 1029.6,699 1029.6,696 1029.5,693 1029.5,690 1029.5,687 1029.5,684 1029.5,681 1029.5,678 1029.5,675 1029.5,672 1029.5,669 1029.5,666 1029.5,663 1029.4,660 1029.4,657 1029.4,654 1029.4,651 1029.4,648 1029.4,645 1029.4,642 1029.4,639 1029.4,636 1029.4,633 1029.3,630 1029.3,627 1029.3,624 1029.3,621 1029.2,618 1029.1,615 1029,612 1028.9,609 1028.9,606 1028.8,603 1028.7,600 1028.6,597 1028.6,594 1028.5,591 1028.4,588 1028.3,585 1028.3,582 1028.2,579 1028.1,576 1028.1,573 1028,570 1027.9,567 1027.7,564 1027.6,561 1027.5,558 1027.4,555 1027.3,552 1027.2,549 1027.1,546 1027,543 1026.9,540 1026.7,537 1026.5,534 1026.3,531 1026.1,528 1025.9,525 1025.6,522 1025.3,519 1025.1,516 1024.7,513 1024.4,510 1024.1,507 1023.7,504 1023.3,501 1023.2,499.8 1022.9,498 1022.5,495 1022.2,492 1021.9,489 1021.7,486 1021.6,483 1021.4,480 1021.3,477 1021.2,474 1021.1,471 1020.9,468 1020.8,465 1020.6,462 1020.5,459 1020.4,456 1020.3,453 1020.2,450 1020.1,447 1020.1,444 1020.1,441 1020,438 1020,435 1020,432 1019.9,429 1019.9,426 1019.8,423 1019.8,420 1019.7,417 1019.7,414 1019.6,411 1019.5,408 1019.5,405 1019.4,402 1019.4,399 1019.3,396 1019.3,393 1019.2,390 1019.2,387 1019.1,384 1019.1,381 1019,378 1019,375 1018.9,372 1018.9,369 1018.8,366 1018.8,363 1018.7,360 1018.7,357 1018.6,354 1018.6,351 1018.5,348 1018.5,345 1018.4,342 1018.4,339 1018.3,336 1018.3,333 1018.2,330 1018.1,327 1018,324 1017.9,321 1017.8,318 1017.7,315 1017.6,312 1017.5,309 1017.4,306 1017.3,303 1017.2,300 1017.1,297 1017,294 1016.9,291 1016.7,288 1016.6,285 1016.4,282 1016.2,279 1016.1,276 1015.9,273 1015.7,270 1015.4,267 1015,264 1014.6,261 1014.3,258 1014,255 1013.7,252 1013.4,249 1013.1,246 1012.7,243 1012.4,240 1011.9,237 1011.8,235.7ZM476.7,273 478,270.8 478.2,273 478.5,276 478.7,279 478.9,282 479.2,285 479.4,288 479.7,291 479.9,294 480.2,297 480.4,300 480.7,303 481,306 481.4,309 481.7,312 482,315 482.3,318 482.6,321 483,324 483.3,327 483.6,330 483.9,333 484.2,336 484.4,339 485.7,342 485.8,345 486,348 486.1,351 486.2,354 486.3,357 487.2,360 487.3,363 487.5,366 487.6,369 487.7,372 487.8,375 488,378 488.1,381 488.2,384 488.3,387 488.4,390 488.5,393 488.7,396 488.8,399 488.9,402 489.1,405 489.2,408 489.3,411 489.4,413.5 489.5,414 489.8,417 490.1,420 490.4,423 490.7,426 491,429 491.3,432 491.6,435 491.9,438 492.2,441 492.6,444 493,447 493.4,450 494,453 494.3,456 494.5,459 494.7,462 494.9,465 495,468 495.2,471 495.5,474 495.7,477 495.9,480 496.2,483 496.4,486 496.6,489 496.8,492 497,495 497.2,498 497.4,501 497.6,504 497.7,507 497.9,510 498.1,513 498.3,516 498.4,519 498.6,522 498.8,525 499,528 499.1,531 499.3,534 499.5,537 499.6,540 499.8,543 500,546 500.1,549 500.3,552 500.5,555 500.6,558 500.8,560.7 500.8,561 501.1,564 501.3,567 501.6,570 501.8,573 502,576 502.2,579 502.4,582 502.7,585 502.9,588 503,591 503.2,594 503.4,597 503.6,600 503.7,603 503.9,606 504,609 504.1,612 504.2,615 504.3,618 504.3,621 503.9,624 503.6,627 503.2,630 502.9,633 502.5,636 502,639 501.6,642 501.1,645 500.8,646.7 500.7,648 500.6,651 500.5,654 500.3,657 500.2,660 500.1,663 499.9,666 499.7,669 499.6,672 499.4,675 499.2,678 498.9,681 498.7,684 498.4,687 498.1,690 497.8,693 497.5,696 497.1,699 496.7,702 496.2,705 495.6,708 495,711 494.1,714 493.1,717 491.8,720 490.1,723 489.4,724.2 489,726 488.4,729 487.8,732 487,735 486.2,738 485.3,741 484,744 482.6,747 480.9,750 478.8,753 478,753.9 477.5,753 476.1,750 475,747 474,744 473.2,741 472.6,738 472,735 471.5,732 471.1,729 470.6,726 470.2,723 469.8,720 469.4,717 469.1,714 468.7,711 468.5,708 468.2,705 467.9,702 467.7,699 467.6,696 467.4,693 467.2,690 467.1,687 466.9,684 466.8,681 466.7,678.5 466.6,678 466.2,675 465.8,672 465.4,669 465.1,666 464.8,663 464.5,660 464.2,657 463.7,654 463.3,651 462.9,648 462.6,645 462.3,642 462,639 461.8,636 461.7,633 461.5,630 461.4,627 461.2,624 461.1,621 461,618 461,615 460.9,612 460.9,609 460.8,606 460.7,603 460.7,600 460.6,597 460.6,594 460.5,591 460.5,588 460.4,585 460.4,582 460.4,579 460.3,576 460.3,573 460.2,570 460.2,567 460.2,564 460.1,561 460.1,558 460,555 460,552 460,549 459.9,546 459.9,543 459.9,540 459.8,537 459.8,534 459.8,531 459.8,528 459.8,525 459.8,522 459.8,519 459.8,516 459.8,513 459.8,510 459.8,507 459.8,504 459.7,501 459.7,498 459.7,495 459.7,492 459.7,489 459.7,486 459.7,483 459.7,480 459.7,477 459.7,474 459.8,471 459.8,468 459.8,465 459.8,462 459.8,459 459.8,456 459.9,453 459.9,450 459.9,447 460,444 460,441 460.1,438 460.1,435 460.1,432 460.1,429 460.2,426 460.2,423 460.2,420 460.2,417 460.3,414 460.3,411 460.4,408 460.5,405 460.6,402 460.7,399 460.8,396 460.9,393 461,390 461.2,387 461.3,384 461.4,381 461.6,378 461.7,375 461.9,372 462,369 462.2,366 462.4,363 462.5,360 462.7,357 463,354 463.2,351 463.5,348 463.8,345 464.1,342 464.4,339 464.8,336 465.1,333 465.6,330 466,327 466.5,324 466.7,322.8 466.9,321 467.3,318 467.8,315 468.3,312 468.8,309 469.4,306 470,303 471.7,300 471.7,297 471.2,294 471.6,291 472,288 472.6,285 473.2,282 474.1,279 475.2,276 476.7,273ZM478,300.8 477.3,303 476.3,306 475.4,309 474.6,312 473.8,315 473.1,318 472.5,321 471.9,324 471.3,327 470.8,330 470.3,333 469.9,336 469.4,339 469,342 468.7,345 468.3,348 468,351 467.7,354 467.4,357 467.2,360 466.9,363 466.7,366 466.7,366.7 466.5,369 466.2,372 466,375 465.7,378 465.5,381 465.3,384 465.1,387 464.8,390 464.6,393 464.4,396 464.3,399 464.1,402 464,405 463.8,408 463.7,411 463.6,414 463.5,417 463.5,420 463.4,423 463.4,426 463.3,429 463.3,432 463.2,435 463.2,438 463.2,441 463.1,444 463,447 463,450 462.9,453 462.8,456 462.8,459 462.7,462 462.7,465 462.7,468 462.7,471 462.7,474 462.7,477 462.7,480 462.7,483 462.7,486 462.7,489 462.6,492 462.6,495 462.7,498 462.7,501 462.7,504 462.7,507 462.7,510 462.7,513 462.8,516 462.8,519 462.8,522 462.8,525 462.8,528 462.8,531 462.8,534 462.9,537 462.9,540 462.9,543 463,546 463.1,549 463.1,552 463.2,555 463.2,558 463.3,561 463.4,564 463.4,567 463.5,570 463.6,573 463.6,576 463.7,579 463.8,582 463.9,585 463.9,588 464,591 464.1,594 464.2,597 464.2,600 464.3,603 464.4,606 464.5,609 464.6,612 464.7,615 464.9,618 465,621 465.2,624 465.4,627 465.6,630 465.9,633 466.2,636 466.4,639 466.7,640.8 466.7,642 466.9,645 467.1,648 467.3,651 467.5,654 467.7,657 467.8,660 467.9,663 468.1,666 468.2,669 468.4,672 468.5,675 468.7,678 468.9,681 469.1,684 469.3,687 469.5,690 469.8,693 470,696 470.3,699 470.6,702 470.9,705 471.3,708 471.8,711 472.2,714 472.8,717 473.3,720 474,723 474.6,726 475.2,729 475.9,732 476.6,735 477.4,738 478,739.9 479,738 480.2,735 481.3,732 482.3,729 483.2,726 484.1,723 485,720 485.9,717 486.7,714 487.4,711 488,708 488.6,705 489.1,702 489.4,699.9 489.7,699 490.4,696 491.1,693 491.7,690 492.3,687 492.8,684 493.3,681 493.7,678 494.1,675 494.5,672 494.8,669 495.1,666 495.4,663 495.7,660 496,657 496.3,654 496.6,651 496.9,648 497.2,645 497.4,642 497.6,639 497.7,636 497.8,633 497.9,630 498,627 498.1,624 498.3,621 498.2,618 498.2,615 498.2,612 498.1,609 498.1,606 498,603 498,600 497.9,597 497.9,594 497.8,591 497.8,588 497.7,585 497.7,582 497.6,579 497.5,576 497.5,573 497.4,570 497.4,567 497.3,564 497.3,561 497.1,558 497,555 496.8,552 496.7,549 496.6,546 496.4,543 496.3,540 496.1,537 495.9,534 495.8,531 495.6,528 495.4,525 495.2,522 495,519 494.9,516 494.7,513 494.5,510 494.3,507 494.2,504 494,501 493.8,498 493.6,495 493.4,492 493.1,489 492.9,486 492.6,483 492.3,480 492.1,477 491.8,474 491.5,471 491.2,468 490.9,465 490.6,462 490.3,459 489.9,456 489.5,453 489.4,452.1 489.3,450 489.2,447 489,444 488.9,441 488.8,438 488.6,435 488.5,432 488.4,429 488.3,426 488.2,423 488.1,420 487.9,417 487.8,414 487.7,411 487.5,408 487.4,405 487.2,402 487.1,399 486.9,396 486.7,393 486.6,390 486.5,387 486.3,384 486.1,381 486,378 485.8,375 485.7,372 485.5,369 485.3,366 485.2,363 485,360 484.2,357 484,354 483.9,351 483.7,348 483.5,345 483.2,342 482.3,339 482,336 481.7,333 481.3,330 481,327 480.7,324 480.3,321 480,318 479.7,315 479.3,312 479,309 478.6,306 478.3,303 478,300.8ZM659.5,273 659.8,270.9 671.1,272.3 671.2,273 671.4,276 671.6,279 671.6,282 671.7,285 671.7,288 671.7,291 671.8,294 671.8,297 671.9,300 671.9,303 671.9,306 672,309 672,312 672,315 672.1,318 672.1,321 672.1,324 672.2,327 672.2,330 672.2,333 672.3,336 672.3,339 672.3,342 672.4,345 672.4,348 672.4,351 672.4,354 672.5,357 672.5,360 672.5,363 672.6,366 672.6,369 672.6,372 672.7,375 672.7,378 672.7,381 672.7,384 672.8,387 672.8,390 672.8,393 672.9,396 672.9,399 672.9,402 672.9,405 673,408 673.2,411 673.2,414 673.3,417 673.3,420 673.3,423 673.3,426 673.4,429 673.5,432 673.8,435 673.9,438 674,441 674.1,444 674.2,447 674.3,450 674.4,453 674.5,456 675,459 675.1,462 675.2,465 675.2,468 675.3,471 675.4,474 675.5,477 675.4,480 675.2,483 675.1,486 674.2,489 674.1,492 674.2,495 674.3,498 674.4,501 674.5,504 674.6,507 674.7,510 674.8,513 674.9,516 675,519 675.1,522 675.1,525 675.2,528 675.2,531 675.2,534 675.3,537 677.6,540 677.8,543 677.9,546 678.1,549 678.2,552 678.4,555 678.6,558 678.7,561 678.9,564 679,567 679.2,570 679.2,573 679.3,576 679.4,579 679.5,582 679.6,585 679.6,588 679.7,591 679.8,594 679.9,597 680,600 680.1,603 680.2,606 680.3,609 680.4,612 680.5,615 680.6,618 680.7,621 680.8,624 680.9,627 681,630 681.1,633 681.2,636 681.3,639 681.3,642 681.1,645 680.9,648 680.7,651 680.4,654 680,657 679.8,660 679.5,663 679.3,666 679.1,669 678.8,672 678.5,675 678.2,678 677.8,681 677.5,684 677.1,687 676.6,690 676.2,693 675.7,696 675.1,699 674.4,702 673.6,705 672.9,708 672.1,711 671.4,714 671.1,714.8 671.1,714 670.9,711 670.7,708 670.6,705 670.4,702 670.3,699 670.1,696 670,693 669.8,690 669.7,687 669.6,684 669.4,681 669.3,678 669.2,675 669.1,672 668.9,669 668.8,666 668.7,663 668.6,660 668.4,657 668.1,654 667.8,651 667.6,648 667.3,645 667.2,642 664.9,639 664.6,636 664.4,633 664.2,630 663.9,627 663.7,624 663.4,621 663.2,618 663,615 662.8,612 662.6,609 662.4,606 662.1,603 661.9,600 661.9,597 661.8,594 661.8,591 661.8,588 661.8,585 661.8,582 661.7,579 661.7,576 661.7,573 661.7,570 661.7,567 661.6,564 661.6,561 661.6,558 661.6,555 661.6,552 661.6,549 661.6,546 661.6,543 661.6,540 661.6,537 661.6,534 661.6,531 661.6,528 661.6,525 661.6,522 661.7,519 661.7,516 661.7,513 661.8,510 661.8,507 661.9,504 661.9,501 662,498 662,495 662.1,492 662.2,489 662.2,486 662.4,483 662.4,480 662.4,477 662.5,474 662.5,471 662.6,468 662.6,465 662.7,462 662.7,459 662.8,456 662.9,453 662.9,450 663,447 663.1,444 663.2,441 663.3,438 663.4,435 663.5,432 663.5,429 663.4,426 663.3,423 663.2,420 663.1,417 663,414 662.8,411 662.7,408 662.5,405 662.4,402 662.2,399 662,396 661.8,393 661.6,390 661.3,387 661,384 660.7,381 660.4,378 660,375 659.8,372.9 659.7,372 659.6,369 659.5,366 659.4,363 659.2,360 659.1,357 659,354 658.9,351 658.9,348 658.9,345 658.9,342 658.9,339 659,336 659,333 659,330 659,327 659,324 659,321 659,318 659,315 659,312 659,309 659,306 659,303 659,300 659,297 659,294 659,291 659,288 659,285 659,282 659,279 659.2,276 659.5,273ZM671.1,483 670.6,486 670.1,489 669.6,492 669.2,495 668.9,498 668.5,501 668.2,504 667.9,507 667.7,510 667.4,513 667.2,516 667,519 666.8,522 666.8,525 666.7,528 666.6,531 666.5,534 666.4,537 666.4,540 666.3,543 666.2,546 666.2,549 666.1,552 666,555 666,558 665.9,561 665.9,564 666,567 666,570 666,573 666,576 666,579 666,582 666.1,585 666.1,588 666.1,591 666.1,594 666.1,597 666.1,600 666.3,603 666.4,606 666.5,609 666.7,612 666.8,615 666.9,618 667,621 667.3,624 667.5,627 667.7,630 667.9,633 668.1,636 668.3,639 669.4,642 669.6,645 669.9,648 670.2,651 670.6,654 671,657 671.1,658.8 671.6,657 672.8,654 673.7,651 674.5,648 675.2,645 675.5,642 675.7,639 675.8,636 675.9,633 676,630 676,627 676.1,624 676.2,621 676.2,618 676.1,615 676.1,612 676,609 676,606 675.9,603 675.9,600 675.9,597 675.8,594 675.8,591 675.7,588 675.7,585 675.6,582 675.6,579 675.6,576 675.5,573 675.5,570 675.4,567 675.3,564 675.3,561 675.1,558 675,555 674.9,552 674.7,549 674.6,546 674.5,543 674.4,540 673.2,537 673.1,534 673.1,531 673,528 672.9,525 672.9,522 672.8,519 672.7,516 672.6,513 672.4,510 672.3,507 672.2,504 672,501 671.9,498 671.7,495 671.6,492 671.5,489 671.4,486 671.1,483ZM1068.5,810 1068.6,808.6 1070.2,810 1073.4,813 1076.4,816 1079.1,819 1079.9,820 1080.3,822 1080.9,825 1081.4,828 1081.7,831 1081.9,834 1082,837 1082.2,840 1082.3,843 1082.5,846 1082.6,849 1082.7,852 1082.8,855 1082.9,858 1082.9,861 1083,864 1083,867 1083.1,870 1083.1,873 1083.1,876 1083.2,879 1079.9,879.4 1078.3,879 1078.4,876 1078.4,873 1078.5,870 1078.5,867 1078.6,864 1078.6,861 1078.7,858 1078.8,855 1078.8,852 1078.9,849 1078.9,846 1079,843 1079,840 1079.1,837 1079.2,834 1079.2,831 1068.6,828.4 1067.1,828 1067.3,825 1067.5,822 1067.7,819 1068,816 1068.2,813 1068.5,810Z"/>
<path fill="#ffff00" stroke="#ffff00" stroke-width="0.4" fill-rule="evenodd" d="M749.8,150 750.6,150 751,150 751,153 751,156 751,159 750.9,162 750.9,165 750.9,168 750.8,171 750.8,174 750.8,177 750.8,180 750.7,183 750.7,186 750.7,189 750.6,192 750.6,195 750.6,192 750.5,189 750.5,186 750.4,183 750.4,180 750.3,177 750.3,174 750.2,171 750.2,168 750.1,165 750.1,162 750,159 750,156 749.9,153 749.8,150ZM1011.6,237 1011.8,235.7 1011.9,237 1012.4,240 1012.7,243 1013.1,246 1013.4,249 1013.7,252 1014,255 1014.3,258 1014.6,261 1015,264 1015.4,267 1015.7,270 1015.9,273 1016.1,276 1016.2,279 1016.4,282 1016.6,285 1016.7,288 1016.9,291 1017,294 1017.1,297 1017.2,300 1017.3,303 1017.4,306 1017.5,309 1017.6,312 1017.7,315 1017.8,318 1017.9,321 1018,324 1018.1,327 1018.2,330 1018.3,333 1018.3,336 1018.4,339 1018.4,342 1018.5,345 1018.5,348 1018.6,351 1018.6,354 1018.7,357 1018.7,360 1018.8,363 1018.8,366 1018.9,369 1018.9,372 1019,375 1019,378 1019.1,381 1019.1,384 1019.2,387 1019.2,390 1019.3,393 1019.3,396 1019.4,399 1019.4,402 1019.5,405 1019.5,408 1019.6,411 1019.7,414 1019.7,417 1019.8,420 1019.8,423 1019.9,426 1019.9,429 1020,432 1020,435 1020,438 1020.1,441 1020.1,444 1020.1,447 1020.2,450 1020.3,453 1020.4,456 1020.5,459 1020.6,462 1020.8,465 1020.9,468 1021.1,471 1021.2,474 1021.3,477 1021.4,480 1021.6,483 1021.7,486 1021.9,489 1022.2,492 1022.5,495 1022.9,498 1023.2,499.8 1023.3,501 1023.7,504 1024.1,507 1024.4,510 1024.7,513 1025.1,516 1025.3,519 1025.6,522 1025.9,525 1026.1,528 1026.3,531 1026.5,534 1026.7,537 1026.9,540 1027,543 1027.1,546 1027.2,549 1027.3,552 1027.4,555 1027.5,558 1027.6,561 1027.7,564 1027.9,567 1028,570 1028.1,573 1028.1,576 1028.2,579 1028.3,582 1028.3,585 1028.4,588 1028.5,591 1028.6,594 1028.6,597 1028.7,600 1028.8,603 1028.9,606 1028.9,609 1029,612 1029.1,615 1029.2,618 1029.3,621 1029.3,624 1029.3,627 1029.3,630 1029.4,633 1029.4,636 1029.4,639 1029.4,642 1029.4,645 1029.4,648 1029.4,651 1029.4,654 1029.4,657 1029.4,660 1029.5,663 1029.5,666 1029.5,669 1029.5,672 1029.5,675 1029.5,678 1029.5,681 1029.5,684 1029.5,687 1029.5,690 1029.5,693 1029.6,696 1029.6,699 1029.5,702 1029.5,705 1029.5,708 1029.4,711 1029.3,714 1029.2,717 1029.1,720 1029,723 1028.9,726 1028.8,729 1028.7,732 1028.6,735 1028.5,738 1028.4,741 1028.3,744 1028.1,747 1028,750 1027.8,753 1027.7,756 1027.5,759 1027.3,762 1027.2,765 1027,768 1026.7,771 1026.4,774 1026,777 1025.5,780 1025,783 1024.5,786 1023.9,789 1023.2,792 1023.2,792.4 1023.1,792 1022.6,789 1022.2,786 1021.8,783 1021.5,780 1021.2,777 1020.9,774 1020.6,771 1020.4,768 1020.3,765 1020.2,762 1020.1,759 1020,756 1019.8,753 1019.7,750 1019.6,747 1019.5,744 1019.4,741 1019.3,738 1019.3,735 1019.2,732 1019.1,729 1019.1,726 1019,723 1018.9,720 1018.9,717 1018.8,714 1018.7,711 1018.7,708 1018.7,705 1018.7,702 1018.7,699 1018.7,696 1018.7,693 1018.7,690 1018.6,687 1018.6,684 1018.6,681 1018.6,678 1018.6,675 1018.6,672 1018.6,669 1018.6,666 1018.6,663 1018.6,660 1018.5,657 1018.5,654 1018.5,651 1018.5,648 1018.5,645 1018.5,642 1018.5,639 1018.4,636 1018.3,633 1018.3,630 1018.2,627 1018.1,624 1018.1,621 1018,618 1017.9,615 1017.8,612 1017.7,609 1017.7,606 1017.6,603 1017.5,600 1017.4,597 1017.2,594 1017.1,591 1016.9,588 1016.8,585 1016.6,582 1016.5,579 1016.3,576 1016.1,573 1015.9,570 1015.8,567 1015.7,564 1015.5,561 1015.2,558 1014.9,555 1014.5,552 1014,549 1013.4,546 1012.7,543 1011.8,540 1011.8,540 1011.3,537 1010.8,534 1010.3,531 1009.9,528 1009.4,525 1009,522 1008.5,519 1008,516 1007.5,513 1007.1,510 1006.6,507 1006.2,504 1005.8,501 1005.5,498 1005.2,495 1004.9,492 1004.6,489 1004.4,486 1004.1,483 1003.9,480 1003.7,477 1003.5,474 1003.3,471 1003.1,468 1003,465 1002.9,462 1002.8,459 1002.7,456 1002.6,453 1002.4,450 1002.4,447 1002.4,444 1002.3,441 1002.3,438 1002.2,435 1002.2,432 1002.2,429 1002.1,426 1002.1,423 1002.1,420 1002.1,417 1002,414 1002,411 1002,408 1002,405 1001.9,402 1001.9,399 1001.9,396 1001.9,393 1001.8,390 1001.9,387 1002,384 1002,381 1002.1,378 1002.1,375 1002.2,372 1002.2,369 1002.3,366 1002.4,363 1002.4,360 1002.5,357 1002.6,354 1002.6,351 1002.7,348 1002.7,345 1002.8,342 1002.9,339 1002.9,336 1003,333 1003.1,330 1003.2,327 1003.3,324 1003.5,321 1003.6,318 1003.8,315 1003.9,312 1004.1,309 1004.2,306 1004.4,303 1004.5,300 1004.7,297 1004.9,294 1005,291 1005.2,288 1005.5,285 1005.7,282 1006,279 1006.2,276 1006.5,273 1006.8,270 1007.1,267 1007.4,264 1007.8,261 1008.1,258 1008.5,255 1009,252 1009.4,249 1009.9,246 1010.4,243 1011,240 1011.6,237ZM1011.8,262.1 1011.5,264 1011.1,267 1010.7,270 1010.3,273 1009.9,276 1009.6,279 1009.3,282 1008.9,285 1008.6,288 1008.4,291 1008.2,294 1008,297 1007.8,300 1007.6,303 1007.4,306 1007.2,309 1007,312 1006.8,315 1006.6,318 1006.5,321 1006.3,324 1006.1,327 1006,330 1005.9,333 1005.8,336 1005.8,339 1005.7,342 1005.6,345 1005.6,348 1005.5,351 1005.4,354 1005.3,357 1005.3,360 1005.2,363 1005.1,366 1005.1,369 1005,372 1004.9,375 1004.9,378 1004.8,381 1004.8,384 1004.7,387 1004.7,390 1004.7,393 1004.7,396 1004.7,399 1004.7,402 1004.7,405 1004.7,408 1004.7,411 1004.7,414 1004.7,417 1004.7,420 1004.7,423 1004.7,426 1004.7,429 1004.8,432 1004.8,435 1004.9,438 1004.9,441 1005,444 1005.1,447 1005.1,450 1005.2,453 1005.3,456 1005.5,459 1005.6,462 1005.7,465 1005.8,468 1005.9,471 1006.2,474 1006.5,477 1006.8,480 1007.1,483 1007.4,486 1007.7,489 1008.1,492 1008.5,495 1008.9,498 1009.3,501 1009.8,504 1010.3,507 1010.9,510 1011.4,513 1011.8,515 1013.4,513 1014.8,510 1015.6,507 1016.2,504 1016.6,501 1016.9,498 1017.1,495 1017.4,492 1017.5,489 1017.7,486 1017.8,483 1017.9,480 1018,477 1018.1,474 1018.2,471 1018.1,468 1018.1,465 1018,462 1017.9,459 1017.9,456 1017.8,453 1017.8,450 1017.8,447 1017.8,444 1017.8,441 1017.8,438 1017.8,435 1017.8,432 1017.8,429 1017.7,426 1017.7,423 1017.6,420 1017.6,417 1017.5,414 1017.5,411 1017.4,408 1017.4,405 1017.3,402 1017.3,399 1017.2,396 1017.2,393 1017.1,390 1017.1,387 1017,384 1017,381 1017,378 1016.9,375 1016.9,372 1016.8,369 1016.7,366 1016.7,363 1016.6,360 1016.6,357 1016.5,354 1016.5,351 1016.4,348 1016.4,345 1016.3,342 1016.3,339 1016.2,336 1016.1,333 1016.1,330 1016,327 1015.9,324 1015.7,321 1015.6,318 1015.5,315 1015.3,312 1015.2,309 1015.1,306 1014.9,303 1014.8,300 1014.7,297 1014.5,294 1014.4,291 1014.2,288 1014,285 1013.7,282 1013.5,279 1013.2,276 1012.9,273 1012.7,270 1012.4,267 1012,264 1011.8,262.1ZM1023.2,532 1022.3,534 1021.5,537 1020.9,540 1020.7,543 1020.6,546 1020.5,549 1020.5,552 1020.4,555 1020.4,558 1020.3,561 1020.2,564 1020.1,567 1020.1,570 1020.1,573 1020.2,576 1020.3,579 1020.4,582 1020.4,585 1020.5,588 1020.6,591 1020.6,594 1020.7,597 1020.7,600 1020.8,603 1020.8,606 1020.8,609 1020.9,612 1020.9,615 1020.9,618 1021,621 1021,624 1021,627 1021.1,630 1021.1,633 1021.1,636 1021.1,639 1021.2,642 1021.2,645 1021.2,648 1021.2,651 1021.2,654 1021.2,657 1021.2,660 1021.3,663 1021.3,666 1021.3,669 1021.3,672 1021.3,675 1021.3,678 1021.4,681 1021.4,684 1021.4,687 1021.4,690 1021.4,693 1021.4,696 1021.4,699 1021.5,702 1021.5,705 1021.5,708 1021.5,711 1021.6,714 1021.7,717 1021.8,720 1021.9,723 1022,726 1022.1,729 1022.1,732 1022.2,735 1022.3,738 1022.4,741 1022.6,744 1022.7,747 1022.9,750 1023.1,753 1023.2,755 1023.3,753 1023.5,750 1023.7,747 1024,744 1024.2,741 1024.3,738 1024.4,735 1024.6,732 1024.7,729 1024.8,726 1025,723 1025.1,720 1025.2,717 1025.4,714 1025.5,711 1025.5,708 1025.6,705 1025.6,702 1025.6,699 1025.6,696 1025.6,693 1025.7,690 1025.7,687 1025.7,684 1025.7,681 1025.7,678 1025.7,675 1025.7,672 1025.7,669 1025.7,666 1025.8,663 1025.8,660 1025.8,657 1025.8,654 1025.8,651 1025.8,648 1025.8,645 1025.8,642 1025.8,639 1025.8,636 1025.8,633 1025.8,630 1025.8,627 1025.8,624 1025.8,621 1025.8,618 1025.7,615 1025.7,612 1025.6,609 1025.6,606 1025.6,603 1025.5,600 1025.5,597 1025.5,594 1025.4,591 1025.4,588 1025.4,585 1025.4,582 1025.3,579 1025.3,576 1025.3,573 1025.2,570 1025.1,567 1025,564 1024.8,561 1024.7,558 1024.6,555 1024.5,552 1024.3,549 1024.2,546 1024.1,543 1023.9,540 1023.6,537 1023.4,534 1023.2,532ZM477.3,303 478,300.8 478.3,303 478.6,306 479,309 479.3,312 479.7,315 480,318 480.3,321 480.7,324 481,327 481.3,330 481.7,333 482,336 482.3,339 483.2,342 483.5,345 483.7,348 483.9,351 484,354 484.2,357 485,360 485.2,363 485.3,366 485.5,369 485.7,372 485.8,375 486,378 486.1,381 486.3,384 486.5,387 486.6,390 486.7,393 486.9,396 487.1,399 487.2,402 487.4,405 487.5,408 487.7,411 487.8,414 487.9,417 488.1,420 488.2,423 488.3,426 488.4,429 488.5,432 488.6,435 488.8,438 488.9,441 489,444 489.2,447 489.3,450 489.4,452.1 489.5,453 489.9,456 490.3,459 490.6,462 490.9,465 491.2,468 491.5,471 491.8,474 492.1,477 492.3,480 492.6,483 492.9,486 493.1,489 493.4,492 493.6,495 493.8,498 494,501 494.2,504 494.3,507 494.5,510 494.7,513 494.9,516 495,519 495.2,522 495.4,525 495.6,528 495.8,531 495.9,534 496.1,537 496.3,540 496.4,543 496.6,546 496.7,549 496.8,552 497,555 497.1,558 497.3,561 497.3,564 497.4,567 497.4,570 497.5,573 497.5,576 497.6,579 497.7,582 497.7,585 497.8,588 497.8,591 497.9,594 497.9,597 498,600 498,603 498.1,606 498.1,609 498.2,612 498.2,615 498.2,618 498.3,621 498.1,624 498,627 497.9,630 497.8,633 497.7,636 497.6,639 497.4,642 497.2,645 496.9,648 496.6,651 496.3,654 496,657 495.7,660 495.4,663 495.1,666 494.8,669 494.5,672 494.1,675 493.7,678 493.3,681 492.8,684 492.3,687 491.7,690 491.1,693 490.4,696 489.7,699 489.4,699.9 489.1,702 488.6,705 488,708 487.4,711 486.7,714 485.9,717 485,720 484.1,723 483.2,726 482.3,729 481.3,732 480.2,735 479,738 478,739.9 477.4,738 476.6,735 475.9,732 475.2,729 474.6,726 474,723 473.3,720 472.8,717 472.2,714 471.8,711 471.3,708 470.9,705 470.6,702 470.3,699 470,696 469.8,693 469.5,690 469.3,687 469.1,684 468.9,681 468.7,678 468.5,675 468.4,672 468.2,669 468.1,666 467.9,663 467.8,660 467.7,657 467.5,654 467.3,651 467.1,648 466.9,645 466.7,642 466.7,640.8 466.4,639 466.2,636 465.9,633 465.6,630 465.4,627 465.2,624 465,621 464.9,618 464.7,615 464.6,612 464.5,609 464.4,606 464.3,603 464.2,600 464.2,597 464.1,594 464,591 463.9,588 463.9,585 463.8,582 463.7,579 463.6,576 463.6,573 463.5,570 463.4,567 463.4,564 463.3,561 463.2,558 463.2,555 463.1,552 463.1,549 463,546 462.9,543 462.9,540 462.9,537 462.8,534 462.8,531 462.8,528 462.8,525 462.8,522 462.8,519 462.8,516 462.7,513 462.7,510 462.7,507 462.7,504 462.7,501 462.7,498 462.6,495 462.6,492 462.7,489 462.7,486 462.7,483 462.7,480 462.7,477 462.7,474 462.7,471 462.7,468 462.7,465 462.7,462 462.8,459 462.8,456 462.9,453 463,450 463,447 463.1,444 463.2,441 463.2,438 463.2,435 463.3,432 463.3,429 463.4,426 463.4,423 463.5,420 463.5,417 463.6,414 463.7,411 463.8,408 464,405 464.1,402 464.3,399 464.4,396 464.6,393 464.8,390 465.1,387 465.3,384 465.5,381 465.7,378 466,375 466.2,372 466.5,369 466.7,366.7 466.7,366 466.9,363 467.2,360 467.4,357 467.7,354 468,351 468.3,348 468.7,345 469,342 469.4,339 469.9,336 470.3,333 470.8,330 471.3,327 471.9,324 472.5,321 473.1,318 473.8,315 474.6,312 475.4,309 476.3,306 477.3,303ZM478,321 477.2,324 476.4,327 475.7,330 475.1,333 474.4,336 473.9,339 473.3,342 472.8,345 472.3,348 471.8,351 471.4,354 471,357 470.7,360 470.4,363 470.1,366 469.8,369 469.5,372 469.3,375 469,378 468.8,381 468.5,384 468.3,387 468.1,390 467.9,393 467.7,396 467.5,399 467.4,402 467.2,405 467,408 466.9,411 466.8,414 466.8,417 466.7,420 466.7,421.3 466.7,423 466.6,426 466.5,429 466.5,432 466.4,435 466.3,438 466.3,441 466.2,444 466.1,447 466,450 465.9,453 465.8,456 465.7,459 465.7,462 465.7,465 465.6,468 465.6,471 465.6,474 465.6,477 465.6,480 465.6,483 465.6,486 465.6,489 465.6,492 465.6,495 465.6,498 465.6,501 465.6,504 465.7,507 465.7,510 465.7,513 465.7,516 465.7,519 465.8,522 465.8,525 465.8,528 465.8,531 465.8,534 465.9,537 465.9,540 466,543 466.1,546 466.1,549 466.2,552 466.3,555 466.4,558 466.5,561 466.6,564 466.7,567 466.7,567.8 466.7,570 466.8,573 466.8,576 466.8,579 466.9,582 466.9,585 467,588 467,591 467,594 467.1,597 467.1,600 467.1,603 467.2,606 467.2,609 467.3,612 467.3,615 467.4,618 467.4,621 467.5,624 467.6,627 467.7,630 467.8,633 467.9,636 468,639 468.2,642 468.4,645 468.6,648 468.9,651 469.1,654 469.4,657 469.6,660 469.8,663 469.9,666 470.1,669 470.3,672 470.5,675 470.8,678 471,681 471.3,684 471.5,687 471.8,690 472.1,693 472.5,696 472.8,699 473.2,702 473.7,705 474.2,708 474.8,711 475.4,714 476.1,717 476.9,720 477.7,723 478,724.2 478.5,723 479.8,720 480.9,717 482,714 482.9,711 483.7,708 484.5,705 485.2,702 485.8,699 486.3,696 486.8,693 487.2,690 487.6,687 488,684 488.4,681 488.8,678 489.1,675 489.4,672 489.4,672 489.9,669 490.4,666 490.8,663 491.2,660 491.6,657 492.1,654 492.7,651 493.1,648 493.5,645 493.9,642 494.2,639 494.3,636 494.5,633 494.6,630 494.7,627 494.8,624 494.9,621 494.9,618 494.9,615 494.8,612 494.8,609 494.7,606 494.7,603 494.7,600 494.6,597 494.5,594 494.5,591 494.4,588 494.3,585 494.2,582 494.2,579 494.1,576 494,573 494,570 493.9,567 493.8,564 493.7,561 493.6,558 493.5,555 493.4,552 493.3,549 493.2,546 493,543 492.9,540 492.7,537 492.6,534 492.4,531 492.2,528 492,525 491.8,522 491.7,519 491.5,516 491.3,513 491.1,510 490.9,507 490.7,504 490.5,501 490.4,498 490.2,495 489.9,492 489.6,489 489.4,486.7 489.4,486 489.3,483 489.1,480 489,477 488.9,474 488.8,471 488.6,468 488.5,465 488.4,462 488.2,459 488.1,456 487.9,453 487.8,450 487.6,447 487.5,444 487.3,441 487.2,438 487.1,435 487,432 486.8,429 486.7,426 486.6,423 486.5,420 486.3,417 486.2,414 486,411 485.9,408 485.7,405 485.5,402 485.3,399 485.1,396 484.9,393 484.8,390 484.6,387 484.4,384 484.2,381 484,378 483.8,375 483.6,372 483.4,369 483.2,366 483,363 482.7,360 482.1,357 481.9,354 481.6,351 481.4,348 481.1,345 480.8,342 480.1,339 479.8,336 479.4,333 479.1,330 478.8,327 478.4,324 478,321ZM670.6,486 671.1,483 671.4,486 671.5,489 671.6,492 671.7,495 671.9,498 672,501 672.2,504 672.3,507 672.4,510 672.6,513 672.7,516 672.8,519 672.9,522 672.9,525 673,528 673.1,531 673.1,534 673.2,537 674.4,540 674.5,543 674.6,546 674.7,549 674.9,552 675,555 675.1,558 675.3,561 675.3,564 675.4,567 675.5,570 675.5,573 675.6,576 675.6,579 675.6,582 675.7,585 675.7,588 675.8,591 675.8,594 675.9,597 675.9,600 675.9,603 676,606 676,609 676.1,612 676.1,615 676.2,618 676.2,621 676.1,624 676,627 676,630 675.9,633 675.8,636 675.7,639 675.5,642 675.2,645 674.5,648 673.7,651 672.8,654 671.6,657 671.1,658.8 671,657 670.6,654 670.2,651 669.9,648 669.6,645 669.4,642 668.3,639 668.1,636 667.9,633 667.7,630 667.5,627 667.3,624 667,621 666.9,618 666.8,615 666.7,612 666.5,609 666.4,606 666.3,603 666.1,600 666.1,597 666.1,594 666.1,591 666.1,588 666.1,585 666,582 666,579 666,576 666,573 666,570 666,567 665.9,564 665.9,561 666,558 666,555 666.1,552 666.2,549 666.2,546 666.3,543 666.4,540 666.4,537 666.5,534 666.6,531 666.7,528 666.8,525 666.8,522 667,519 667.2,516 667.4,513 667.7,510 667.9,507 668.2,504 668.5,501 668.9,498 669.2,495 669.6,492 670.1,489 670.6,486ZM671.1,540 671,543 670.8,546 670.7,549 670.6,552 670.4,555 670.3,558 670.2,561 670.3,564 670.3,567 670.3,570 670.3,573 670.3,576 670.3,579 670.3,582 670.3,585 670.4,588 670.4,591 670.4,594 670.4,597 670.4,600 670.4,603 670.5,606 670.5,609 670.5,612 670.5,615 670.6,618 670.6,621 670.8,624 671,627 671.1,628.3 671.2,627 671.5,624 671.7,621 671.8,618 671.8,615 671.8,612 671.8,609 671.8,606 671.8,603 671.8,600 671.8,597 671.8,594 671.8,591 671.8,588 671.8,585 671.8,582 671.8,579 671.8,576 671.8,573 671.8,570 671.8,567 671.8,564 671.8,561 671.7,558 671.6,555 671.5,552 671.4,549 671.3,546 671.2,543 671.1,540Z"/>
<path fill="#ffe000" stroke="#ffe000" stroke-width="0.4" fill-rule="evenodd" d="M1011.5,264 1011.8,262.1 1012,264 1012.4,267 1012.7,270 1012.9,273 1013.2,276 1013.5,279 1013.7,282 1014,285 1014.2,288 1014.4,291 1014.5,294 1014.7,297 1014.8,300 1014.9,303 1015.1,306 1015.2,309 1015.3,312 1015.5,315 1015.6,318 1015.7,321 1015.9,324 1016,327 1016.1,330 1016.1,333 1016.2,336 1016.3,339 1016.3,342 1016.4,345 1016.4,348 1016.5,351 1016.5,354 1016.6,357 1016.6,360 1016.7,363 1016.7,366 1016.8,369 1016.9,372 1016.9,375 1017,378 1017,381 1017,384 1017.1,387 1017.1,390 1017.2,393 1017.2,396 1017.3,399 1017.3,402 1017.4,405 1017.4,408 1017.5,411 1017.5,414 1017.6,417 1017.6,420 1017.7,423 1017.7,426 1017.8,429 1017.8,432 1017.8,435 1017.8,438 1017.8,441 1017.8,444 1017.8,447 1017.8,450 1017.8,453 1017.9,456 1017.9,459 1018,462 1018.1,465 1018.1,468 1018.2,471 1018.1,474 1018,477 1017.9,480 1017.8,483 1017.7,486 1017.5,489 1017.4,492 1017.1,495 1016.9,498 1016.6,501 1016.2,504 1015.6,507 1014.8,510 1013.4,513 1011.8,515 1011.4,513 1010.9,510 1010.3,507 1009.8,504 1009.3,501 1008.9,498 1008.5,495 1008.1,492 1007.7,489 1007.4,486 1007.1,483 1006.8,480 1006.5,477 1006.2,474 1005.9,471 1005.8,468 1005.7,465 1005.6,462 1005.5,459 1005.3,456 1005.2,453 1005.1,450 1005.1,447 1005,444 1004.9,441 1004.9,438 1004.8,435 1004.8,432 1004.7,429 1004.7,426 1004.7,423 1004.7,420 1004.7,417 1004.7,414 1004.7,411 1004.7,408 1004.7,405 1004.7,402 1004.7,399 1004.7,396 1004.7,393 1004.7,390 1004.7,387 1004.8,384 1004.8,381 1004.9,378 1004.9,375 1005,372 1005.1,369 1005.1,366 1005.2,363 1005.3,360 1005.3,357 1005.4,354 1005.5,351 1005.6,348 1005.6,345 1005.7,342 1005.8,339 1005.8,336 1005.9,333 1006,330 1006.1,327 1006.3,324 1006.5,321 1006.6,318 1006.8,315 1007,312 1007.2,309 1007.4,306 1007.6,303 1007.8,300 1008,297 1008.2,294 1008.4,291 1008.6,288 1008.9,285 1009.3,282 1009.6,279 1009.9,276 1010.3,273 1010.7,270 1011.1,267 1011.5,264ZM1011.8,290.2 1011.7,291 1011.5,294 1011.2,297 1011,300 1010.8,303 1010.5,306 1010.3,309 1010.1,312 1009.9,315 1009.7,318 1009.5,321 1009.3,324 1009.1,327 1008.9,330 1008.8,333 1008.7,336 1008.7,339 1008.6,342 1008.5,345 1008.4,348 1008.3,351 1008.3,354 1008.2,357 1008.1,360 1008,363 1008,366 1007.9,369 1007.8,372 1007.7,375 1007.7,378 1007.6,381 1007.6,384 1007.5,387 1007.5,390 1007.4,393 1007.4,396 1007.4,399 1007.4,402 1007.4,405 1007.4,408 1007.4,411 1007.4,414 1007.3,417 1007.3,420 1007.3,423 1007.3,426 1007.3,429 1007.3,432 1007.4,435 1007.5,438 1007.6,441 1007.6,444 1007.7,447 1007.8,450 1007.9,453 1008,456 1008.1,459 1008.2,462 1008.3,465 1008.4,468 1008.6,471 1008.9,474 1009.3,477 1009.6,480 1010,483 1010.4,486 1010.9,489 1011.3,492 1011.8,495 1012.5,492 1013.1,489 1013.6,486 1014.1,483 1014.4,480 1014.7,477 1015,474 1015.3,471 1015.4,468 1015.4,465 1015.4,462 1015.4,459 1015.4,456 1015.4,453 1015.4,450 1015.4,447 1015.5,444 1015.5,441 1015.5,438 1015.6,435 1015.6,432 1015.6,429 1015.6,426 1015.5,423 1015.5,420 1015.4,417 1015.4,414 1015.3,411 1015.3,408 1015.2,405 1015.2,402 1015.2,399 1015.1,396 1015.1,393 1015,390 1015,387 1015,384 1014.9,381 1014.9,378 1014.8,375 1014.8,372 1014.7,369 1014.7,366 1014.6,363 1014.5,360 1014.5,357 1014.4,354 1014.4,351 1014.3,348 1014.2,345 1014.2,342 1014.1,339 1014.1,336 1014,333 1013.9,330 1013.8,327 1013.7,324 1013.5,321 1013.4,318 1013.2,315 1013.1,312 1012.9,309 1012.7,306 1012.6,303 1012.4,300 1012.2,297 1012,294 1011.9,291 1011.8,290.2ZM477.2,324 478,321 478.4,324 478.8,327 479.1,330 479.4,333 479.8,336 480.1,339 480.8,342 481.1,345 481.4,348 481.6,351 481.9,354 482.1,357 482.7,360 483,363 483.2,366 483.4,369 483.6,372 483.8,375 484,378 484.2,381 484.4,384 484.6,387 484.8,390 484.9,393 485.1,396 485.3,399 485.5,402 485.7,405 485.9,408 486,411 486.2,414 486.3,417 486.5,420 486.6,423 486.7,426 486.8,429 487,432 487.1,435 487.2,438 487.3,441 487.5,444 487.6,447 487.8,450 487.9,453 488.1,456 488.2,459 488.4,462 488.5,465 488.6,468 488.8,471 488.9,474 489,477 489.1,480 489.3,483 489.4,486 489.4,486.7 489.6,489 489.9,492 490.2,495 490.4,498 490.5,501 490.7,504 490.9,507 491.1,510 491.3,513 491.5,516 491.7,519 491.8,522 492,525 492.2,528 492.4,531 492.6,534 492.7,537 492.9,540 493,543 493.2,546 493.3,549 493.4,552 493.5,555 493.6,558 493.7,561 493.8,564 493.9,567 494,570 494,573 494.1,576 494.2,579 494.2,582 494.3,585 494.4,588 494.5,591 494.5,594 494.6,597 494.7,600 494.7,603 494.7,606 494.8,609 494.8,612 494.9,615 494.9,618 494.9,621 494.8,624 494.7,627 494.6,630 494.5,633 494.3,636 494.2,639 493.9,642 493.5,645 493.1,648 492.7,651 492.1,654 491.6,657 491.2,660 490.8,663 490.4,666 489.9,669 489.4,672 489.4,672 489.1,675 488.8,678 488.4,681 488,684 487.6,687 487.2,690 486.8,693 486.3,696 485.8,699 485.2,702 484.5,705 483.7,708 482.9,711 482,714 480.9,717 479.8,720 478.5,723 478,724.2 477.7,723 476.9,720 476.1,717 475.4,714 474.8,711 474.2,708 473.7,705 473.2,702 472.8,699 472.5,696 472.1,693 471.8,690 471.5,687 471.3,684 471,681 470.8,678 470.5,675 470.3,672 470.1,669 469.9,666 469.8,663 469.6,660 469.4,657 469.1,654 468.9,651 468.6,648 468.4,645 468.2,642 468,639 467.9,636 467.8,633 467.7,630 467.6,627 467.5,624 467.4,621 467.4,618 467.3,615 467.3,612 467.2,609 467.2,606 467.1,603 467.1,600 467.1,597 467,594 467,591 467,588 466.9,585 466.9,582 466.8,579 466.8,576 466.8,573 466.7,570 466.7,567.8 466.7,567 466.6,564 466.5,561 466.4,558 466.3,555 466.2,552 466.1,549 466.1,546 466,543 465.9,540 465.9,537 465.8,534 465.8,531 465.8,528 465.8,525 465.8,522 465.7,519 465.7,516 465.7,513 465.7,510 465.7,507 465.6,504 465.6,501 465.6,498 465.6,495 465.6,492 465.6,489 465.6,486 465.6,483 465.6,480 465.6,477 465.6,474 465.6,471 465.6,468 465.7,465 465.7,462 465.7,459 465.8,456 465.9,453 466,450 466.1,447 466.2,444 466.3,441 466.3,438 466.4,435 466.5,432 466.5,429 466.6,426 466.7,423 466.7,421.3 466.7,420 466.8,417 466.8,414 466.9,411 467,408 467.2,405 467.4,402 467.5,399 467.7,396 467.9,393 468.1,390 468.3,387 468.5,384 468.8,381 469,378 469.3,375 469.5,372 469.8,369 470.1,366 470.4,363 470.7,360 471,357 471.4,354 471.8,351 472.3,348 472.8,345 473.3,342 473.9,339 474.4,336 475.1,333 475.7,330 476.4,327 477.2,324ZM478,340 477.6,342 476.9,345 476.3,348 475.7,351 475.2,354 474.6,357 474.2,360 473.8,363 473.4,366 473,369 472.7,372 472.3,375 472,378 471.7,381 471.4,384 471.1,387 470.8,390 470.5,393 470.3,396 470,399 469.8,402 469.6,405 469.4,408 469.2,411 469,414 469,417 468.9,420 468.8,423 468.7,426 468.6,429 468.6,432 468.5,435 468.4,438 468.4,441 468.3,444 468.2,447 468.1,450 468,453 467.9,456 467.9,459 467.8,462 467.8,465 467.8,468 467.7,471 467.7,474 467.7,477 467.7,480 467.7,483 467.7,486 467.6,489 467.6,492 467.6,495 467.6,498 467.6,501 467.6,504 467.6,507 467.6,510 467.6,513 467.6,516 467.6,519 467.7,522 467.7,525 467.7,528 467.7,531 467.7,534 467.7,537 467.7,540 467.7,543 467.8,546 467.8,549 467.8,552 467.9,555 467.9,558 467.9,561 468,564 468,567 468.1,570 468.1,573 468.1,576 468.2,579 468.2,582 468.2,585 468.3,588 468.3,591 468.3,594 468.4,597 468.4,600 468.5,603 468.5,606 468.6,609 468.6,612 468.7,615 468.7,618 468.8,621 468.9,624 469,627 469.1,630 469.2,633 469.3,636 469.5,639 469.7,642 469.9,645 470.2,648 470.5,651 470.8,654 471.1,657 471.3,660 471.6,663 471.8,666 472,669 472.2,672 472.5,675 472.8,678 473.1,681 473.4,684 473.8,687 474.1,690 474.5,693 474.9,696 475.3,699 475.9,702 476.4,705 477.1,708 477.8,711 478,712 478.4,711 479.5,708 480.4,705 481.3,702 482.1,699 482.7,696 483.3,693 483.8,690 484.4,687 484.9,684 485.3,681 485.8,678 486.2,675 486.6,672 486.9,669 487.2,666 487.6,663 487.9,660 488.1,657 488.6,654 489,651 489.4,648 489.4,647.5 489.9,645 490.4,642 490.8,639 490.9,636 491.1,633 491.2,630 491.4,627 491.5,624 491.6,621 491.6,618 491.6,615 491.5,612 491.5,609 491.4,606 491.4,603 491.3,600 491.2,597 491.2,594 491.1,591 491,588 490.9,585 490.8,582 490.7,579 490.7,576 490.6,573 490.5,570 490.4,567 490.3,564 490.2,561 490.1,558 490,555 489.9,552 489.8,549 489.7,546 489.7,543 489.6,540 489.4,537.5 489.4,537 489.3,534 489.2,531 489.1,528 489.1,525 489,522 488.9,519 488.8,516 488.7,513 488.7,510 488.6,507 488.5,504 488.4,501 488.4,498 488.3,495 488.2,492 488,489 487.9,486 487.8,483 487.7,480 487.5,477 487.4,474 487.3,471 487.2,468 487,465 486.9,462 486.8,459 486.6,456 486.4,453 486.3,450 486.1,447 486,444 485.8,441 485.7,438 485.5,435 485.4,432 485.3,429 485.1,426 485,423 484.9,420 484.7,417 484.6,414 484.4,411 484.2,408 484,405 483.8,402 483.6,399 483.4,396 483.1,393 482.9,390 482.7,387 482.5,384 482.3,381 482,378 481.8,375 481.6,372 481.3,369 481.1,366 480.8,363 480.5,360 480,357 479.7,354 479.4,351 479.1,348 478.7,345 478.3,342 478,340ZM1022.3,534 1023.2,532 1023.4,534 1023.6,537 1023.9,540 1024.1,543 1024.2,546 1024.3,549 1024.5,552 1024.6,555 1024.7,558 1024.8,561 1025,564 1025.1,567 1025.2,570 1025.3,573 1025.3,576 1025.3,579 1025.4,582 1025.4,585 1025.4,588 1025.4,591 1025.5,594 1025.5,597 1025.5,600 1025.6,603 1025.6,606 1025.6,609 1025.7,612 1025.7,615 1025.8,618 1025.8,621 1025.8,624 1025.8,627 1025.8,630 1025.8,633 1025.8,636 1025.8,639 1025.8,642 1025.8,645 1025.8,648 1025.8,651 1025.8,654 1025.8,657 1025.8,660 1025.8,663 1025.7,666 1025.7,669 1025.7,672 1025.7,675 1025.7,678 1025.7,681 1025.7,684 1025.7,687 1025.7,690 1025.6,693 1025.6,696 1025.6,699 1025.6,702 1025.6,705 1025.5,708 1025.5,711 1025.4,714 1025.2,717 1025.1,720 1025,723 1024.8,726 1024.7,729 1024.6,732 1024.4,735 1024.3,738 1024.2,741 1024,744 1023.7,747 1023.5,750 1023.3,753 1023.2,755 1023.1,753 1022.9,750 1022.7,747 1022.6,744 1022.4,741 1022.3,738 1022.2,735 1022.1,732 1022.1,729 1022,726 1021.9,723 1021.8,720 1021.7,717 1021.6,714 1021.5,711 1021.5,708 1021.5,705 1021.5,702 1021.4,699 1021.4,696 1021.4,693 1021.4,690 1021.4,687 1021.4,684 1021.4,681 1021.3,678 1021.3,675 1021.3,672 1021.3,669 1021.3,666 1021.3,663 1021.2,660 1021.2,657 1021.2,654 1021.2,651 1021.2,648 1021.2,645 1021.2,642 1021.1,639 1021.1,636 1021.1,633 1021.1,630 1021,627 1021,624 1021,621 1020.9,618 1020.9,615 1020.9,612 1020.8,609 1020.8,606 1020.8,603 1020.7,600 1020.7,597 1020.6,594 1020.6,591 1020.5,588 1020.4,585 1020.4,582 1020.3,579 1020.2,576 1020.1,573 1020.1,570 1020.1,567 1020.2,564 1020.3,561 1020.4,558 1020.4,555 1020.5,552 1020.5,549 1020.6,546 1020.7,543 1020.9,540 1021.5,537 1022.3,534ZM671,543 671.1,540 671.2,543 671.3,546 671.4,549 671.5,552 671.6,555 671.7,558 671.8,561 671.8,564 671.8,567 671.8,570 671.8,573 671.8,576 671.8,579 671.8,582 671.8,585 671.8,588 671.8,591 671.8,594 671.8,597 671.8,600 671.8,603 671.8,606 671.8,609 671.8,612 671.8,615 671.8,618 671.7,621 671.5,624 671.2,627 671.1,628.3 671,627 670.8,624 670.6,621 670.6,618 670.5,615 670.5,612 670.5,609 670.5,606 670.4,603 670.4,600 670.4,597 670.4,594 670.4,591 670.4,588 670.3,585 670.3,582 670.3,579 670.3,576 670.3,573 670.3,570 670.3,567 670.3,564 670.2,561 670.3,558 670.4,555 670.6,552 670.7,549 670.8,546 671,543Z"/>
<path fill="#ffc400" stroke="#ffc400" stroke-width="0.4" fill-rule="evenodd" d="M1011.7,291 1011.8,290.2 1011.9,291 1012,294 1012.2,297 1012.4,300 1012.6,303 1012.7,306 1012.9,309 1013.1,312 1013.2,315 1013.4,318 1013.5,321 1013.7,324 1013.8,327 1013.9,330 1014,333 1014.1,336 1014.1,339 1014.2,342 1014.2,345 1014.3,348 1014.4,351 1014.4,354 1014.5,357 1014.5,360 1014.6,363 1014.7,366 1014.7,369 1014.8,372 1014.8,375 1014.9,378 1014.9,381 1015,384 1015,387 1015,390 1015.1,393 1015.1,396 1015.2,399 1015.2,402 1015.2,405 1015.3,408 1015.3,411 1015.4,414 1015.4,417 1015.5,420 1015.5,423 1015.6,426 1015.6,429 1015.6,432 1015.6,435 1015.5,438 1015.5,441 1015.5,444 1015.4,447 1015.4,450 1015.4,453 1015.4,456 1015.4,459 1015.4,462 1015.4,465 1015.4,468 1015.3,471 1015,474 1014.7,477 1014.4,480 1014.1,483 1013.6,486 1013.1,489 1012.5,492 1011.8,495 1011.3,492 1010.9,489 1010.4,486 1010,483 1009.6,480 1009.3,477 1008.9,474 1008.6,471 1008.4,468 1008.3,465 1008.2,462 1008.1,459 1008,456 1007.9,453 1007.8,450 1007.7,447 1007.6,444 1007.6,441 1007.5,438 1007.4,435 1007.3,432 1007.3,429 1007.3,426 1007.3,423 1007.3,420 1007.3,417 1007.4,414 1007.4,411 1007.4,408 1007.4,405 1007.4,402 1007.4,399 1007.4,396 1007.4,393 1007.5,390 1007.5,387 1007.6,384 1007.6,381 1007.7,378 1007.7,375 1007.8,372 1007.9,369 1008,366 1008,363 1008.1,360 1008.2,357 1008.3,354 1008.3,351 1008.4,348 1008.5,345 1008.6,342 1008.7,339 1008.7,336 1008.8,333 1008.9,330 1009.1,327 1009.3,324 1009.5,321 1009.7,318 1009.9,315 1010.1,312 1010.3,309 1010.5,306 1010.8,303 1011,300 1011.2,297 1011.5,294 1011.7,291ZM1011.8,330 1011.7,333 1011.6,336 1011.5,339 1011.5,342 1011.4,345 1011.3,348 1011.2,351 1011.1,354 1011,357 1011,360 1010.9,363 1010.8,366 1010.7,369 1010.6,372 1010.5,375 1010.5,378 1010.4,381 1010.3,384 1010.3,387 1010.3,390 1010.2,393 1010.2,396 1010.2,399 1010.1,402 1010.1,405 1010.1,408 1010,411 1010,414 1010,417 1010,420 1009.9,423 1009.9,426 1009.9,429 1009.9,432 1010,435 1010.1,438 1010.2,441 1010.3,444 1010.4,447 1010.5,450 1010.6,453 1010.7,456 1010.8,459 1010.9,462 1011,465 1011.1,468 1011.3,471 1011.7,474 1011.8,475 1012,474 1012.4,471 1012.6,468 1012.6,465 1012.7,462 1012.8,459 1012.9,456 1012.9,453 1013,450 1013.1,447 1013.1,444 1013.2,441 1013.3,438 1013.3,435 1013.4,432 1013.4,429 1013.4,426 1013.3,423 1013.3,420 1013.3,417 1013.2,414 1013.2,411 1013.2,408 1013.1,405 1013.1,402 1013.1,399 1013,396 1013,393 1012.9,390 1012.9,387 1012.9,384 1012.9,381 1012.8,378 1012.7,375 1012.7,372 1012.6,369 1012.6,366 1012.5,363 1012.4,360 1012.4,357 1012.3,354 1012.2,351 1012.2,348 1012.1,345 1012.1,342 1012,339 1011.9,336 1011.9,333 1011.8,330ZM477.6,342 478,340 478.3,342 478.7,345 479.1,348 479.4,351 479.7,354 480,357 480.5,360 480.8,363 481.1,366 481.3,369 481.6,372 481.8,375 482,378 482.3,381 482.5,384 482.7,387 482.9,390 483.1,393 483.4,396 483.6,399 483.8,402 484,405 484.2,408 484.4,411 484.6,414 484.7,417 484.9,420 485,423 485.1,426 485.3,429 485.4,432 485.5,435 485.7,438 485.8,441 486,444 486.1,447 486.3,450 486.4,453 486.6,456 486.8,459 486.9,462 487,465 487.2,468 487.3,471 487.4,474 487.5,477 487.7,480 487.8,483 487.9,486 488,489 488.2,492 488.3,495 488.4,498 488.4,501 488.5,504 488.6,507 488.7,510 488.7,513 488.8,516 488.9,519 489,522 489.1,525 489.1,528 489.2,531 489.3,534 489.4,537 489.4,537.5 489.6,540 489.7,543 489.7,546 489.8,549 489.9,552 490,555 490.1,558 490.2,561 490.3,564 490.4,567 490.5,570 490.6,573 490.7,576 490.7,579 490.8,582 490.9,585 491,588 491.1,591 491.2,594 491.2,597 491.3,600 491.4,603 491.4,606 491.5,609 491.5,612 491.6,615 491.6,618 491.6,621 491.5,624 491.4,627 491.2,630 491.1,633 490.9,636 490.8,639 490.4,642 489.9,645 489.4,647.5 489.4,648 489,651 488.6,654 488.1,657 487.9,660 487.6,663 487.2,666 486.9,669 486.6,672 486.2,675 485.8,678 485.3,681 484.9,684 484.4,687 483.8,690 483.3,693 482.7,696 482.1,699 481.3,702 480.4,705 479.5,708 478.4,711 478,712 477.8,711 477.1,708 476.4,705 475.9,702 475.3,699 474.9,696 474.5,693 474.1,690 473.8,687 473.4,684 473.1,681 472.8,678 472.5,675 472.2,672 472,669 471.8,666 471.6,663 471.3,660 471.1,657 470.8,654 470.5,651 470.2,648 469.9,645 469.7,642 469.5,639 469.3,636 469.2,633 469.1,630 469,627 468.9,624 468.8,621 468.7,618 468.7,615 468.6,612 468.6,609 468.5,606 468.5,603 468.4,600 468.4,597 468.3,594 468.3,591 468.3,588 468.2,585 468.2,582 468.2,579 468.1,576 468.1,573 468.1,570 468,567 468,564 467.9,561 467.9,558 467.9,555 467.8,552 467.8,549 467.8,546 467.7,543 467.7,540 467.7,537 467.7,534 467.7,531 467.7,528 467.7,525 467.7,522 467.6,519 467.6,516 467.6,513 467.6,510 467.6,507 467.6,504 467.6,501 467.6,498 467.6,495 467.6,492 467.6,489 467.7,486 467.7,483 467.7,480 467.7,477 467.7,474 467.7,471 467.8,468 467.8,465 467.8,462 467.9,459 467.9,456 468,453 468.1,450 468.2,447 468.3,444 468.4,441 468.4,438 468.5,435 468.6,432 468.6,429 468.7,426 468.8,423 468.9,420 469,417 469,414 469.2,411 469.4,408 469.6,405 469.8,402 470,399 470.3,396 470.5,393 470.8,390 471.1,387 471.4,384 471.7,381 472,378 472.3,375 472.7,372 473,369 473.4,366 473.8,363 474.2,360 474.6,357 475.2,354 475.7,351 476.3,348 476.9,345 477.6,342ZM478,358.1 477.7,360 477.2,363 476.7,366 476.3,369 475.8,372 475.4,375 475,378 474.6,381 474.2,384 473.9,387 473.5,390 473.2,393 472.9,396 472.6,399 472.3,402 472,405 471.7,408 471.5,411 471.3,414 471.1,417 471,420 470.9,423 470.8,426 470.7,429 470.6,432 470.5,435 470.4,438 470.3,441 470.2,444 470.1,447 469.9,450 469.8,453 469.7,456 469.6,459 469.5,462 469.5,465 469.4,468 469.4,471 469.3,474 469.3,477 469.3,480 469.2,483 469.2,486 469.2,489 469.1,492 469.1,495 469.1,498 469.1,501 469.1,504 469.1,507 469.1,510 469.1,513 469.1,516 469.1,519 469.1,522 469,525 469,528 469,531 469,534 469,537 469,540 469.1,543 469.1,546 469.1,549 469.2,552 469.2,555 469.2,558 469.3,561 469.3,564 469.4,567 469.4,570 469.4,573 469.5,576 469.5,579 469.5,582 469.6,585 469.6,588 469.6,591 469.7,594 469.7,597 469.7,600 469.8,603 469.8,606 469.9,609 469.9,612 470,615 470,618 470.1,621 470.2,624 470.3,627 470.5,630 470.6,633 470.7,636 470.9,639 471.1,642 471.4,645 471.7,648 472.1,651 472.5,654 472.9,657 473.1,660 473.4,663 473.6,666 473.9,669 474.2,672 474.5,675 474.8,678 475.2,681 475.6,684 476,687 476.4,690 476.9,693 477.3,696 477.9,699 478,699.9 478.3,699 479.1,696 479.8,693 480.5,690 481.1,687 481.7,684 482.2,681 482.8,678 483.3,675 483.7,672 484.1,669 484.5,666 484.9,663 485.3,660 485.6,657 486.2,654 486.7,651 487.1,648 487.5,645 487.9,642 488.2,639 488.3,636 488.4,633 488.5,630 488.6,627 488.7,624 488.8,621 488.8,618 488.8,615 488.8,612 488.7,609 488.7,606 488.7,603 488.7,600 488.7,597 488.6,594 488.6,591 488.5,588 488.5,585 488.5,582 488.4,579 488.4,576 488.4,573 488.3,570 488.3,567 488.2,564 488.2,561 488.2,558 488.1,555 488.1,552 488.1,549 488.1,546 488,543 488,540 487.9,537 487.8,534 487.8,531 487.7,528 487.6,525 487.5,522 487.4,519 487.4,516 487.3,513 487.2,510 487.1,507 487,504 487,501 486.9,498 486.8,495 486.7,492 486.6,489 486.5,486 486.3,483 486.2,480 486.1,477 485.9,474 485.8,471 485.7,468 485.6,465 485.4,462 485.3,459 485.1,456 484.9,453 484.8,450 484.6,447 484.4,444 484.2,441 484.1,438 484,435 483.8,432 483.7,429 483.5,426 483.4,423 483.3,420 483.1,417 483,414 482.8,411 482.5,408 482.3,405 482.1,402 481.8,399 481.6,396 481.3,393 481.1,390 480.9,387 480.6,384 480.3,381 480,378 479.8,375 479.5,372 479.2,369 478.9,366 478.6,363 478.3,360 478,358.1Z"/>
<path fill="#ffa800" stroke="#ffa800" stroke-width="0.4" fill-rule="evenodd" d="M1011.7,333 1011.8,330 1011.9,333 1011.9,336 1012,339 1012.1,342 1012.1,345 1012.2,348 1012.2,351 1012.3,354 1012.4,357 1012.4,360 1012.5,363 1012.6,366 1012.6,369 1012.7,372 1012.7,375 1012.8,378 1012.9,381 1012.9,384 1012.9,387 1012.9,390 1013,393 1013,396 1013.1,399 1013.1,402 1013.1,405 1013.2,408 1013.2,411 1013.2,414 1013.3,417 1013.3,420 1013.3,423 1013.4,426 1013.4,429 1013.4,432 1013.3,435 1013.3,438 1013.2,441 1013.1,444 1013.1,447 1013,450 1012.9,453 1012.9,456 1012.8,459 1012.7,462 1012.6,465 1012.6,468 1012.4,471 1012,474 1011.8,475 1011.7,474 1011.3,471 1011.1,468 1011,465 1010.9,462 1010.8,459 1010.7,456 1010.6,453 1010.5,450 1010.4,447 1010.3,444 1010.2,441 1010.1,438 1010,435 1009.9,432 1009.9,429 1009.9,426 1009.9,423 1010,420 1010,417 1010,414 1010,411 1010.1,408 1010.1,405 1010.1,402 1010.2,399 1010.2,396 1010.2,393 1010.3,390 1010.3,387 1010.3,384 1010.4,381 1010.5,378 1010.5,375 1010.6,372 1010.7,369 1010.8,366 1010.9,363 1011,360 1011,357 1011.1,354 1011.2,351 1011.3,348 1011.4,345 1011.5,342 1011.5,339 1011.6,336 1011.7,333ZM477.7,360 478,358.1 478.3,360 478.6,363 478.9,366 479.2,369 479.5,372 479.8,375 480,378 480.3,381 480.6,384 480.9,387 481.1,390 481.3,393 481.6,396 481.8,399 482.1,402 482.3,405 482.5,408 482.8,411 483,414 483.1,417 483.3,420 483.4,423 483.5,426 483.7,429 483.8,432 484,435 484.1,438 484.2,441 484.4,444 484.6,447 484.8,450 484.9,453 485.1,456 485.3,459 485.4,462 485.6,465 485.7,468 485.8,471 485.9,474 486.1,477 486.2,480 486.3,483 486.5,486 486.6,489 486.7,492 486.8,495 486.9,498 487,501 487,504 487.1,507 487.2,510 487.3,513 487.4,516 487.4,519 487.5,522 487.6,525 487.7,528 487.8,531 487.8,534 487.9,537 488,540 488,543 488.1,546 488.1,549 488.1,552 488.1,555 488.2,558 488.2,561 488.2,564 488.3,567 488.3,570 488.4,573 488.4,576 488.4,579 488.5,582 488.5,585 488.5,588 488.6,591 488.6,594 488.7,597 488.7,600 488.7,603 488.7,606 488.7,609 488.8,612 488.8,615 488.8,618 488.8,621 488.7,624 488.6,627 488.5,630 488.4,633 488.3,636 488.2,639 487.9,642 487.5,645 487.1,648 486.7,651 486.2,654 485.6,657 485.3,660 484.9,663 484.5,666 484.1,669 483.7,672 483.3,675 482.8,678 482.2,681 481.7,684 481.1,687 480.5,690 479.8,693 479.1,696 478.3,699 478,699.9 477.9,699 477.3,696 476.9,693 476.4,690 476,687 475.6,684 475.2,681 474.8,678 474.5,675 474.2,672 473.9,669 473.6,666 473.4,663 473.1,660 472.9,657 472.5,654 472.1,651 471.7,648 471.4,645 471.1,642 470.9,639 470.7,636 470.6,633 470.5,630 470.3,627 470.2,624 470.1,621 470,618 470,615 469.9,612 469.9,609 469.8,606 469.8,603 469.7,600 469.7,597 469.7,594 469.6,591 469.6,588 469.6,585 469.5,582 469.5,579 469.5,576 469.4,573 469.4,570 469.4,567 469.3,564 469.3,561 469.2,558 469.2,555 469.2,552 469.1,549 469.1,546 469.1,543 469,540 469,537 469,534 469,531 469,528 469,525 469.1,522 469.1,519 469.1,516 469.1,513 469.1,510 469.1,507 469.1,504 469.1,501 469.1,498 469.1,495 469.1,492 469.2,489 469.2,486 469.2,483 469.3,480 469.3,477 469.3,474 469.4,471 469.4,468 469.5,465 469.5,462 469.6,459 469.7,456 469.8,453 469.9,450 470.1,447 470.2,444 470.3,441 470.4,438 470.5,435 470.6,432 470.7,429 470.8,426 470.9,423 471,420 471.1,417 471.3,414 471.5,411 471.7,408 472,405 472.3,402 472.6,399 472.9,396 473.2,393 473.5,390 473.9,387 474.2,384 474.6,381 475,378 475.4,375 475.8,372 476.3,369 476.7,366 477.2,363 477.7,360ZM478,378 477.6,381 477.1,384 476.7,387 476.2,390 475.8,393 475.5,396 475.1,399 474.7,402 474.4,405 474.1,408 473.8,411 473.5,414 473.3,417 473.2,420 473,423 472.9,426 472.8,429 472.6,432 472.5,435 472.4,438 472.2,441 472.1,444 471.9,447 471.8,450 471.6,453 471.5,456 471.3,459 471.2,462 471.1,465 471.1,468 471,471 471,474 470.9,477 470.8,480 470.8,483 470.7,486 470.7,489 470.6,492 470.6,495 470.6,498 470.6,501 470.5,504 470.5,507 470.5,510 470.5,513 470.5,516 470.5,519 470.5,522 470.4,525 470.4,528 470.4,531 470.4,534 470.4,537 470.4,540 470.4,543 470.4,546 470.5,549 470.5,552 470.5,555 470.6,558 470.6,561 470.7,564 470.7,567 470.7,570 470.8,573 470.8,576 470.8,579 470.9,582 470.9,585 470.9,588 471,591 471,594 471,597 471.1,600 471.1,603 471.2,606 471.2,609 471.3,612 471.3,615 471.4,618 471.4,621 471.5,624 471.7,627 471.8,630 472,633 472.1,636 472.3,639 472.6,642 472.9,645 473.3,648 473.7,651 474.1,654 474.6,657 474.9,660 475.2,663 475.5,666 475.8,669 476.1,672 476.5,675 476.9,678 477.3,681 477.7,684 478,686 478.5,684 479.2,681 479.8,678 480.3,675 480.9,672 481.4,669 481.8,666 482.3,663 482.7,660 483.1,657 483.7,654 484.3,651 484.9,648 485.4,645 485.9,642 486.2,639 486.4,636 486.5,633 486.6,630 486.8,627 486.9,624 487,621 487,618 487,615 487,612 487,609 487,606 487,603 487,600 487,597 486.9,594 486.9,591 486.9,588 486.9,585 486.8,582 486.8,579 486.8,576 486.8,573 486.7,570 486.7,567 486.7,564 486.7,561 486.6,558 486.6,555 486.6,552 486.6,549 486.6,546 486.5,543 486.5,540 486.4,537 486.4,534 486.3,531 486.2,528 486.1,525 486,522 486,519 485.9,516 485.8,513 485.7,510 485.7,507 485.6,504 485.5,501 485.4,498 485.4,495 485.2,492 485.1,489 485,486 484.9,483 484.7,480 484.6,477 484.5,474 484.4,471 484.2,468 484.1,465 484,462 483.8,459 483.6,456 483.4,453 483.3,450 483.1,447 482.9,444 482.7,441 482.5,438 482.4,435 482.3,432 482.1,429 482,426 481.8,423 481.7,420 481.5,417 481.3,414 481.1,411 480.9,408 480.6,405 480.4,402 480.1,399 479.8,396 479.5,393 479.3,390 479,387 478.7,384 478.4,381 478,378Z"/>
<path fill="#ff8400" stroke="#ff8400" stroke-width="0.4" fill-rule="evenodd" d="M477.6,381 478,378 478.4,381 478.7,384 479,387 479.3,390 479.5,393 479.8,396 480.1,399 480.4,402 480.6,405 480.9,408 481.1,411 481.3,414 481.5,417 481.7,420 481.8,423 482,426 482.1,429 482.3,432 482.4,435 482.5,438 482.7,441 482.9,444 483.1,447 483.3,450 483.4,453 483.6,456 483.8,459 484,462 484.1,465 484.2,468 484.4,471 484.5,474 484.6,477 484.7,480 484.9,483 485,486 485.1,489 485.2,492 485.4,495 485.4,498 485.5,501 485.6,504 485.7,507 485.7,510 485.8,513 485.9,516 486,519 486,522 486.1,525 486.2,528 486.3,531 486.4,534 486.4,537 486.5,540 486.5,543 486.6,546 486.6,549 486.6,552 486.6,555 486.6,558 486.7,561 486.7,564 486.7,567 486.7,570 486.8,573 486.8,576 486.8,579 486.8,582 486.9,585 486.9,588 486.9,591 486.9,594 487,597 487,600 487,603 487,606 487,609 487,612 487,615 487,618 487,621 486.9,624 486.8,627 486.6,630 486.5,633 486.4,636 486.2,639 485.9,642 485.4,645 484.9,648 484.3,651 483.7,654 483.1,657 482.7,660 482.3,663 481.8,666 481.4,669 480.9,672 480.3,675 479.8,678 479.2,681 478.5,684 478,686 477.7,684 477.3,681 476.9,678 476.5,675 476.1,672 475.8,669 475.5,666 475.2,663 474.9,660 474.6,657 474.1,654 473.7,651 473.3,648 472.9,645 472.6,642 472.3,639 472.1,636 472,633 471.8,630 471.7,627 471.5,624 471.4,621 471.4,618 471.3,615 471.3,612 471.2,609 471.2,606 471.1,603 471.1,600 471,597 471,594 471,591 470.9,588 470.9,585 470.9,582 470.8,579 470.8,576 470.8,573 470.7,570 470.7,567 470.7,564 470.6,561 470.6,558 470.5,555 470.5,552 470.5,549 470.4,546 470.4,543 470.4,540 470.4,537 470.4,534 470.4,531 470.4,528 470.4,525 470.5,522 470.5,519 470.5,516 470.5,513 470.5,510 470.5,507 470.5,504 470.6,501 470.6,498 470.6,495 470.6,492 470.7,489 470.7,486 470.8,483 470.8,480 470.9,477 471,474 471,471 471.1,468 471.1,465 471.2,462 471.3,459 471.5,456 471.6,453 471.8,450 471.9,447 472.1,444 472.2,441 472.4,438 472.5,435 472.6,432 472.8,429 472.9,426 473,423 473.2,420 473.3,417 473.5,414 473.8,411 474.1,408 474.4,405 474.7,402 475.1,399 475.5,396 475.8,393 476.2,390 476.7,387 477.1,384 477.6,381ZM478,396 477.6,399 477.2,402 476.8,405 476.4,408 476,411 475.7,414 475.5,417 475.4,420 475.2,423 475,426 474.8,429 474.6,432 474.5,435 474.3,438 474.2,441 474,444 473.8,447 473.6,450 473.4,453 473.2,456 473,459 472.9,462 472.8,465 472.7,468 472.6,471 472.6,474 472.5,477 472.4,480 472.3,483 472.3,486 472.2,489 472.1,492 472.1,495 472,498 472,501 472,504 472,507 471.9,510 471.9,513 471.9,516 471.9,519 471.9,522 471.8,525 471.8,528 471.8,531 471.8,534 471.7,537 471.7,540 471.8,543 471.8,546 471.8,549 471.9,552 471.9,555 471.9,558 472,561 472,564 472,567 472.1,570 472.1,573 472.1,576 472.2,579 472.2,582 472.2,585 472.2,588 472.3,591 472.3,594 472.3,597 472.4,600 472.4,603 472.5,606 472.5,609 472.6,612 472.6,615 472.7,618 472.7,621 472.9,624 473,627 473.2,630 473.4,633 473.5,636 473.7,639 474,642 474.4,645 474.9,648 475.3,651 475.8,654 476.3,657 476.6,660 477,663 477.3,666 477.7,669 478,672 478.6,669 479.1,666 479.6,663 480.1,660 480.6,657 481.3,654 482,651 482.6,648 483.2,645 483.8,642 484.2,639 484.4,636 484.6,633 484.7,630 484.9,627 485.1,624 485.2,621 485.2,618 485.3,615 485.3,612 485.3,609 485.3,606 485.3,603 485.3,600 485.3,597 485.3,594 485.3,591 485.2,588 485.2,585 485.2,582 485.2,579 485.2,576 485.2,573 485.2,570 485.1,567 485.1,564 485.1,561 485.1,558 485.1,555 485.1,552 485.1,549 485,546 485,543 485,540 484.9,537 484.9,534 484.8,531 484.7,528 484.6,525 484.6,522 484.5,519 484.4,516 484.3,513 484.3,510 484.2,507 484.1,504 484,501 484,498 483.9,495 483.8,492 483.7,489 483.5,486 483.4,483 483.3,480 483.1,477 483,474 482.9,471 482.8,468 482.6,465 482.5,462 482.3,459 482.1,456 481.9,453 481.8,450 481.6,447 481.3,444 481.1,441 481,438 480.8,435 480.7,432 480.5,429 480.4,426 480.2,423 480.1,420 479.9,417 479.7,414 479.5,411 479.2,408 478.9,405 478.7,402 478.4,399 478,396Z"/>
<path fill="#ff5800" stroke="#ff5800" stroke-width="0.4" fill-rule="evenodd" d="M477.6,399 478,396 478.4,399 478.7,402 478.9,405 479.2,408 479.5,411 479.7,414 479.9,417 480.1,420 480.2,423 480.4,426 480.5,429 480.7,432 480.8,435 481,438 481.1,441 481.3,444 481.6,447 481.8,450 481.9,453 482.1,456 482.3,459 482.5,462 482.6,465 482.8,468 482.9,471 483,474 483.1,477 483.3,480 483.4,483 483.5,486 483.7,489 483.8,492 483.9,495 484,498 484,501 484.1,504 484.2,507 484.3,510 484.3,513 484.4,516 484.5,519 484.6,522 484.6,525 484.7,528 484.8,531 484.9,534 484.9,537 485,540 485,543 485,546 485.1,549 485.1,552 485.1,555 485.1,558 485.1,561 485.1,564 485.1,567 485.2,570 485.2,573 485.2,576 485.2,579 485.2,582 485.2,585 485.2,588 485.3,591 485.3,594 485.3,597 485.3,600 485.3,603 485.3,606 485.3,609 485.3,612 485.3,615 485.2,618 485.2,621 485.1,624 484.9,627 484.7,630 484.6,633 484.4,636 484.2,639 483.8,642 483.2,645 482.6,648 482,651 481.3,654 480.6,657 480.1,660 479.6,663 479.1,666 478.6,669 478,672 477.7,669 477.3,666 477,663 476.6,660 476.3,657 475.8,654 475.3,651 474.9,648 474.4,645 474,642 473.7,639 473.5,636 473.4,633 473.2,630 473,627 472.9,624 472.7,621 472.7,618 472.6,615 472.6,612 472.5,609 472.5,606 472.4,603 472.4,600 472.3,597 472.3,594 472.3,591 472.2,588 472.2,585 472.2,582 472.2,579 472.1,576 472.1,573 472.1,570 472,567 472,564 472,561 471.9,558 471.9,555 471.9,552 471.8,549 471.8,546 471.8,543 471.7,540 471.7,537 471.8,534 471.8,531 471.8,528 471.8,525 471.9,522 471.9,519 471.9,516 471.9,513 471.9,510 472,507 472,504 472,501 472,498 472.1,495 472.1,492 472.2,489 472.3,486 472.3,483 472.4,480 472.5,477 472.6,474 472.6,471 472.7,468 472.8,465 472.9,462 473,459 473.2,456 473.4,453 473.6,450 473.8,447 474,444 474.2,441 474.3,438 474.5,435 474.6,432 474.8,429 475,426 475.2,423 475.4,420 475.5,417 475.7,414 476,411 476.4,408 476.8,405 477.2,402 477.6,399ZM478,413.3 478,414 477.7,417 477.5,420 477.3,423 477.1,426 476.9,429 476.7,432 476.5,435 476.3,438 476.1,441 475.9,444 475.6,447 475.4,450 475.2,453 475,456 474.8,459 474.6,462 474.5,465 474.4,468 474.3,471 474.2,474 474.1,477 474,480 473.9,483 473.8,486 473.7,489 473.6,492 473.6,495 473.5,498 473.5,501 473.5,504 473.4,507 473.4,510 473.4,513 473.3,516 473.3,519 473.3,522 473.2,525 473.2,528 473.2,531 473.1,534 473.1,537 473.1,540 473.1,543 473.1,546 473.2,549 473.2,552 473.2,555 473.3,558 473.3,561 473.3,564 473.4,567 473.4,570 473.4,573 473.4,576 473.5,579 473.5,582 473.5,585 473.6,588 473.6,591 473.6,594 473.7,597 473.7,600 473.7,603 473.8,606 473.9,609 473.9,612 474,615 474,618 474.1,621 474.2,624 474.4,627 474.6,630 474.8,633 474.9,636 475.1,639 475.5,642 475.9,645 476.4,648 476.9,651 477.5,654 478,657 478.9,654 479.7,651 480.4,648 481.1,645 481.7,642 482.2,639 482.4,636 482.6,633 482.8,630 483,627 483.2,624 483.4,621 483.5,618 483.5,615 483.5,612 483.5,609 483.6,606 483.6,603 483.6,600 483.6,597 483.6,594 483.6,591 483.6,588 483.6,585 483.6,582 483.6,579 483.6,576 483.6,573 483.6,570 483.6,567 483.6,564 483.6,561 483.6,558 483.6,555 483.6,552 483.6,549 483.5,546 483.5,543 483.5,540 483.5,537 483.4,534 483.3,531 483.2,528 483.2,525 483.1,522 483,519 483,516 482.9,513 482.8,510 482.7,507 482.7,504 482.6,501 482.5,498 482.4,495 482.3,492 482.2,489 482.1,486 481.9,483 481.8,480 481.7,477 481.6,474 481.4,471 481.3,468 481.2,465 481,462 480.9,459 480.7,456 480.4,453 480.2,450 480,447 479.8,444 479.6,441 479.4,438 479.3,435 479.1,432 479,429 478.8,426 478.6,423 478.4,420 478.3,417 478.1,414 478,413.3Z"/>
<path fill="#ff2000" stroke="#ff2000" stroke-width="0.4" fill-rule="evenodd" d="M478,414 478,413.3 478.1,414 478.3,417 478.4,420 478.6,423 478.8,426 479,429 479.1,432 479.3,435 479.4,438 479.6,441 479.8,444 480,447 480.2,450 480.4,453 480.7,456 480.9,459 481,462 481.2,465 481.3,468 481.4,471 481.6,474 481.7,477 481.8,480 481.9,483 482.1,486 482.2,489 482.3,492 482.4,495 482.5,498 482.6,501 482.7,504 482.7,507 482.8,510 482.9,513 483,516 483,519 483.1,522 483.2,525 483.2,528 483.3,531 483.4,534 483.5,537 483.5,540 483.5,543 483.5,546 483.6,549 483.6,552 483.6,555 483.6,558 483.6,561 483.6,564 483.6,567 483.6,570 483.6,573 483.6,576 483.6,579 483.6,582 483.6,585 483.6,588 483.6,591 483.6,594 483.6,597 483.6,600 483.6,603 483.6,606 483.5,609 483.5,612 483.5,615 483.5,618 483.4,621 483.2,624 483,627 482.8,630 482.6,633 482.4,636 482.2,639 481.7,642 481.1,645 480.4,648 479.7,651 478.9,654 478,657 477.5,654 476.9,651 476.4,648 475.9,645 475.5,642 475.1,639 474.9,636 474.8,633 474.6,630 474.4,627 474.2,624 474.1,621 474,618 474,615 473.9,612 473.9,609 473.8,606 473.7,603 473.7,600 473.7,597 473.6,594 473.6,591 473.6,588 473.5,585 473.5,582 473.5,579 473.4,576 473.4,573 473.4,570 473.4,567 473.3,564 473.3,561 473.3,558 473.2,555 473.2,552 473.2,549 473.1,546 473.1,543 473.1,540 473.1,537 473.1,534 473.2,531 473.2,528 473.2,525 473.3,522 473.3,519 473.3,516 473.4,513 473.4,510 473.4,507 473.5,504 473.5,501 473.5,498 473.6,495 473.6,492 473.7,489 473.8,486 473.9,483 474,480 474.1,477 474.2,474 474.3,471 474.4,468 474.5,465 474.6,462 474.8,459 475,456 475.2,453 475.4,450 475.6,447 475.9,444 476.1,441 476.3,438 476.5,435 476.7,432 476.9,429 477.1,426 477.3,423 477.5,420 477.7,417 478,414ZM478,441 477.8,444 477.5,447 477.2,450 477,453 476.7,456 476.5,459 476.3,462 476.2,465 476,468 475.9,471 475.8,474 475.7,477 475.6,480 475.5,483 475.3,486 475.2,489 475.1,492 475.1,495 475,498 475,501 474.9,504 474.9,507 474.8,510 474.8,513 474.7,516 474.7,519 474.7,522 474.6,525 474.6,528 474.5,531 474.5,534 474.5,537 474.4,540 474.4,543 474.5,546 474.5,549 474.5,552 474.6,555 474.6,558 474.6,561 474.7,564 474.7,567 474.7,570 474.7,573 474.8,576 474.8,579 474.8,582 474.9,585 474.9,588 474.9,591 475,594 475,597 475,600 475.1,603 475.1,606 475.2,609 475.2,612 475.3,615 475.3,618 475.4,621 475.6,624 475.8,627 476,630 476.1,633 476.3,636 476.6,639 476.9,642 477.4,645 478,648 478,648.5 478.2,648 478.9,645 479.6,642 480.2,639 480.4,636 480.7,633 480.9,630 481.2,627 481.4,624 481.6,621 481.7,618 481.7,615 481.8,612 481.8,609 481.9,606 481.9,603 481.9,600 481.9,597 481.9,594 482,591 482,588 482,585 482,582 482,579 482,576 482,573 482,570 482,567 482,564 482,561 482,558 482,555 482,552 482,549 482,546 482.1,543 482.1,540 482,537 481.9,534 481.8,531 481.8,528 481.7,525 481.6,522 481.6,519 481.5,516 481.4,513 481.3,510 481.3,507 481.2,504 481.1,501 481.1,498 481,495 480.9,492 480.7,489 480.6,486 480.5,483 480.4,480 480.2,477 480.1,474 480,471 479.8,468 479.7,465 479.6,462 479.4,459 479.2,456 478.9,453 478.7,450 478.5,447 478.3,444 478,441Z"/>
<path fill="#e80014" stroke="#e80014" stroke-width="0.4" fill-rule="evenodd" d="M477.8,444 478,441 478.3,444 478.5,447 478.7,450 478.9,453 479.2,456 479.4,459 479.6,462 479.7,465 479.8,468 480,471 480.1,474 480.2,477 480.4,480 480.5,483 480.6,486 480.7,489 480.9,492 481,495 481.1,498 481.1,501 481.2,504 481.3,507 481.3,510 481.4,513 481.5,516 481.6,519 481.6,522 481.7,525 481.8,528 481.8,531 481.9,534 482,537 482.1,540 482.1,543 482,546 482,549 482,552 482,555 482,558 482,561 482,564 482,567 482,570 482,573 482,576 482,579 482,582 482,585 482,588 482,591 481.9,594 481.9,597 481.9,600 481.9,603 481.9,606 481.8,609 481.8,612 481.7,615 481.7,618 481.6,621 481.4,624 481.2,627 480.9,630 480.7,633 480.4,636 480.2,639 479.6,642 478.9,645 478.2,648 478,648.5 478,648 477.4,645 476.9,642 476.6,639 476.3,636 476.1,633 476,630 475.8,627 475.6,624 475.4,621 475.3,618 475.3,615 475.2,612 475.2,609 475.1,606 475.1,603 475,600 475,597 475,594 474.9,591 474.9,588 474.9,585 474.8,582 474.8,579 474.8,576 474.7,573 474.7,570 474.7,567 474.7,564 474.6,561 474.6,558 474.6,555 474.5,552 474.5,549 474.5,546 474.4,543 474.4,540 474.5,537 474.5,534 474.5,531 474.6,528 474.6,525 474.7,522 474.7,519 474.7,516 474.8,513 474.8,510 474.9,507 474.9,504 475,501 475,498 475.1,495 475.1,492 475.2,489 475.3,486 475.5,483 475.6,480 475.7,477 475.8,474 475.9,471 476,468 476.2,465 476.3,462 476.5,459 476.7,456 477,453 477.2,450 477.5,447 477.8,444ZM478,461.3 478,462 477.8,465 477.7,468 477.6,471 477.4,474 477.3,477 477.1,480 477,483 476.9,486 476.8,489 476.6,492 476.5,495 476.5,498 476.4,501 476.4,504 476.3,507 476.3,510 476.2,513 476.2,516 476.1,519 476.1,522 476,525 476,528 475.9,531 475.9,534 475.8,537 475.8,540 475.8,543 475.8,546 475.8,549 475.9,552 475.9,555 475.9,558 476,561 476,564 476,567 476.1,570 476.1,573 476.1,576 476.1,579 476.2,582 476.2,585 476.2,588 476.3,591 476.3,594 476.3,597 476.3,600 476.4,603 476.4,606 476.5,609 476.6,612 476.6,615 476.7,618 476.7,621 476.9,624 477.1,627 477.3,630 477.5,633 477.8,636 478,639 478,639.5 478.2,639 478.5,636 478.8,633 479,630 479.3,627 479.6,624 479.8,621 479.9,618 480,615 480,612 480.1,609 480.1,606 480.2,603 480.2,600 480.3,597 480.3,594 480.3,591 480.3,588 480.3,585 480.4,582 480.4,579 480.4,576 480.4,573 480.4,570 480.4,567 480.5,564 480.5,561 480.5,558 480.5,555 480.5,552 480.5,549 480.5,546 480.6,543 480.6,540 480.5,537 480.4,534 480.4,531 480.3,528 480.2,525 480.2,522 480.1,519 480,516 479.9,513 479.9,510 479.8,507 479.7,504 479.7,501 479.6,498 479.5,495 479.4,492 479.3,489 479.2,486 479,483 478.9,480 478.8,477 478.6,474 478.5,471 478.4,468 478.2,465 478.1,462 478,461.3Z"/>
<path fill="#b40038" stroke="#b40038" stroke-width="0.4" fill-rule="evenodd" d="M478,462 478,461.3 478.1,462 478.2,465 478.4,468 478.5,471 478.6,474 478.8,477 478.9,480 479,483 479.2,486 479.3,489 479.4,492 479.5,495 479.6,498 479.7,501 479.7,504 479.8,507 479.9,510 479.9,513 480,516 480.1,519 480.2,522 480.2,525 480.3,528 480.4,531 480.4,534 480.5,537 480.6,540 480.6,543 480.5,546 480.5,549 480.5,552 480.5,555 480.5,558 480.5,561 480.5,564 480.4,567 480.4,570 480.4,573 480.4,576 480.4,579 480.4,582 480.3,585 480.3,588 480.3,591 480.3,594 480.3,597 480.2,600 480.2,603 480.1,606 480.1,609 480,612 480,615 479.9,618 479.8,621 479.6,624 479.3,627 479,630 478.8,633 478.5,636 478.2,639 478,639.5 478,639 477.8,636 477.5,633 477.3,630 477.1,627 476.9,624 476.7,621 476.7,618 476.6,615 476.6,612 476.5,609 476.4,606 476.4,603 476.3,600 476.3,597 476.3,594 476.3,591 476.2,588 476.2,585 476.2,582 476.1,579 476.1,576 476.1,573 476.1,570 476,567 476,564 476,561 475.9,558 475.9,555 475.9,552 475.8,549 475.8,546 475.8,543 475.8,540 475.8,537 475.9,534 475.9,531 476,528 476,525 476.1,522 476.1,519 476.2,516 476.2,513 476.3,510 476.3,507 476.4,504 476.4,501 476.5,498 476.5,495 476.6,492 476.8,489 476.9,486 477,483 477.1,480 477.3,477 477.4,474 477.6,471 477.7,468 477.8,465 478,462ZM478,494.4 478,495 478,498 477.9,501 477.8,504 477.8,507 477.7,510 477.6,513 477.6,516 477.5,519 477.5,522 477.4,525 477.3,528 477.3,531 477.2,534 477.2,537 477.1,540 477.1,543 477.2,546 477.2,549 477.2,552 477.2,555 477.3,558 477.3,561 477.3,564 477.4,567 477.4,570 477.4,573 477.4,576 477.5,579 477.5,582 477.5,585 477.5,588 477.6,591 477.6,594 477.6,597 477.7,600 477.7,603 477.8,606 477.8,609 477.9,612 477.9,615 478,618 478,621 478.1,618 478.2,615 478.3,612 478.3,609 478.4,606 478.5,603 478.6,600 478.6,597 478.6,594 478.6,591 478.7,588 478.7,585 478.7,582 478.8,579 478.8,576 478.8,573 478.8,570 478.9,567 478.9,564 478.9,561 478.9,558 479,555 479,552 479,549 479,546 479.1,543 479.1,540 479,537 479,534 478.9,531 478.8,528 478.7,525 478.7,522 478.6,519 478.5,516 478.5,513 478.4,510 478.3,507 478.3,504 478.2,501 478.1,498 478.1,495 478,494.4Z"/>
<path fill="#880068" stroke="#880068" stroke-width="0.4" fill-rule="evenodd" d="M478,495 478,494.4 478.1,495 478.1,498 478.2,501 478.3,504 478.3,507 478.4,510 478.5,513 478.5,516 478.6,519 478.7,522 478.7,525 478.8,528 478.9,531 479,534 479,537 479.1,540 479.1,543 479,546 479,549 479,552 479,555 478.9,558 478.9,561 478.9,564 478.9,567 478.8,570 478.8,573 478.8,576 478.8,579 478.7,582 478.7,585 478.7,588 478.6,591 478.6,594 478.6,597 478.6,600 478.5,603 478.4,606 478.3,609 478.3,612 478.2,615 478.1,618 478,621 478,618 477.9,615 477.9,612 477.8,609 477.8,606 477.7,603 477.7,600 477.6,597 477.6,594 477.6,591 477.5,588 477.5,585 477.5,582 477.5,579 477.4,576 477.4,573 477.4,570 477.4,567 477.3,564 477.3,561 477.3,558 477.2,555 477.2,552 477.2,549 477.2,546 477.1,543 477.1,540 477.2,537 477.2,534 477.3,531 477.3,528 477.4,525 477.5,522 477.5,519 477.6,516 477.6,513 477.7,510 477.8,507 477.8,504 477.9,501 478,498 478,495Z"/>
<g fill="none" stroke="#000" stroke-width="1" stroke-linejoin="round" shape-rendering="crispEdges"><polyline points="125.7,180 150,182 191.4,181.4 217.1,176.6 248.6,179.1 271.4,177.7 282.9,172 300,166.3 317.1,162.9 337.1,160 357.1,156.6 374.3,152.9"/>
<polyline points="494.3,154.3 500,171.4 506.4,187.1 512.9,200.7 524.3,200.7 534.3,195.7 557.1,188.6 568.6,186.4 580,180.7 591.4,170 600,165 612,160 626,154"/>
<polyline points="125.7,225.7 171.4,227.7 214.3,224.3 254.3,228.6 271.4,226.6 300,217.1 328.6,210.6 374.3,201.4 414.3,191.4 425.7,185.7 442.9,174.3 460,161.4 471.4,152.9"/>
<polyline points="478.6,154.3 485.7,170 492.9,188.6 500,207.1 506.4,224.3 512.9,241.4 522.9,242.1 534.3,237.1 557.1,228.6 571.4,224.3 580,221.4 591.4,211.4 600,207.1 612,198 624,188 637,187 643,198 652,220 659,233 671,218 682,230 694,236 712,246 728,255 739,255 744,244 750,232 761,219 784,215 818,201 830,207 842,223 852,225 864,219 880,217 920,234 943,226 966,230 978,226 988,214 1000,204 1011,203 1023,220 1034,218 1046,215 1058,219 1068,232 1080,242 1090,245 1102,238 1114,232 1126,230 1136,231 1140,233 1149,232 1160,224 1170,216 1180,200 1190,190 1204,179 1216,169 1226,176 1232,187 1238,198 1251,209 1262,210 1272,210"/>
<polyline points="125.7,272.9 162.9,273.7 214.3,272 260,279.4 271.4,278.3 305.7,265.7 334.3,258.6 380,247.1 414.3,235.7 427.1,230 442.9,217.1 460,201.4 474.3,187.1 477.9,189.3 485.7,204.3 492.9,221.4 500,238.6 506.4,255.7 512.9,274.3 522.9,274.3 534.3,268.6 557.1,261.4 580,255.7 591.4,247.1 600,242.9 600,242 612,236 624,224 637,227 642,254 649,272 660,272 671,260 680,263 694,266 704,270 720,286 730,295 739,301 750,278 761,265 786,259 818,243 830,248 842,264 852,265 864,259 880,258 920,271 943,264 966,267 978,264 989,252 1000,248 1011,254 1034,251 1046,250 1058,255 1068,264 1080,278 1090,288 1102,288 1114,282 1126,280 1136,281 1140,277 1149,271 1160,263 1170,250 1180,234 1190,224 1204,210 1216,202 1226,216 1232,227 1238,235 1251,243 1262,244 1272,244"/>
<polyline points="125.7,319.4 171.4,321.4 214.3,320 260,328.6 271.4,328 305.7,314.3 328.6,310.9 362.9,298.6 385.7,294.3 414.3,280 428.6,272.9 442.9,260 460,240 477.1,218.6 492.9,250 500,268.6 506.4,285.7 512.9,300.7 522.9,300.7 534.3,294.3 557.1,287.9 580,287.9 591.4,279.3 600,275.7 600,275 615,268 625,268 630,286 637,310 648,314 660,308 676,296 682,294 693,296 704,302 720,322 730,330 739,334 750,320 761,304 786,296 818,286 830,288 842,300 852,302 864,298 880,296 920,305 943,297 955,298 978,298 989,292 1000,298 1012,307 1023,288 1034,287 1052,289 1064,298 1074,314 1086,326 1102,331 1114,326 1130,320 1140,313 1149,306 1160,296 1170,282 1180,266 1190,255 1198,250 1216,243 1228,256 1232,262 1240,270 1251,275 1272,275"/>
<polyline points="125.7,365.7 171.4,368.6 205.7,367.1 248.6,372.9 271.4,374.3 300,364.3 328.6,357.7 362.9,344.3 385.7,337.1 414.3,322.9 431.4,311.4 448.6,291.4 462.9,268.6 477.1,238.6 491.4,271.4 498.6,290 505.7,307.1 511.4,319.3 522.9,317.9 534.3,312.9 557.1,308.6 568.6,311.4 580,310 591.4,304.3 600,302.9 615,303 620,316 628,334 638,344 648,348 660,342 671,332 682,322 704,326 716,352 728,358 739,362 750,352 761,339 778,333 798,335 808,330 818,325 830,323 842,331 852,333 864,330 880,329 920,337 932,330 955,324 966,325 986,328 1000,337 1012,342 1023,320 1034,322 1058,324 1068,329 1080,350 1090,362 1102,373 1114,368 1126,360 1140,345 1149,337 1160,326 1170,312 1180,298 1190,291 1204,287 1216,287.6 1228,293 1238,303 1249,307 1272,307"/>
<polyline points="125.7,410.9 171.4,412.9 214.3,410.9 254.3,416.3 274.3,415.7 300,407.1 328.6,400.6 357.1,388.6 385.7,377.1 408.6,360 428.6,341.4 445.7,322.9 460,300 477.1,257.1 491.4,292.9 498.6,311.4 505.7,327.1 512.9,336.4 524.3,337.1 534.3,332.9 545.7,330.7 568.6,334.3 580,332.9 591.4,330.7 600,332.1 600,333 608,338 616,350 625,366 638,373 652,373 660,370 671,360 682,344 693,343 704,350 715,370 728,379 740,383 750,381 761,370 772,367 786,369 797,377 808,373 818,364 830,355 842,362 852,365 864,363 880,361 920,367 932,360 955,347 966,347 978,356 989,366 1000,371 1011,373 1023,352 1034,358 1058,357 1070,362 1080,380 1090,396 1102,410 1114,404 1136,376 1140,373 1149,366 1160,354 1170,344 1180,336 1193,332.4 1204,335 1216,335.6 1228,339 1240,344 1272,344.4"/>
<polyline points="125.7,453.4 171.4,454.3 214.3,452.3 251.4,455.1 271.4,455.1 300,451.4 328.6,445.7 345.7,434.3 368.6,411.4 397.1,382.9 414.3,365.7 431.4,351.4 448.6,328.6 462.9,308.6 477.1,282.9 495.7,321.4 502.9,340 508.6,350 512.9,354.3 522.9,352.9 534.3,350 545.7,350 568.6,353.6 580,357.1 591.4,360.7 600,364.3 600,365 612,380 625,399 638,403 652,399 671,382 682,369 693,368 704,376 715,388 728,394 740,400 750,406 772,403 784,408 797,416 808,408 818,400 830,390 842,396 852,400 864,396 880,393 920,394 943,380 966,370 978,375 989,392 1000,401 1011,402 1023,386 1034,391 1058,392 1070,394 1080,408 1090,424 1091,430 1102,441 1114,430 1130,410 1140,401 1149,393 1160,383 1170,375 1182,370.6 1193,375 1204,383 1216,388 1228,390 1240,388 1251,385 1262,382.4 1272,382"/>
<polyline points="125.7,496.6 171.4,494.3 214.3,490.9 251.4,492.3 300,492 320,488.6 337.1,477.1 357.1,454.3 385.7,422.9 408.6,394.3 431.4,368.6 448.6,351.4 460,337.1 467.1,330 477.1,329.4 477.9,330.7 488.6,352.9 498.6,360 505.7,368.6 512.9,375 524.3,375.4 545.7,372.1 568.6,376.4 578.6,380 584.3,387.1 591.4,397.1 600,400"/>
<polyline points="125.7,536.6 171.4,535.7 214.3,530.9 260,527.1 300,515.7 328.6,504.3 337.1,500 357.1,485.7 385.7,460 408.6,442.9 420,430 431.4,437.1 442.9,454.3 451.4,488.6 457.1,540 456,560 460,610 464,660 465.6,700 463,712 461,720 454,728 448,748 440,768 433,782 431,788"/>
<polyline points="125.7,565.7 157.1,568.6 202.9,568 234.3,561.4 260,548.6 282.9,537.1 317.1,522.9 337.1,515.7 362.9,508.6 375.7,511.4 388.6,534.3 397.1,585.7 405.7,671.4 408.6,728.6 402.9,771.4 391.4,810"/>
<polyline points="125.7,584.3 157.1,585.7 214.3,581.4 237.1,574.3 245.7,567.1 260,561.4 282.9,551.4 311.4,545.1 331.4,545.7 342.9,554.3 354.3,574.3 362.9,614.3 368.6,671.4 372.9,728.6 374.3,771.4 367.1,811.4"/>
<polyline points="125.7,595.7 157.1,594.3 214.3,588 237.1,584.3 248.6,577.1 265.7,571.4 285.7,568.6 305.7,570 320,581.4 331.4,605.7 340,642.9 344.3,700 346.3,757.1 342.9,794.3 328.6,810.9"/>
<polyline points="125.7,614.3 157.1,610 194.3,605.7 225.7,604.3 248.6,597.1 262.9,597.1 277.1,608.6 288.6,628.6 300,665.7 305.7,728.6 306.3,757.1 300,794.3 295.7,811.4"/>
<polyline points="125.7,632 142.9,630 171.4,624.3 194.3,622.3 214.3,630 234.3,640 248.6,662.9 257.1,700 261.4,742.9 262.9,785.7 258.6,808.6 245.7,825.7"/>
<polyline points="125.7,672.9 157.1,674.3 182.9,677.1 194.3,687.1 202.9,714.3 210,751.4 211.4,785.7 207.1,814.3 191.4,827.1"/>
<polyline points="125.7,841.4 157.1,837.1 177.1,831.4 194.3,828"/>
<polyline points="264.3,825.7 277.1,817.1 295.7,812.9"/>
<polyline points="477.6,766 471,746 468,720 467,680 468,640 473,600 478,560 478.3,530 479.3,487.1 481.4,458.6 484.3,437.1 488.6,418.6 494.3,414.3 500.7,411.4 511.4,414.3 522.9,413.6 534.3,417.1 545.7,407.9 571.4,411.4 581.4,421.4 591.4,442.9 600,445.7 612,452 626,457 648,455 660,450 670,444 682,433 693,434 706,439 716,438 730,445 746,456 753,470 760,481 774,490 796,491 808,483 819,478 830,483 842,488 852,490 864,484 886,474 899,476 910,473 921,457 932,438 943,438 955,451 966,443 978,441 982,452 990,469 1000,465 1010,463 1020,465 1023,468 1035,464 1046,488 1057,486 1068,462 1080,476 1091,484 1102,491 1114,481 1125,470 1148,460 1160,448 1170,446 1181,458 1192,477 1204,488 1216,496 1227,498 1238,496 1250,493 1262,494 1272,495"/>
<polyline points="484.4,766 482.4,740 482.4,700 484,640 486,600 488,560 484,640 488,560 494,526 498,504 502,490 512,485 522,489 534,496 546,496 558,506 570,518 580,530 591,530 602,522 608,514 618,500 628,489 638,481 648,486 660,482 672,478 682,490 694,511 706,504 716,474 728,488 740,486 750,506 760,528 762,538 773,551 783,551 796,539 808,530 819,534 830,552 842,558 852,558 864,547 876,536 887,530 899,532 910,525 921,501 932,504 943,512 955,523 966,503 978,507 990,524 1000,508 1011,498 1020,508 1023,516 1035,532 1046,543 1057,533 1068,498 1080,502 1091,510 1102,516 1114,511 1125,504 1136,507 1148,506 1160,501 1170,514 1181,528 1192,536 1204,542 1216,548 1227,548 1238,545 1250,542 1262,541 1272,542"/>
<polyline points="493,766 489.6,740 489.6,700 492,660 497,600 504,560 506,554 512,540 523,536 534,540 546,541 557,550 568,570 580,575 591,572 602,570 613,569 620,550 628,530 638,517 648,525 660,527 670,546 682,571 694,571 706,554 716,542 728,532 740,528 746,546 752,564 760,576 762,577 774,581 787,582 796,575 808,575 819,587 830,593 842,591 853,586 864,578 876,569 887,567 899,563 910,574 921,545 932,546 943,554 955,562 966,558 978,560 990,574 1000,564 1011,536 1020,547 1023,548 1032,570 1043,579 1057,568 1068,534 1080,543 1091,549 1102,547 1114,548 1125,551 1136,563 1148,570 1160,571 1172,582 1181,584 1192,587 1204,590 1216,590 1227,589 1238,584 1250,582 1262,580 1272,579.6"/>
<polyline points="503,781 500,766 499,736 501,690 507,640 513,602 523,583 534,579 546,579 557,582 568,598 580,608 592,614 602,617 613,619 620,606 628,582 638,557 648,559 660,568 670,586 682,612 694,611 706,596 716,594 722,578 728,570 740,568 746,584 751,593 760,594 762,596 783,600 796,600 808,605 819,611 830,613 842,611 853,609 864,609 876,603 887,597 899,592 910,612 921,590 932,584 943,599 955,602 966,601 978,600 990,613 1000,612 1011,572 1020,582 1023,586 1035,610 1046,607 1057,595 1068,595 1080,594 1091,598 1102,590 1114,606 1125,616 1136,619 1160,619 1170,624 1181,624 1192,626 1204,632 1216,633 1227,627 1238,620 1250,618 1262,616 1272,616"/>
<polyline points="519,812 513,790 515,760 518,720 523,692 534,660 546,655 557,652 568,659 580,664 592,667 613,667 620,650 628,626 638,600 648,596 660,620 670,643 682,656 694,648 706,634 716,634 722,620 728,610 740,607 751,615 760,611 762,611 773,612 785,620 808,630 819,632 830,632 842,629 853,633 864,643 876,651 887,639 899,635 910,639 921,638 932,639 943,647 955,653 966,643 978,638 990,647 1000,652 1011,616 1020,632 1023,636 1046,635 1057,624 1068,636 1091,637 1102,643 1114,652 1125,652 1148,647 1160,649 1170,651 1181,651 1192,657 1204,668 1216,672 1227,667 1238,662 1250,660 1262,658 1272,656.4"/>
<polyline points="578,889 573.6,874 572.4,850 574,830 579,800 584,774 589,752 595,738 604,724 613,713 624,690 630,670 638,647 648,647 654,668 660,682 666,688 673,698 682,705 694,694 700,682 706,671 716,675 722,662 728,653 740,651 751,654 760,652 762,650 773,650 785,655 796,663 808,667 819,667 830,661 842,659 853,666 860,678 864,684 876,705 886,707 898,695 910,672 942,690 955,696 978,673 990,674 1000,685 1011,658 1020,668 1023,671 1035,668 1057,679 1068,674 1080,672 1091,677 1102,687 1112,690 1120,687 1125,684 1137,680 1148,678 1160,679 1182,681 1193,683 1204,691 1216,696 1238,696 1260,695.6 1272,694.4"/>
<polyline points="607,889 605.6,870 606,840 608,810 611,790 616,770 623,752 630,736 638,715 648,715 660,736 670,751 682,763 695,749 705,730 720,750 726,768 731,794 735,822 737,850 736,880 732,904 727,912 723,920"/>
<polyline points="663,905 657.6,888 656.4,870 658,853 664,847 671,843 678,858 682,870 685,886 682,905"/>
<polyline points="625,898 632,900 638,904"/>
<polyline points="841,895 832,890 831,886 825,874 824,830 828,798 833,776 838,754 841,747 853,744 860,758 865,767 868,790 871,814 872,840 870,860 865,874"/>
<polyline points="899,827 900,790 904,750 909,731 920,721.6 930,724.4 942,723 955,722 966,710 978,701 989,701 1000,715 1011,698 1020,704 1024,709 1035,711 1046,733 1057,724 1068,711 1080,707.6 1091,714 1102,718 1114,720 1125,715.6 1137,725 1148,725 1160,721 1171,718 1182,715 1193,709.6 1204,711 1216,717 1227,723 1238,727 1260,727 1272,726.6"/>
<polyline points="921,827 914,813 913.6,806 916,790 920,777 932,764 946,749 955,743 966,738 978,731 989,729 1000,744 1011,734 1020,740 1023,746 1035,758 1046,763 1057,752 1068,744 1080,740 1091,740 1102,741 1114,742 1125,750 1137,754 1148,754 1160,752 1176,751 1193,741 1204,738 1216,740 1227,750 1238,757 1260,758 1272,757"/>
<polyline points="942,827 940,810 942,798 948,782 956,768 966,763 978,759 989,762 1000,780 1011,773 1020,781 1023,788 1034,809 1046,797 1057,782 1068,774 1080,772 1091,770 1102,769 1114,771 1125,781 1137,775 1148,772 1160,767 1171,769 1182,774 1193,774 1204,763.6 1216,767 1227,778 1238,783 1250,784 1272,783"/>
<polyline points="966,843 963.6,828 966,820 978,808 989,807 995,830 1004,858 1008,880 1009,908 1007,922 1000,928"/>
<polyline points="1068,827 1068,812 1080,804 1091,801 1102,799 1114,804 1125,804 1137,795 1148,793 1160,788 1171,786 1182,792 1193,797 1204,794.4 1216,795 1227,800 1238,803 1250,804.4 1272,804.4"/>
<polyline points="1104,889.6 1104,870 1107,858 1114,847 1125,833 1137,820 1148,817 1171,815 1193,817 1204,819 1227,819 1250,822 1260,823.6 1272,823.6"/>
<polyline points="1128,889.6 1128,876 1136,860 1148,847.6 1171,846 1182,845 1204,846 1227,846.4 1250,843 1272,841.6"/>
<polyline points="1170,935 1163,920 1161,906 1164,890 1171,883 1182,879.6 1193,884.4 1204,883 1216,879 1227,876 1250,875 1260,873 1272,872.4"/>
<polyline points="1236,982 1234,950 1234,938 1238,924 1250,915 1260,913.6 1272,914.4"/>
<polyline points="1208,670 1216,672.4 1222,670"/>
<polyline points="600,400 612,416 625,430 638,430 648,428 660,422 672,412 682,398 693,397 704,402 720,416 736,422 748,430 750,432 760,438 762,441 774,445 796,451 808,444 819,437 830,431 842,435 853,439 864,435 876,430 888,427 899,426 910,433 921,420 929,410 943,404 966,397 978,402 989,422 990,429 1000,432 1011,431 1023,424 1046,423 1057,436 1068,428 1080,445 1091,459 1102,467 1114,457 1125,444 1148,422 1160,414 1167,410 1170,407.4 1182,410 1193,421 1200,429 1204,436 1216,442 1227,445 1238,442 1250,438 1262,436 1272,435"/>
<polyline points="666,154 674,174 682,192 694,199 712,206 724,209 738,207 744,190 750,178 758,170 786,169 810,160 818,158.4 830,164 842,178 850,181 864,176 880,175 920,196 943,188 966,191 978,187 988,174 1000,161 1012,158 1022,176 1032,182 1046,180 1058,185 1068,195 1080,203 1090,201 1102,189 1114,182 1126,180 1136,181 1140,182 1149,186 1160,186 1170,183 1178,176 1190,164 1200,154"/>
<polyline points="684,154 704,164 720,164 738,157 741,154"/>
<polyline points="1237,154 1244,165 1251,172 1262,175 1272,175.6"/></g>
</g>
<path d="M125,1013 L125,843.3 L194.1,843.3 L194.1,828 L296.3,828 L296.3,812.6 L409.9,812.6 L409.9,797.2 L432.6,797.2 L432.6,781.9 L444,781.9 L444,766.5 L500.8,766.5 L500.8,781.9 L512.1,781.9 L512.1,812.6 L523.5,812.6 L523.5,843.3 L534.8,843.3 L534.8,858.6 L546.2,858.6 L546.2,874 L568.9,874 L568.9,889.4 L625.7,889.4 L625.7,904.7 L682.5,904.7 L682.5,920 L739.2,920 L739.2,935.4 L784.7,935.4 L784.7,920 L796,920 L796,904.7 L841.5,904.7 L841.5,889.4 L852.8,889.4 L852.8,874 L875.5,874 L875.5,843.3 L886.9,843.3 L886.9,828 L955,828 L955,843.3 L966.4,843.3 L966.4,858.6 L977.7,858.6 L977.7,889.4 L989.1,889.4 L989.1,920 L1000.4,920 L1000.4,935.4 L1011.8,935.4 L1011.8,920 L1023.2,920 L1023.2,889.4 L1034.5,889.4 L1034.5,843.3 L1045.9,843.3 L1045.9,828 L1079.9,828 L1079.9,874 L1091.3,874 L1091.3,904.7 L1102.7,904.7 L1102.7,889.4 L1148.1,889.4 L1148.1,904.7 L1159.4,904.7 L1159.4,935.4 L1193.5,935.4 L1193.5,951.2 L1204.9,951.2 L1204.9,966.6 L1227.6,966.6 L1227.6,982.5 L1250.3,982.5 L1250.3,997.7 L1273,997.7 L1273,1013 Z" fill="#fff" stroke="none"/>
<polyline points="125,843.3 194.1,843.3 194.1,828 296.3,828 296.3,812.6 409.9,812.6 409.9,797.2 432.6,797.2 432.6,781.9 444,781.9 444,766.5 500.8,766.5 500.8,781.9 512.1,781.9 512.1,812.6 523.5,812.6 523.5,843.3 534.8,843.3 534.8,858.6 546.2,858.6 546.2,874 568.9,874 568.9,889.4 625.7,889.4 625.7,904.7 682.5,904.7 682.5,920 739.2,920 739.2,935.4 784.7,935.4 784.7,920 796,920 796,904.7 841.5,904.7 841.5,889.4 852.8,889.4 852.8,874 875.5,874 875.5,843.3 886.9,843.3 886.9,828 955,828 955,843.3 966.4,843.3 966.4,858.6 977.7,858.6 977.7,889.4 989.1,889.4 989.1,920 1000.4,920 1000.4,935.4 1011.8,935.4 1011.8,920 1023.2,920 1023.2,889.4 1034.5,889.4 1034.5,843.3 1045.9,843.3 1045.9,828 1079.9,828 1079.9,874 1091.3,874 1091.3,904.7 1102.7,904.7 1102.7,889.4 1148.1,889.4 1148.1,904.7 1159.4,904.7 1159.4,935.4 1193.5,935.4 1193.5,951.2 1204.9,951.2 1204.9,966.6 1227.6,966.6 1227.6,982.5 1250.3,982.5 1250.3,997.7 1273,997.7" fill="none" stroke="#000" stroke-width="1"/>
<g transform="translate(479,196) rotate(70)"><rect x="-7" y="-4.5" width="14" height="9" fill="#fff"/><text x="0" y="3.6" font-size="10" stroke="#000" stroke-width="0.35" text-anchor="middle">42</text></g>
<g transform="translate(467,257) rotate(-60)"><rect x="-7" y="-4.5" width="14" height="9" fill="#fff"/><text x="0" y="3.6" font-size="10" stroke="#000" stroke-width="0.35" text-anchor="middle">40</text></g>
<g transform="translate(467,298) rotate(-60)"><rect x="-7" y="-4.5" width="14" height="9" fill="#fff"/><text x="0" y="3.6" font-size="10" stroke="#000" stroke-width="0.35" text-anchor="middle">38</text></g>
<g transform="translate(170,274) rotate(0)"><rect x="-7" y="-4.5" width="14" height="9" fill="#fff"/><text x="0" y="3.6" font-size="10" stroke="#000" stroke-width="0.35" text-anchor="middle">42</text></g>
<g transform="translate(138,454) rotate(0)"><rect x="-7" y="-4.5" width="14" height="9" fill="#fff"/><text x="0" y="3.6" font-size="10" stroke="#000" stroke-width="0.35" text-anchor="middle">38</text></g>
<g transform="translate(148,536) rotate(0)"><rect x="-7" y="-4.5" width="14" height="9" fill="#fff"/><text x="0" y="3.6" font-size="10" stroke="#000" stroke-width="0.35" text-anchor="middle">36</text></g>
<g transform="translate(252,566) rotate(-25)"><rect x="-7" y="-4.5" width="14" height="9" fill="#fff"/><text x="0" y="3.6" font-size="10" stroke="#000" stroke-width="0.35" text-anchor="middle">34</text></g>
<g transform="translate(171,608) rotate(0)"><rect x="-7" y="-4.5" width="14" height="9" fill="#fff"/><text x="0" y="3.6" font-size="10" stroke="#000" stroke-width="0.35" text-anchor="middle">32</text></g>
<g transform="translate(448,488) rotate(90)"><rect x="-7" y="-4.5" width="14" height="9" fill="#fff"/><text x="0" y="3.6" font-size="10" stroke="#000" stroke-width="0.35" text-anchor="middle">36</text></g>
<g transform="translate(478,520) rotate(90)"><rect x="-7" y="-4.5" width="14" height="9" fill="#fff"/><text x="0" y="3.6" font-size="10" stroke="#000" stroke-width="0.35" text-anchor="middle">36</text></g>
<g transform="translate(500,575) rotate(-90)"><rect x="-7" y="-4.5" width="14" height="9" fill="#fff"/><text x="0" y="3.6" font-size="10" stroke="#000" stroke-width="0.35" text-anchor="middle">34</text></g>
<g transform="translate(515,797) rotate(-90)"><rect x="-7" y="-4.5" width="14" height="9" fill="#fff"/><text x="0" y="3.6" font-size="10" stroke="#000" stroke-width="0.35" text-anchor="middle">32</text></g>
<g transform="translate(608,811) rotate(90)"><rect x="-7" y="-4.5" width="14" height="9" fill="#fff"/><text x="0" y="3.6" font-size="10" stroke="#000" stroke-width="0.35" text-anchor="middle">30</text></g>
<g transform="translate(671,260) rotate(-20)"><rect x="-7" y="-4.5" width="14" height="9" fill="#fff"/><text x="0" y="3.6" font-size="10" stroke="#000" stroke-width="0.35" text-anchor="middle">42</text></g>
<g transform="translate(693,320) rotate(15)"><rect x="-7" y="-4.5" width="14" height="9" fill="#fff"/><text x="0" y="3.6" font-size="10" stroke="#000" stroke-width="0.35" text-anchor="middle">40</text></g>
<g transform="translate(728,394) rotate(10)"><rect x="-7" y="-4.5" width="14" height="9" fill="#fff"/><text x="0" y="3.6" font-size="10" stroke="#000" stroke-width="0.35" text-anchor="middle">38</text></g>
<g transform="translate(740,444) rotate(30)"><rect x="-7" y="-4.5" width="14" height="9" fill="#fff"/><text x="0" y="3.6" font-size="10" stroke="#000" stroke-width="0.35" text-anchor="middle">36</text></g>
<g transform="translate(742,535) rotate(70)"><rect x="-7" y="-4.5" width="14" height="9" fill="#fff"/><text x="0" y="3.6" font-size="10" stroke="#000" stroke-width="0.35" text-anchor="middle">34</text></g>
<g transform="translate(719,627) rotate(-70)"><rect x="-7" y="-4.5" width="14" height="9" fill="#fff"/><text x="0" y="3.6" font-size="10" stroke="#000" stroke-width="0.35" text-anchor="middle">32</text></g>
<g transform="translate(864,176) rotate(-10)"><rect x="-7" y="-4.5" width="14" height="9" fill="#fff"/><text x="0" y="3.6" font-size="10" stroke="#000" stroke-width="0.35" text-anchor="middle">44</text></g>
<g transform="translate(941,327) rotate(-15)"><rect x="-7" y="-4.5" width="14" height="9" fill="#fff"/><text x="0" y="3.6" font-size="10" stroke="#000" stroke-width="0.35" text-anchor="middle">40</text></g>
<g transform="translate(1022,256) rotate(0)"><rect x="-7" y="-4.5" width="14" height="9" fill="#fff"/><text x="0" y="3.6" font-size="10" stroke="#000" stroke-width="0.35" text-anchor="middle">42</text></g>
<g transform="translate(1045,388) rotate(0)"><rect x="-7" y="-4.5" width="14" height="9" fill="#fff"/><text x="0" y="3.6" font-size="10" stroke="#000" stroke-width="0.35" text-anchor="middle">38</text></g>
<g transform="translate(983,457) rotate(70)"><rect x="-7" y="-4.5" width="14" height="9" fill="#fff"/><text x="0" y="3.6" font-size="10" stroke="#000" stroke-width="0.35" text-anchor="middle">36</text></g>
<g transform="translate(1004,641) rotate(-75)"><rect x="-7" y="-4.5" width="14" height="9" fill="#fff"/><text x="0" y="3.6" font-size="10" stroke="#000" stroke-width="0.35" text-anchor="middle">32</text></g>
<g transform="translate(1034,580) rotate(75)"><rect x="-7" y="-4.5" width="14" height="9" fill="#fff"/><text x="0" y="3.6" font-size="10" stroke="#000" stroke-width="0.35" text-anchor="middle">34</text></g>
<g transform="translate(1019,703) rotate(40)"><rect x="-7" y="-4.5" width="14" height="9" fill="#fff"/><text x="0" y="3.6" font-size="10" stroke="#000" stroke-width="0.35" text-anchor="middle">30</text></g>
<g transform="translate(966,763) rotate(-15)"><rect x="-7" y="-4.5" width="14" height="9" fill="#fff"/><text x="0" y="3.6" font-size="10" stroke="#000" stroke-width="0.35" text-anchor="middle">28</text></g>
<line x1="178.1" y1="1013" x2="178.1" y2="999" stroke="#000" stroke-width="1.2"/>
<line x1="178.1" y1="155" x2="178.1" y2="169" stroke="#000" stroke-width="1.2"/>
<line x1="230.8" y1="1013" x2="230.8" y2="999" stroke="#000" stroke-width="1.2"/>
<line x1="230.8" y1="155" x2="230.8" y2="169" stroke="#000" stroke-width="1.2"/>
<line x1="283.4" y1="1013" x2="283.4" y2="999" stroke="#000" stroke-width="1.2"/>
<line x1="283.4" y1="155" x2="283.4" y2="169" stroke="#000" stroke-width="1.2"/>
<line x1="336" y1="1013" x2="336" y2="985" stroke="#000" stroke-width="2"/>
<line x1="336" y1="155" x2="336" y2="183" stroke="#000" stroke-width="2"/>
<line x1="388.6" y1="1013" x2="388.6" y2="999" stroke="#000" stroke-width="1.2"/>
<line x1="388.6" y1="155" x2="388.6" y2="169" stroke="#000" stroke-width="1.2"/>
<line x1="441.2" y1="1013" x2="441.2" y2="999" stroke="#000" stroke-width="1.2"/>
<line x1="441.2" y1="155" x2="441.2" y2="169" stroke="#000" stroke-width="1.2"/>
<line x1="493.9" y1="1013" x2="493.9" y2="999" stroke="#000" stroke-width="1.2"/>
<line x1="493.9" y1="155" x2="493.9" y2="169" stroke="#000" stroke-width="1.2"/>
<line x1="546.5" y1="1013" x2="546.5" y2="985" stroke="#000" stroke-width="2"/>
<line x1="546.5" y1="155" x2="546.5" y2="183" stroke="#000" stroke-width="2"/>
<line x1="599.1" y1="1013" x2="599.1" y2="999" stroke="#000" stroke-width="1.2"/>
<line x1="599.1" y1="155" x2="599.1" y2="169" stroke="#000" stroke-width="1.2"/>
<line x1="651.8" y1="1013" x2="651.8" y2="999" stroke="#000" stroke-width="1.2"/>
<line x1="651.8" y1="155" x2="651.8" y2="169" stroke="#000" stroke-width="1.2"/>
<line x1="704.4" y1="1013" x2="704.4" y2="999" stroke="#000" stroke-width="1.2"/>
<line x1="704.4" y1="155" x2="704.4" y2="169" stroke="#000" stroke-width="1.2"/>
<line x1="757" y1="1013" x2="757" y2="985" stroke="#000" stroke-width="2"/>
<line x1="757" y1="155" x2="757" y2="183" stroke="#000" stroke-width="2"/>
<line x1="809.6" y1="1013" x2="809.6" y2="999" stroke="#000" stroke-width="1.2"/>
<line x1="809.6" y1="155" x2="809.6" y2="169" stroke="#000" stroke-width="1.2"/>
<line x1="862.2" y1="1013" x2="862.2" y2="999" stroke="#000" stroke-width="1.2"/>
<line x1="862.2" y1="155" x2="862.2" y2="169" stroke="#000" stroke-width="1.2"/>
<line x1="914.9" y1="1013" x2="914.9" y2="999" stroke="#000" stroke-width="1.2"/>
<line x1="914.9" y1="155" x2="914.9" y2="169" stroke="#000" stroke-width="1.2"/>
<line x1="967.5" y1="1013" x2="967.5" y2="985" stroke="#000" stroke-width="2"/>
<line x1="967.5" y1="155" x2="967.5" y2="183" stroke="#000" stroke-width="2"/>
<line x1="1020.1" y1="1013" x2="1020.1" y2="999" stroke="#000" stroke-width="1.2"/>
<line x1="1020.1" y1="155" x2="1020.1" y2="169" stroke="#000" stroke-width="1.2"/>
<line x1="1072.8" y1="1013" x2="1072.8" y2="999" stroke="#000" stroke-width="1.2"/>
<line x1="1072.8" y1="155" x2="1072.8" y2="169" stroke="#000" stroke-width="1.2"/>
<line x1="1125.4" y1="1013" x2="1125.4" y2="999" stroke="#000" stroke-width="1.2"/>
<line x1="1125.4" y1="155" x2="1125.4" y2="169" stroke="#000" stroke-width="1.2"/>
<line x1="1178" y1="1013" x2="1178" y2="985" stroke="#000" stroke-width="2"/>
<line x1="1178" y1="155" x2="1178" y2="183" stroke="#000" stroke-width="2"/>
<line x1="1230.6" y1="1013" x2="1230.6" y2="999" stroke="#000" stroke-width="1.2"/>
<line x1="1230.6" y1="155" x2="1230.6" y2="169" stroke="#000" stroke-width="1.2"/>
<line x1="126" y1="965.8" x2="146" y2="965.8" stroke="#000" stroke-width="1.2"/>
<line x1="1272" y1="965.8" x2="1252" y2="965.8" stroke="#000" stroke-width="1.2"/>
<line x1="126" y1="918" x2="146" y2="918" stroke="#000" stroke-width="1.2"/>
<line x1="1272" y1="918" x2="1252" y2="918" stroke="#000" stroke-width="1.2"/>
<line x1="126" y1="870.2" x2="166" y2="870.2" stroke="#000" stroke-width="2"/>
<line x1="1272" y1="870.2" x2="1232" y2="870.2" stroke="#000" stroke-width="2"/>
<line x1="126" y1="822.5" x2="146" y2="822.5" stroke="#000" stroke-width="1.2"/>
<line x1="1272" y1="822.5" x2="1252" y2="822.5" stroke="#000" stroke-width="1.2"/>
<line x1="126" y1="774.8" x2="146" y2="774.8" stroke="#000" stroke-width="1.2"/>
<line x1="1272" y1="774.8" x2="1252" y2="774.8" stroke="#000" stroke-width="1.2"/>
<line x1="126" y1="727" x2="166" y2="727" stroke="#000" stroke-width="2"/>
<line x1="1272" y1="727" x2="1232" y2="727" stroke="#000" stroke-width="2"/>
<line x1="126" y1="679.2" x2="146" y2="679.2" stroke="#000" stroke-width="1.2"/>
<line x1="1272" y1="679.2" x2="1252" y2="679.2" stroke="#000" stroke-width="1.2"/>
<line x1="126" y1="631.5" x2="146" y2="631.5" stroke="#000" stroke-width="1.2"/>
<line x1="1272" y1="631.5" x2="1252" y2="631.5" stroke="#000" stroke-width="1.2"/>
<line x1="126" y1="583.8" x2="166" y2="583.8" stroke="#000" stroke-width="2"/>
<line x1="1272" y1="583.8" x2="1232" y2="583.8" stroke="#000" stroke-width="2"/>
<line x1="126" y1="536" x2="146" y2="536" stroke="#000" stroke-width="1.2"/>
<line x1="1272" y1="536" x2="1252" y2="536" stroke="#000" stroke-width="1.2"/>
<line x1="126" y1="488.2" x2="146" y2="488.2" stroke="#000" stroke-width="1.2"/>
<line x1="1272" y1="488.2" x2="1252" y2="488.2" stroke="#000" stroke-width="1.2"/>
<line x1="126" y1="440.5" x2="166" y2="440.5" stroke="#000" stroke-width="2"/>
<line x1="1272" y1="440.5" x2="1232" y2="440.5" stroke="#000" stroke-width="2"/>
<line x1="126" y1="392.8" x2="146" y2="392.8" stroke="#000" stroke-width="1.2"/>
<line x1="1272" y1="392.8" x2="1252" y2="392.8" stroke="#000" stroke-width="1.2"/>
<line x1="126" y1="345" x2="146" y2="345" stroke="#000" stroke-width="1.2"/>
<line x1="1272" y1="345" x2="1252" y2="345" stroke="#000" stroke-width="1.2"/>
<line x1="126" y1="297.2" x2="166" y2="297.2" stroke="#000" stroke-width="2"/>
<line x1="1272" y1="297.2" x2="1232" y2="297.2" stroke="#000" stroke-width="2"/>
<line x1="126" y1="249.5" x2="146" y2="249.5" stroke="#000" stroke-width="1.2"/>
<line x1="1272" y1="249.5" x2="1252" y2="249.5" stroke="#000" stroke-width="1.2"/>
<line x1="126" y1="201.8" x2="146" y2="201.8" stroke="#000" stroke-width="1.2"/>
<line x1="1272" y1="201.8" x2="1252" y2="201.8" stroke="#000" stroke-width="1.2"/>
<rect x="126" y="154" width="1147" height="860" fill="none" stroke="#000" stroke-width="2"/>
<text x="125.5" y="1055.2" font-size="35.8" stroke="#000" stroke-width="1.2" text-anchor="middle">0</text>
<text x="336" y="1055.2" font-size="35.8" stroke="#000" stroke-width="1.2" text-anchor="middle">40</text>
<text x="546.5" y="1055.2" font-size="35.8" stroke="#000" stroke-width="1.2" text-anchor="middle">80</text>
<text x="757" y="1055.2" font-size="35.8" stroke="#000" stroke-width="1.2" text-anchor="middle">120</text>
<text x="967.5" y="1055.2" font-size="35.8" stroke="#000" stroke-width="1.2" text-anchor="middle">160</text>
<text x="1178" y="1055.2" font-size="35.8" stroke="#000" stroke-width="1.2" text-anchor="middle">200</text>
<text x="112.8" y="1027.9" font-size="36.4" stroke="#000" stroke-width="1.2" text-anchor="end">0</text>
<text x="112.8" y="884.6" font-size="36.4" stroke="#000" stroke-width="1.2" text-anchor="end">3</text>
<text x="112.8" y="741.4" font-size="36.4" stroke="#000" stroke-width="1.2" text-anchor="end">6</text>
<text x="112.8" y="598.1" font-size="36.4" stroke="#000" stroke-width="1.2" text-anchor="end">9</text>
<text x="112.8" y="454.9" font-size="36.4" stroke="#000" stroke-width="1.2" text-anchor="end">12</text>
<text x="112.8" y="311.6" font-size="36.4" stroke="#000" stroke-width="1.2" text-anchor="end">15</text>
<text x="112.8" y="168.4" font-size="36.4" stroke="#000" stroke-width="1.2" text-anchor="end">18</text>
<text x="177" y="81.6" font-size="34.4" font-weight="bold" textLength="519.5" lengthAdjust="spacingAndGlyphs" text-anchor="start">Wind-Parallel Section at Max W:</text>
<text x="708.8" y="81.6" font-size="34.4" font-weight="bold" textLength="480" lengthAdjust="spacingAndGlyphs" text-anchor="start">Vertical Velocity &amp; Pot.Temp.</text>
<text x="1196" y="79" font-size="20" font-weight="bold" textLength="28" lengthAdjust="spacingAndGlyphs" text-anchor="start">(C)</text>
<text x="355" y="107" font-size="26.5" stroke="#000" stroke-width="0.79" textLength="196" lengthAdjust="spacingAndGlyphs" text-anchor="start">Valid 1400 LST</text>
<text x="558" y="107" font-size="20" stroke="#000" stroke-width="0.60" textLength="76" lengthAdjust="spacingAndGlyphs" text-anchor="start">(1200Z)</text>
<text x="644" y="107" font-size="26.5" stroke="#000" stroke-width="0.79" textLength="219" lengthAdjust="spacingAndGlyphs" text-anchor="start">WED 4 Feb 2015</text>
<text x="871" y="106" font-size="20" stroke="#000" stroke-width="0.60" textLength="174" lengthAdjust="spacingAndGlyphs" text-anchor="start">[12hrFcst@0403z]</text>
<text x="540" y="122.8" font-size="17" stroke="#000" stroke-width="0.51" textLength="319" lengthAdjust="spacingAndGlyphs" text-anchor="start">boxWmax=254@-32.35,21.22,2880m</text>
<text x="585.3" y="1108" font-size="35.5" stroke="#000" stroke-width="1.06" textLength="229" lengthAdjust="spacingAndGlyphs" text-anchor="start">Distance [nm]</text>
<text transform="translate(46.5,710) rotate(-90)" font-size="35.5" stroke="#000" stroke-width="1.1" textLength="248" lengthAdjust="spacingAndGlyphs">Height [Kft MSL]</text>
<text x="556" y="1232.2" font-size="27.2" stroke="#000" stroke-width="0.82" textLength="289" lengthAdjust="spacingAndGlyphs" text-anchor="start">Vertical Velocity [cm/s]</text>
<rect x="186" y="1143.5" width="51.4" height="10.5" fill="#0000f8" stroke="#000" stroke-width="1"/>
<rect x="237.4" y="1143.5" width="51.4" height="10.5" fill="#0448f8" stroke="#000" stroke-width="1"/>
<rect x="288.8" y="1143.5" width="51.4" height="10.5" fill="#0496f8" stroke="#000" stroke-width="1"/>
<rect x="340.2" y="1143.5" width="51.4" height="10.5" fill="#00e6ff" stroke="#000" stroke-width="1"/>
<rect x="391.6" y="1143.5" width="51.4" height="10.5" fill="#00f0cc" stroke="#000" stroke-width="1"/>
<rect x="443" y="1143.5" width="51.4" height="10.5" fill="#00d684" stroke="#000" stroke-width="1"/>
<rect x="494.4" y="1143.5" width="51.4" height="10.5" fill="#06be3c" stroke="#000" stroke-width="1"/>
<rect x="545.8" y="1143.5" width="51.4" height="10.5" fill="#27b810" stroke="#000" stroke-width="1"/>
<rect x="597.2" y="1143.5" width="51.4" height="10.5" fill="#6ed010" stroke="#000" stroke-width="1"/>
<rect x="648.6" y="1143.5" width="51.4" height="10.5" fill="#b4e60a" stroke="#000" stroke-width="1"/>
<rect x="700" y="1143.5" width="51.4" height="10.5" fill="#ffff00" stroke="#000" stroke-width="1"/>
<rect x="751.4" y="1143.5" width="51.4" height="10.5" fill="#ffe000" stroke="#000" stroke-width="1"/>
<rect x="802.8" y="1143.5" width="51.4" height="10.5" fill="#ffc400" stroke="#000" stroke-width="1"/>
<rect x="854.2" y="1143.5" width="51.4" height="10.5" fill="#ffa800" stroke="#000" stroke-width="1"/>
<rect x="905.6" y="1143.5" width="51.4" height="10.5" fill="#ff8400" stroke="#000" stroke-width="1"/>
<rect x="957" y="1143.5" width="51.4" height="10.5" fill="#ff5800" stroke="#000" stroke-width="1"/>
<rect x="1008.4" y="1143.5" width="51.4" height="10.5" fill="#ff2000" stroke="#000" stroke-width="1"/>
<rect x="1059.8" y="1143.5" width="51.4" height="10.5" fill="#e80014" stroke="#000" stroke-width="1"/>
<rect x="1111.2" y="1143.5" width="51.4" height="10.5" fill="#b40038" stroke="#000" stroke-width="1"/>
<rect x="1162.6" y="1143.5" width="51.4" height="10.5" fill="#880068" stroke="#000" stroke-width="1"/>
<text x="186" y="1180.7" font-size="26" stroke="#000" stroke-width="0.8" text-anchor="middle" textLength="56" lengthAdjust="spacingAndGlyphs">-140</text>
<text x="340.2" y="1180.7" font-size="26" stroke="#000" stroke-width="0.8" text-anchor="middle" textLength="39.4" lengthAdjust="spacingAndGlyphs">-80</text>
<text x="494.4" y="1180.7" font-size="26" stroke="#000" stroke-width="0.8" text-anchor="middle" textLength="40" lengthAdjust="spacingAndGlyphs">-20</text>
<text x="648.6" y="1180.7" font-size="26" stroke="#000" stroke-width="0.8" text-anchor="middle" textLength="29" lengthAdjust="spacingAndGlyphs">40</text>
<text x="802.8" y="1180.7" font-size="26" stroke="#000" stroke-width="0.8" text-anchor="middle" textLength="45" lengthAdjust="spacingAndGlyphs">100</text>
<text x="957" y="1180.7" font-size="26" stroke="#000" stroke-width="0.8" text-anchor="middle" textLength="45" lengthAdjust="spacingAndGlyphs">160</text>
<text x="1111.2" y="1180.7" font-size="26" stroke="#000" stroke-width="0.8" text-anchor="middle" textLength="46.5" lengthAdjust="spacingAndGlyphs">220</text>
</svg>
</body></html>
